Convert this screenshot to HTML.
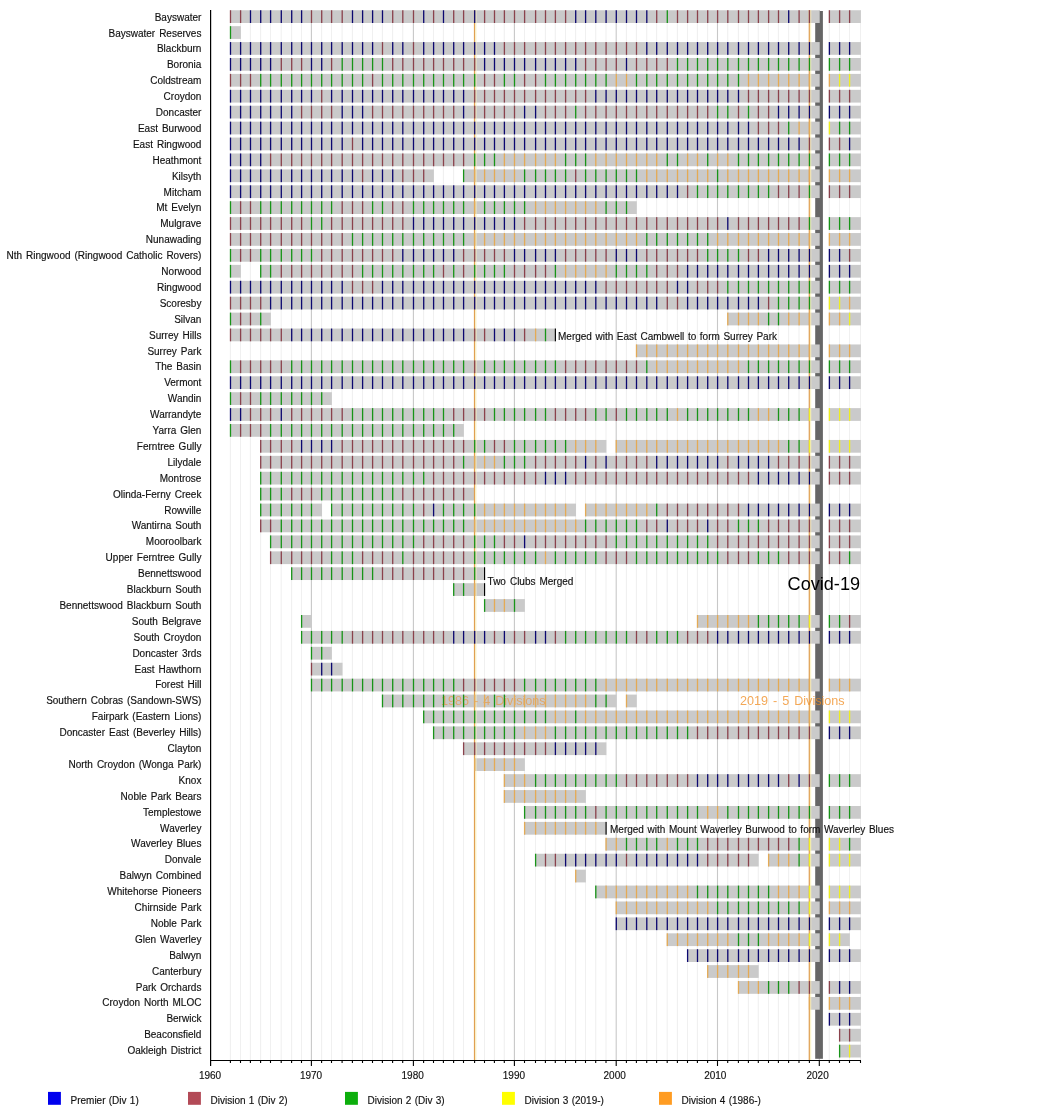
<!DOCTYPE html><html><head><meta charset="utf-8"><style>html,body{margin:0;padding:0;background:#fff;width:1050px;height:1110px;overflow:hidden}svg{display:block;will-change:transform}text{font-family:"Liberation Sans",sans-serif}</style></head><body>
<svg width="1050" height="1110" viewBox="0 0 1050 1110">
<rect width="1050" height="1110" fill="#fff"/>
<line x1="230.4" y1="10" x2="230.4" y2="1060.5" stroke="#f0f0f0" stroke-width="1.1"/>
<line x1="240.5" y1="10" x2="240.5" y2="1060.5" stroke="#f0f0f0" stroke-width="1.1"/>
<line x1="250.4" y1="10" x2="250.4" y2="1060.5" stroke="#f0f0f0" stroke-width="1.1"/>
<line x1="260.6" y1="10" x2="260.6" y2="1060.5" stroke="#f0f0f0" stroke-width="1.1"/>
<line x1="270.5" y1="10" x2="270.5" y2="1060.5" stroke="#f0f0f0" stroke-width="1.1"/>
<line x1="281.2" y1="10" x2="281.2" y2="1060.5" stroke="#f0f0f0" stroke-width="1.1"/>
<line x1="291.6" y1="10" x2="291.6" y2="1060.5" stroke="#f0f0f0" stroke-width="1.1"/>
<line x1="301.5" y1="10" x2="301.5" y2="1060.5" stroke="#f0f0f0" stroke-width="1.1"/>
<line x1="311.4" y1="10" x2="311.4" y2="1060.5" stroke="#c8c8c8" stroke-width="1.1"/>
<line x1="321.6" y1="10" x2="321.6" y2="1060.5" stroke="#f0f0f0" stroke-width="1.1"/>
<line x1="331.5" y1="10" x2="331.5" y2="1060.5" stroke="#f0f0f0" stroke-width="1.1"/>
<line x1="342.1" y1="10" x2="342.1" y2="1060.5" stroke="#f0f0f0" stroke-width="1.1"/>
<line x1="352.4" y1="10" x2="352.4" y2="1060.5" stroke="#f0f0f0" stroke-width="1.1"/>
<line x1="362.5" y1="10" x2="362.5" y2="1060.5" stroke="#f0f0f0" stroke-width="1.1"/>
<line x1="372.5" y1="10" x2="372.5" y2="1060.5" stroke="#f0f0f0" stroke-width="1.1"/>
<line x1="382.4" y1="10" x2="382.4" y2="1060.5" stroke="#f0f0f0" stroke-width="1.1"/>
<line x1="392.6" y1="10" x2="392.6" y2="1060.5" stroke="#f0f0f0" stroke-width="1.1"/>
<line x1="402.7" y1="10" x2="402.7" y2="1060.5" stroke="#f0f0f0" stroke-width="1.1"/>
<line x1="413.4" y1="10" x2="413.4" y2="1060.5" stroke="#c8c8c8" stroke-width="1.1"/>
<line x1="423.6" y1="10" x2="423.6" y2="1060.5" stroke="#f0f0f0" stroke-width="1.1"/>
<line x1="433.5" y1="10" x2="433.5" y2="1060.5" stroke="#f0f0f0" stroke-width="1.1"/>
<line x1="443.4" y1="10" x2="443.4" y2="1060.5" stroke="#f0f0f0" stroke-width="1.1"/>
<line x1="453.6" y1="10" x2="453.6" y2="1060.5" stroke="#f0f0f0" stroke-width="1.1"/>
<line x1="463.5" y1="10" x2="463.5" y2="1060.5" stroke="#f0f0f0" stroke-width="1.1"/>
<line x1="474.6" y1="10" x2="474.6" y2="1060.5" stroke="#f0f0f0" stroke-width="1.1"/>
<line x1="484.5" y1="10" x2="484.5" y2="1060.5" stroke="#f0f0f0" stroke-width="1.1"/>
<line x1="494.4" y1="10" x2="494.4" y2="1060.5" stroke="#f0f0f0" stroke-width="1.1"/>
<line x1="504.3" y1="10" x2="504.3" y2="1060.5" stroke="#f0f0f0" stroke-width="1.1"/>
<line x1="514.4" y1="10" x2="514.4" y2="1060.5" stroke="#c8c8c8" stroke-width="1.1"/>
<line x1="524.5" y1="10" x2="524.5" y2="1060.5" stroke="#f0f0f0" stroke-width="1.1"/>
<line x1="535.5" y1="10" x2="535.5" y2="1060.5" stroke="#f0f0f0" stroke-width="1.1"/>
<line x1="545.4" y1="10" x2="545.4" y2="1060.5" stroke="#f0f0f0" stroke-width="1.1"/>
<line x1="555.3" y1="10" x2="555.3" y2="1060.5" stroke="#f0f0f0" stroke-width="1.1"/>
<line x1="565.5" y1="10" x2="565.5" y2="1060.5" stroke="#f0f0f0" stroke-width="1.1"/>
<line x1="575.6" y1="10" x2="575.6" y2="1060.5" stroke="#f0f0f0" stroke-width="1.1"/>
<line x1="585.5" y1="10" x2="585.5" y2="1060.5" stroke="#f0f0f0" stroke-width="1.1"/>
<line x1="595.7" y1="10" x2="595.7" y2="1060.5" stroke="#f0f0f0" stroke-width="1.1"/>
<line x1="606.0" y1="10" x2="606.0" y2="1060.5" stroke="#f0f0f0" stroke-width="1.1"/>
<line x1="616.2" y1="10" x2="616.2" y2="1060.5" stroke="#c8c8c8" stroke-width="1.1"/>
<line x1="626.4" y1="10" x2="626.4" y2="1060.5" stroke="#f0f0f0" stroke-width="1.1"/>
<line x1="636.4" y1="10" x2="636.4" y2="1060.5" stroke="#f0f0f0" stroke-width="1.1"/>
<line x1="646.7" y1="10" x2="646.7" y2="1060.5" stroke="#f0f0f0" stroke-width="1.1"/>
<line x1="656.6" y1="10" x2="656.6" y2="1060.5" stroke="#f0f0f0" stroke-width="1.1"/>
<line x1="667.2" y1="10" x2="667.2" y2="1060.5" stroke="#f0f0f0" stroke-width="1.1"/>
<line x1="677.4" y1="10" x2="677.4" y2="1060.5" stroke="#f0f0f0" stroke-width="1.1"/>
<line x1="687.5" y1="10" x2="687.5" y2="1060.5" stroke="#f0f0f0" stroke-width="1.1"/>
<line x1="697.4" y1="10" x2="697.4" y2="1060.5" stroke="#f0f0f0" stroke-width="1.1"/>
<line x1="707.6" y1="10" x2="707.6" y2="1060.5" stroke="#f0f0f0" stroke-width="1.1"/>
<line x1="717.5" y1="10" x2="717.5" y2="1060.5" stroke="#c8c8c8" stroke-width="1.1"/>
<line x1="727.7" y1="10" x2="727.7" y2="1060.5" stroke="#f0f0f0" stroke-width="1.1"/>
<line x1="738.4" y1="10" x2="738.4" y2="1060.5" stroke="#f0f0f0" stroke-width="1.1"/>
<line x1="748.4" y1="10" x2="748.4" y2="1060.5" stroke="#f0f0f0" stroke-width="1.1"/>
<line x1="758.3" y1="10" x2="758.3" y2="1060.5" stroke="#f0f0f0" stroke-width="1.1"/>
<line x1="768.5" y1="10" x2="768.5" y2="1060.5" stroke="#f0f0f0" stroke-width="1.1"/>
<line x1="778.4" y1="10" x2="778.4" y2="1060.5" stroke="#f0f0f0" stroke-width="1.1"/>
<line x1="788.6" y1="10" x2="788.6" y2="1060.5" stroke="#f0f0f0" stroke-width="1.1"/>
<line x1="799.0" y1="10" x2="799.0" y2="1060.5" stroke="#f0f0f0" stroke-width="1.1"/>
<line x1="809.4" y1="10" x2="809.4" y2="1060.5" stroke="#f0f0f0" stroke-width="1.1"/>
<line x1="819.3" y1="10" x2="819.3" y2="1060.5" stroke="#c8c8c8" stroke-width="1.1"/>
<line x1="829.3" y1="10" x2="829.3" y2="1060.5" stroke="#f0f0f0" stroke-width="1.1"/>
<line x1="839.5" y1="10" x2="839.5" y2="1060.5" stroke="#f0f0f0" stroke-width="1.1"/>
<line x1="849.5" y1="10" x2="849.5" y2="1060.5" stroke="#f0f0f0" stroke-width="1.1"/>
<line x1="860.5" y1="10" x2="860.5" y2="1060.5" stroke="#f0f0f0" stroke-width="1.1"/>
<rect x="815.2" y="11" width="7.7" height="1047.8" fill="#666"/>
<g fill="#cacaca">
<rect x="230.0" y="10.25" width="589.7" height="12.75"/>
<rect x="828.9" y="10.25" width="32.0" height="12.75"/>
<rect x="230.0" y="26.16" width="10.9" height="12.75"/>
<rect x="230.0" y="42.08" width="589.7" height="12.75"/>
<rect x="828.9" y="42.08" width="32.0" height="12.75"/>
<rect x="230.0" y="57.99" width="589.7" height="12.75"/>
<rect x="828.9" y="57.99" width="32.0" height="12.75"/>
<rect x="230.0" y="73.91" width="589.7" height="12.75"/>
<rect x="828.9" y="73.91" width="32.0" height="12.75"/>
<rect x="230.0" y="89.82" width="589.7" height="12.75"/>
<rect x="828.9" y="89.82" width="32.0" height="12.75"/>
<rect x="230.0" y="105.74" width="589.7" height="12.75"/>
<rect x="828.9" y="105.74" width="32.0" height="12.75"/>
<rect x="230.0" y="121.66" width="589.7" height="12.75"/>
<rect x="828.9" y="121.66" width="32.0" height="12.75"/>
<rect x="230.0" y="137.57" width="589.7" height="12.75"/>
<rect x="828.9" y="137.57" width="32.0" height="12.75"/>
<rect x="230.0" y="153.48" width="589.7" height="12.75"/>
<rect x="828.9" y="153.48" width="32.0" height="12.75"/>
<rect x="230.0" y="169.40" width="203.9" height="12.75"/>
<rect x="463.1" y="169.40" width="356.6" height="12.75"/>
<rect x="828.9" y="169.40" width="32.0" height="12.75"/>
<rect x="230.0" y="185.31" width="589.7" height="12.75"/>
<rect x="828.9" y="185.31" width="32.0" height="12.75"/>
<rect x="230.0" y="201.23" width="406.8" height="12.75"/>
<rect x="230.0" y="217.14" width="589.7" height="12.75"/>
<rect x="828.9" y="217.14" width="32.0" height="12.75"/>
<rect x="230.0" y="233.06" width="589.7" height="12.75"/>
<rect x="828.9" y="233.06" width="32.0" height="12.75"/>
<rect x="230.0" y="248.97" width="589.7" height="12.75"/>
<rect x="828.9" y="248.97" width="32.0" height="12.75"/>
<rect x="230.0" y="264.89" width="10.9" height="12.75"/>
<rect x="260.2" y="264.89" width="559.5" height="12.75"/>
<rect x="828.9" y="264.89" width="32.0" height="12.75"/>
<rect x="230.0" y="280.81" width="589.7" height="12.75"/>
<rect x="828.9" y="280.81" width="32.0" height="12.75"/>
<rect x="230.0" y="296.72" width="589.7" height="12.75"/>
<rect x="828.9" y="296.72" width="32.0" height="12.75"/>
<rect x="230.0" y="312.63" width="40.9" height="12.75"/>
<rect x="727.3" y="312.63" width="92.4" height="12.75"/>
<rect x="828.9" y="312.63" width="32.0" height="12.75"/>
<rect x="230.0" y="328.55" width="325.7" height="12.75"/>
<rect x="636.0" y="344.46" width="183.7" height="12.75"/>
<rect x="828.9" y="344.46" width="32.0" height="12.75"/>
<rect x="230.0" y="360.38" width="589.7" height="12.75"/>
<rect x="828.9" y="360.38" width="32.0" height="12.75"/>
<rect x="230.0" y="376.29" width="589.7" height="12.75"/>
<rect x="828.9" y="376.29" width="32.0" height="12.75"/>
<rect x="230.0" y="392.21" width="101.9" height="12.75"/>
<rect x="230.0" y="408.12" width="589.7" height="12.75"/>
<rect x="828.9" y="408.12" width="32.0" height="12.75"/>
<rect x="230.0" y="424.04" width="233.9" height="12.75"/>
<rect x="260.2" y="439.95" width="346.2" height="12.75"/>
<rect x="615.8" y="439.95" width="203.9" height="12.75"/>
<rect x="828.9" y="439.95" width="32.0" height="12.75"/>
<rect x="260.2" y="455.87" width="559.5" height="12.75"/>
<rect x="828.9" y="455.87" width="32.0" height="12.75"/>
<rect x="260.2" y="471.78" width="559.5" height="12.75"/>
<rect x="828.9" y="471.78" width="32.0" height="12.75"/>
<rect x="260.2" y="487.70" width="214.8" height="12.75"/>
<rect x="260.2" y="503.61" width="61.8" height="12.75"/>
<rect x="331.1" y="503.61" width="244.9" height="12.75"/>
<rect x="585.1" y="503.61" width="234.6" height="12.75"/>
<rect x="828.9" y="503.61" width="32.0" height="12.75"/>
<rect x="260.2" y="519.53" width="559.5" height="12.75"/>
<rect x="828.9" y="519.53" width="32.0" height="12.75"/>
<rect x="270.1" y="535.44" width="549.6" height="12.75"/>
<rect x="828.9" y="535.44" width="32.0" height="12.75"/>
<rect x="270.1" y="551.36" width="549.6" height="12.75"/>
<rect x="828.9" y="551.36" width="32.0" height="12.75"/>
<rect x="291.2" y="567.27" width="193.7" height="12.75"/>
<rect x="453.2" y="583.19" width="31.7" height="12.75"/>
<rect x="484.1" y="599.11" width="40.8" height="12.75"/>
<rect x="301.1" y="615.02" width="10.7" height="12.75"/>
<rect x="697.0" y="615.02" width="122.7" height="12.75"/>
<rect x="828.9" y="615.02" width="32.0" height="12.75"/>
<rect x="301.1" y="630.93" width="518.6" height="12.75"/>
<rect x="828.9" y="630.93" width="32.0" height="12.75"/>
<rect x="311.0" y="646.85" width="20.9" height="12.75"/>
<rect x="311.0" y="662.76" width="31.5" height="12.75"/>
<rect x="311.0" y="678.68" width="508.7" height="12.75"/>
<rect x="828.9" y="678.68" width="32.0" height="12.75"/>
<rect x="382.0" y="694.59" width="234.6" height="12.75"/>
<rect x="626.0" y="694.59" width="10.8" height="12.75"/>
<rect x="423.2" y="710.51" width="396.5" height="12.75"/>
<rect x="828.9" y="710.51" width="32.0" height="12.75"/>
<rect x="433.1" y="726.42" width="386.6" height="12.75"/>
<rect x="828.9" y="726.42" width="32.0" height="12.75"/>
<rect x="463.1" y="742.34" width="143.3" height="12.75"/>
<rect x="474.2" y="758.25" width="50.7" height="12.75"/>
<rect x="503.9" y="774.17" width="315.8" height="12.75"/>
<rect x="828.9" y="774.17" width="32.0" height="12.75"/>
<rect x="503.9" y="790.08" width="82.0" height="12.75"/>
<rect x="524.1" y="806.00" width="295.6" height="12.75"/>
<rect x="828.9" y="806.00" width="32.0" height="12.75"/>
<rect x="524.1" y="821.91" width="82.3" height="12.75"/>
<rect x="605.6" y="837.83" width="214.1" height="12.75"/>
<rect x="828.9" y="837.83" width="32.0" height="12.75"/>
<rect x="535.1" y="853.75" width="223.6" height="12.75"/>
<rect x="768.1" y="853.75" width="51.6" height="12.75"/>
<rect x="828.9" y="853.75" width="32.0" height="12.75"/>
<rect x="575.2" y="869.66" width="10.7" height="12.75"/>
<rect x="595.3" y="885.57" width="224.4" height="12.75"/>
<rect x="828.9" y="885.57" width="32.0" height="12.75"/>
<rect x="615.8" y="901.49" width="203.9" height="12.75"/>
<rect x="828.9" y="901.49" width="32.0" height="12.75"/>
<rect x="615.8" y="917.40" width="203.9" height="12.75"/>
<rect x="828.9" y="917.40" width="32.0" height="12.75"/>
<rect x="666.8" y="933.32" width="152.9" height="12.75"/>
<rect x="828.9" y="933.32" width="21.0" height="12.75"/>
<rect x="687.1" y="949.23" width="132.6" height="12.75"/>
<rect x="828.9" y="949.23" width="32.0" height="12.75"/>
<rect x="707.2" y="965.15" width="51.5" height="12.75"/>
<rect x="738.0" y="981.06" width="81.7" height="12.75"/>
<rect x="828.9" y="981.06" width="32.0" height="12.75"/>
<rect x="809.0" y="996.98" width="10.7" height="12.75"/>
<rect x="828.9" y="996.98" width="32.0" height="12.75"/>
<rect x="828.9" y="1012.89" width="32.0" height="12.75"/>
<rect x="839.1" y="1028.81" width="21.8" height="12.75"/>
<rect x="839.1" y="1044.72" width="21.8" height="12.75"/>
</g>
<line x1="475.90000000000003" y1="10" x2="475.90000000000003" y2="1060.5" stroke="#fbf3c0" stroke-width="1.0"/>
<line x1="474.5" y1="10" x2="474.5" y2="1060.5" stroke="#e0a050" stroke-width="1.2"/>
<line x1="810.6999999999999" y1="10" x2="810.6999999999999" y2="1060.5" stroke="#fbf3c0" stroke-width="1.0"/>
<line x1="809.3" y1="10" x2="809.3" y2="1060.5" stroke="#e0a050" stroke-width="1.2"/>
<text x="441" y="704.7" font-size="12.6" word-spacing="1.5" fill="#f08c20" opacity="0.55">1986 - 4 Divisions</text>
<text x="740" y="704.7" font-size="12.6" word-spacing="1.5" fill="#f08c20" opacity="0.75">2019 - 5 Divisions</text>
<rect x="229.85" y="10.25" width="1.3" height="12.75" fill="#8a424c"/>
<rect x="239.95" y="10.25" width="1.3" height="12.75" fill="#8a424c"/>
<rect x="249.85" y="10.25" width="1.3" height="12.75" fill="#0c0870"/>
<rect x="260.05" y="10.25" width="1.3" height="12.75" fill="#0c0870"/>
<rect x="269.95" y="10.25" width="1.3" height="12.75" fill="#0c0870"/>
<rect x="280.65" y="10.25" width="1.3" height="12.75" fill="#0c0870"/>
<rect x="291.05" y="10.25" width="1.3" height="12.75" fill="#0c0870"/>
<rect x="300.95" y="10.25" width="1.3" height="12.75" fill="#0c0870"/>
<rect x="310.85" y="10.25" width="1.3" height="12.75" fill="#8a424c"/>
<rect x="321.05" y="10.25" width="1.3" height="12.75" fill="#8a424c"/>
<rect x="330.95" y="10.25" width="1.3" height="12.75" fill="#8a424c"/>
<rect x="341.55" y="10.25" width="1.3" height="12.75" fill="#8a424c"/>
<rect x="351.85" y="10.25" width="1.3" height="12.75" fill="#0c0870"/>
<rect x="361.95" y="10.25" width="1.3" height="12.75" fill="#0c0870"/>
<rect x="371.95" y="10.25" width="1.3" height="12.75" fill="#0c0870"/>
<rect x="381.85" y="10.25" width="1.3" height="12.75" fill="#0c0870"/>
<rect x="392.05" y="10.25" width="1.3" height="12.75" fill="#8a424c"/>
<rect x="402.15" y="10.25" width="1.3" height="12.75" fill="#8a424c"/>
<rect x="412.85" y="10.25" width="1.3" height="12.75" fill="#8a424c"/>
<rect x="423.05" y="10.25" width="1.3" height="12.75" fill="#0c0870"/>
<rect x="432.95" y="10.25" width="1.3" height="12.75" fill="#8a424c"/>
<rect x="442.85" y="10.25" width="1.3" height="12.75" fill="#0c0870"/>
<rect x="453.05" y="10.25" width="1.3" height="12.75" fill="#8a424c"/>
<rect x="462.95" y="10.25" width="1.3" height="12.75" fill="#8a424c"/>
<rect x="474.05" y="10.25" width="1.3" height="12.75" fill="#0c0870"/>
<rect x="483.95" y="10.25" width="1.3" height="12.75" fill="#8a424c"/>
<rect x="493.85" y="10.25" width="1.3" height="12.75" fill="#8a424c"/>
<rect x="503.75" y="10.25" width="1.3" height="12.75" fill="#8a424c"/>
<rect x="513.85" y="10.25" width="1.3" height="12.75" fill="#8a424c"/>
<rect x="523.95" y="10.25" width="1.3" height="12.75" fill="#8a424c"/>
<rect x="534.95" y="10.25" width="1.3" height="12.75" fill="#8a424c"/>
<rect x="544.85" y="10.25" width="1.3" height="12.75" fill="#8a424c"/>
<rect x="554.75" y="10.25" width="1.3" height="12.75" fill="#8a424c"/>
<rect x="564.95" y="10.25" width="1.3" height="12.75" fill="#8a424c"/>
<rect x="575.05" y="10.25" width="1.3" height="12.75" fill="#0c0870"/>
<rect x="584.95" y="10.25" width="1.3" height="12.75" fill="#0c0870"/>
<rect x="595.15" y="10.25" width="1.3" height="12.75" fill="#0c0870"/>
<rect x="605.45" y="10.25" width="1.3" height="12.75" fill="#0c0870"/>
<rect x="615.65" y="10.25" width="1.3" height="12.75" fill="#0c0870"/>
<rect x="625.85" y="10.25" width="1.3" height="12.75" fill="#0c0870"/>
<rect x="635.85" y="10.25" width="1.3" height="12.75" fill="#0c0870"/>
<rect x="646.15" y="10.25" width="1.3" height="12.75" fill="#0c0870"/>
<rect x="656.05" y="10.25" width="1.3" height="12.75" fill="#8a424c"/>
<rect x="666.65" y="10.25" width="1.3" height="12.75" fill="#189418"/>
<rect x="676.85" y="10.25" width="1.3" height="12.75" fill="#8a424c"/>
<rect x="686.95" y="10.25" width="1.3" height="12.75" fill="#8a424c"/>
<rect x="696.85" y="10.25" width="1.3" height="12.75" fill="#8a424c"/>
<rect x="707.05" y="10.25" width="1.3" height="12.75" fill="#8a424c"/>
<rect x="716.95" y="10.25" width="1.3" height="12.75" fill="#8a424c"/>
<rect x="727.15" y="10.25" width="1.3" height="12.75" fill="#8a424c"/>
<rect x="737.85" y="10.25" width="1.3" height="12.75" fill="#8a424c"/>
<rect x="747.85" y="10.25" width="1.3" height="12.75" fill="#8a424c"/>
<rect x="757.75" y="10.25" width="1.3" height="12.75" fill="#8a424c"/>
<rect x="767.95" y="10.25" width="1.3" height="12.75" fill="#8a424c"/>
<rect x="777.85" y="10.25" width="1.3" height="12.75" fill="#8a424c"/>
<rect x="788.05" y="10.25" width="1.3" height="12.75" fill="#0c0870"/>
<rect x="798.45" y="10.25" width="1.3" height="12.75" fill="#8a424c"/>
<rect x="808.85" y="10.25" width="1.3" height="12.75" fill="#8a424c"/>
<rect x="828.75" y="10.25" width="1.3" height="12.75" fill="#8a424c"/>
<rect x="838.95" y="10.25" width="1.3" height="12.75" fill="#8a424c"/>
<rect x="848.95" y="10.25" width="1.3" height="12.75" fill="#8a424c"/>
<rect x="229.85" y="26.16" width="1.3" height="12.75" fill="#189418"/>
<rect x="229.85" y="42.08" width="1.3" height="12.75" fill="#0c0870"/>
<rect x="239.95" y="42.08" width="1.3" height="12.75" fill="#0c0870"/>
<rect x="249.85" y="42.08" width="1.3" height="12.75" fill="#0c0870"/>
<rect x="260.05" y="42.08" width="1.3" height="12.75" fill="#0c0870"/>
<rect x="269.95" y="42.08" width="1.3" height="12.75" fill="#0c0870"/>
<rect x="280.65" y="42.08" width="1.3" height="12.75" fill="#0c0870"/>
<rect x="291.05" y="42.08" width="1.3" height="12.75" fill="#0c0870"/>
<rect x="300.95" y="42.08" width="1.3" height="12.75" fill="#0c0870"/>
<rect x="310.85" y="42.08" width="1.3" height="12.75" fill="#0c0870"/>
<rect x="321.05" y="42.08" width="1.3" height="12.75" fill="#0c0870"/>
<rect x="330.95" y="42.08" width="1.3" height="12.75" fill="#0c0870"/>
<rect x="341.55" y="42.08" width="1.3" height="12.75" fill="#0c0870"/>
<rect x="351.85" y="42.08" width="1.3" height="12.75" fill="#0c0870"/>
<rect x="361.95" y="42.08" width="1.3" height="12.75" fill="#0c0870"/>
<rect x="371.95" y="42.08" width="1.3" height="12.75" fill="#0c0870"/>
<rect x="381.85" y="42.08" width="1.3" height="12.75" fill="#8a424c"/>
<rect x="392.05" y="42.08" width="1.3" height="12.75" fill="#0c0870"/>
<rect x="402.15" y="42.08" width="1.3" height="12.75" fill="#0c0870"/>
<rect x="412.85" y="42.08" width="1.3" height="12.75" fill="#8a424c"/>
<rect x="423.05" y="42.08" width="1.3" height="12.75" fill="#0c0870"/>
<rect x="432.95" y="42.08" width="1.3" height="12.75" fill="#0c0870"/>
<rect x="442.85" y="42.08" width="1.3" height="12.75" fill="#0c0870"/>
<rect x="453.05" y="42.08" width="1.3" height="12.75" fill="#0c0870"/>
<rect x="462.95" y="42.08" width="1.3" height="12.75" fill="#0c0870"/>
<rect x="474.05" y="42.08" width="1.3" height="12.75" fill="#0c0870"/>
<rect x="483.95" y="42.08" width="1.3" height="12.75" fill="#0c0870"/>
<rect x="493.85" y="42.08" width="1.3" height="12.75" fill="#0c0870"/>
<rect x="503.75" y="42.08" width="1.3" height="12.75" fill="#8a424c"/>
<rect x="513.85" y="42.08" width="1.3" height="12.75" fill="#8a424c"/>
<rect x="523.95" y="42.08" width="1.3" height="12.75" fill="#8a424c"/>
<rect x="534.95" y="42.08" width="1.3" height="12.75" fill="#8a424c"/>
<rect x="544.85" y="42.08" width="1.3" height="12.75" fill="#8a424c"/>
<rect x="554.75" y="42.08" width="1.3" height="12.75" fill="#8a424c"/>
<rect x="564.95" y="42.08" width="1.3" height="12.75" fill="#8a424c"/>
<rect x="575.05" y="42.08" width="1.3" height="12.75" fill="#8a424c"/>
<rect x="584.95" y="42.08" width="1.3" height="12.75" fill="#8a424c"/>
<rect x="595.15" y="42.08" width="1.3" height="12.75" fill="#8a424c"/>
<rect x="605.45" y="42.08" width="1.3" height="12.75" fill="#8a424c"/>
<rect x="615.65" y="42.08" width="1.3" height="12.75" fill="#8a424c"/>
<rect x="625.85" y="42.08" width="1.3" height="12.75" fill="#8a424c"/>
<rect x="635.85" y="42.08" width="1.3" height="12.75" fill="#8a424c"/>
<rect x="646.15" y="42.08" width="1.3" height="12.75" fill="#0c0870"/>
<rect x="656.05" y="42.08" width="1.3" height="12.75" fill="#0c0870"/>
<rect x="666.65" y="42.08" width="1.3" height="12.75" fill="#0c0870"/>
<rect x="676.85" y="42.08" width="1.3" height="12.75" fill="#0c0870"/>
<rect x="686.95" y="42.08" width="1.3" height="12.75" fill="#0c0870"/>
<rect x="696.85" y="42.08" width="1.3" height="12.75" fill="#0c0870"/>
<rect x="707.05" y="42.08" width="1.3" height="12.75" fill="#0c0870"/>
<rect x="716.95" y="42.08" width="1.3" height="12.75" fill="#0c0870"/>
<rect x="727.15" y="42.08" width="1.3" height="12.75" fill="#0c0870"/>
<rect x="737.85" y="42.08" width="1.3" height="12.75" fill="#0c0870"/>
<rect x="747.85" y="42.08" width="1.3" height="12.75" fill="#0c0870"/>
<rect x="757.75" y="42.08" width="1.3" height="12.75" fill="#0c0870"/>
<rect x="767.95" y="42.08" width="1.3" height="12.75" fill="#0c0870"/>
<rect x="777.85" y="42.08" width="1.3" height="12.75" fill="#0c0870"/>
<rect x="788.05" y="42.08" width="1.3" height="12.75" fill="#0c0870"/>
<rect x="798.45" y="42.08" width="1.3" height="12.75" fill="#0c0870"/>
<rect x="808.85" y="42.08" width="1.3" height="12.75" fill="#0c0870"/>
<rect x="828.75" y="42.08" width="1.3" height="12.75" fill="#0c0870"/>
<rect x="838.95" y="42.08" width="1.3" height="12.75" fill="#0c0870"/>
<rect x="848.95" y="42.08" width="1.3" height="12.75" fill="#0c0870"/>
<rect x="229.85" y="57.99" width="1.3" height="12.75" fill="#0c0870"/>
<rect x="239.95" y="57.99" width="1.3" height="12.75" fill="#0c0870"/>
<rect x="249.85" y="57.99" width="1.3" height="12.75" fill="#0c0870"/>
<rect x="260.05" y="57.99" width="1.3" height="12.75" fill="#0c0870"/>
<rect x="269.95" y="57.99" width="1.3" height="12.75" fill="#0c0870"/>
<rect x="280.65" y="57.99" width="1.3" height="12.75" fill="#8a424c"/>
<rect x="291.05" y="57.99" width="1.3" height="12.75" fill="#8a424c"/>
<rect x="300.95" y="57.99" width="1.3" height="12.75" fill="#8a424c"/>
<rect x="310.85" y="57.99" width="1.3" height="12.75" fill="#0c0870"/>
<rect x="321.05" y="57.99" width="1.3" height="12.75" fill="#0c0870"/>
<rect x="330.95" y="57.99" width="1.3" height="12.75" fill="#8a424c"/>
<rect x="341.55" y="57.99" width="1.3" height="12.75" fill="#189418"/>
<rect x="351.85" y="57.99" width="1.3" height="12.75" fill="#189418"/>
<rect x="361.95" y="57.99" width="1.3" height="12.75" fill="#189418"/>
<rect x="371.95" y="57.99" width="1.3" height="12.75" fill="#189418"/>
<rect x="381.85" y="57.99" width="1.3" height="12.75" fill="#189418"/>
<rect x="392.05" y="57.99" width="1.3" height="12.75" fill="#8a424c"/>
<rect x="402.15" y="57.99" width="1.3" height="12.75" fill="#8a424c"/>
<rect x="412.85" y="57.99" width="1.3" height="12.75" fill="#8a424c"/>
<rect x="423.05" y="57.99" width="1.3" height="12.75" fill="#8a424c"/>
<rect x="432.95" y="57.99" width="1.3" height="12.75" fill="#8a424c"/>
<rect x="442.85" y="57.99" width="1.3" height="12.75" fill="#8a424c"/>
<rect x="453.05" y="57.99" width="1.3" height="12.75" fill="#8a424c"/>
<rect x="462.95" y="57.99" width="1.3" height="12.75" fill="#8a424c"/>
<rect x="474.05" y="57.99" width="1.3" height="12.75" fill="#8a424c"/>
<rect x="483.95" y="57.99" width="1.3" height="12.75" fill="#0c0870"/>
<rect x="493.85" y="57.99" width="1.3" height="12.75" fill="#0c0870"/>
<rect x="503.75" y="57.99" width="1.3" height="12.75" fill="#0c0870"/>
<rect x="513.85" y="57.99" width="1.3" height="12.75" fill="#0c0870"/>
<rect x="523.95" y="57.99" width="1.3" height="12.75" fill="#0c0870"/>
<rect x="534.95" y="57.99" width="1.3" height="12.75" fill="#0c0870"/>
<rect x="544.85" y="57.99" width="1.3" height="12.75" fill="#0c0870"/>
<rect x="554.75" y="57.99" width="1.3" height="12.75" fill="#0c0870"/>
<rect x="564.95" y="57.99" width="1.3" height="12.75" fill="#0c0870"/>
<rect x="575.05" y="57.99" width="1.3" height="12.75" fill="#0c0870"/>
<rect x="584.95" y="57.99" width="1.3" height="12.75" fill="#8a424c"/>
<rect x="595.15" y="57.99" width="1.3" height="12.75" fill="#8a424c"/>
<rect x="605.45" y="57.99" width="1.3" height="12.75" fill="#8a424c"/>
<rect x="615.65" y="57.99" width="1.3" height="12.75" fill="#8a424c"/>
<rect x="625.85" y="57.99" width="1.3" height="12.75" fill="#0c0870"/>
<rect x="635.85" y="57.99" width="1.3" height="12.75" fill="#8a424c"/>
<rect x="646.15" y="57.99" width="1.3" height="12.75" fill="#8a424c"/>
<rect x="656.05" y="57.99" width="1.3" height="12.75" fill="#8a424c"/>
<rect x="666.65" y="57.99" width="1.3" height="12.75" fill="#8a424c"/>
<rect x="676.85" y="57.99" width="1.3" height="12.75" fill="#189418"/>
<rect x="686.95" y="57.99" width="1.3" height="12.75" fill="#189418"/>
<rect x="696.85" y="57.99" width="1.3" height="12.75" fill="#189418"/>
<rect x="707.05" y="57.99" width="1.3" height="12.75" fill="#189418"/>
<rect x="716.95" y="57.99" width="1.3" height="12.75" fill="#189418"/>
<rect x="727.15" y="57.99" width="1.3" height="12.75" fill="#189418"/>
<rect x="737.85" y="57.99" width="1.3" height="12.75" fill="#189418"/>
<rect x="747.85" y="57.99" width="1.3" height="12.75" fill="#189418"/>
<rect x="757.75" y="57.99" width="1.3" height="12.75" fill="#189418"/>
<rect x="767.95" y="57.99" width="1.3" height="12.75" fill="#189418"/>
<rect x="777.85" y="57.99" width="1.3" height="12.75" fill="#189418"/>
<rect x="788.05" y="57.99" width="1.3" height="12.75" fill="#189418"/>
<rect x="798.45" y="57.99" width="1.3" height="12.75" fill="#189418"/>
<rect x="808.85" y="57.99" width="1.3" height="12.75" fill="#189418"/>
<rect x="828.75" y="57.99" width="1.3" height="12.75" fill="#189418"/>
<rect x="838.95" y="57.99" width="1.3" height="12.75" fill="#189418"/>
<rect x="848.95" y="57.99" width="1.3" height="12.75" fill="#189418"/>
<rect x="229.85" y="73.91" width="1.3" height="12.75" fill="#8a424c"/>
<rect x="239.95" y="73.91" width="1.3" height="12.75" fill="#8a424c"/>
<rect x="249.85" y="73.91" width="1.3" height="12.75" fill="#8a424c"/>
<rect x="260.05" y="73.91" width="1.3" height="12.75" fill="#189418"/>
<rect x="269.95" y="73.91" width="1.3" height="12.75" fill="#189418"/>
<rect x="280.65" y="73.91" width="1.3" height="12.75" fill="#189418"/>
<rect x="291.05" y="73.91" width="1.3" height="12.75" fill="#189418"/>
<rect x="300.95" y="73.91" width="1.3" height="12.75" fill="#189418"/>
<rect x="310.85" y="73.91" width="1.3" height="12.75" fill="#189418"/>
<rect x="321.05" y="73.91" width="1.3" height="12.75" fill="#189418"/>
<rect x="330.95" y="73.91" width="1.3" height="12.75" fill="#189418"/>
<rect x="341.55" y="73.91" width="1.3" height="12.75" fill="#189418"/>
<rect x="351.85" y="73.91" width="1.3" height="12.75" fill="#189418"/>
<rect x="361.95" y="73.91" width="1.3" height="12.75" fill="#189418"/>
<rect x="371.95" y="73.91" width="1.3" height="12.75" fill="#8a424c"/>
<rect x="381.85" y="73.91" width="1.3" height="12.75" fill="#189418"/>
<rect x="392.05" y="73.91" width="1.3" height="12.75" fill="#189418"/>
<rect x="402.15" y="73.91" width="1.3" height="12.75" fill="#189418"/>
<rect x="412.85" y="73.91" width="1.3" height="12.75" fill="#189418"/>
<rect x="423.05" y="73.91" width="1.3" height="12.75" fill="#189418"/>
<rect x="432.95" y="73.91" width="1.3" height="12.75" fill="#189418"/>
<rect x="442.85" y="73.91" width="1.3" height="12.75" fill="#189418"/>
<rect x="453.05" y="73.91" width="1.3" height="12.75" fill="#189418"/>
<rect x="462.95" y="73.91" width="1.3" height="12.75" fill="#189418"/>
<rect x="474.05" y="73.91" width="1.3" height="12.75" fill="#189418"/>
<rect x="483.95" y="73.91" width="1.3" height="12.75" fill="#8a424c"/>
<rect x="493.85" y="73.91" width="1.3" height="12.75" fill="#8a424c"/>
<rect x="503.75" y="73.91" width="1.3" height="12.75" fill="#189418"/>
<rect x="513.85" y="73.91" width="1.3" height="12.75" fill="#189418"/>
<rect x="523.95" y="73.91" width="1.3" height="12.75" fill="#8a424c"/>
<rect x="534.95" y="73.91" width="1.3" height="12.75" fill="#8a424c"/>
<rect x="544.85" y="73.91" width="1.3" height="12.75" fill="#189418"/>
<rect x="554.75" y="73.91" width="1.3" height="12.75" fill="#189418"/>
<rect x="564.95" y="73.91" width="1.3" height="12.75" fill="#189418"/>
<rect x="575.05" y="73.91" width="1.3" height="12.75" fill="#189418"/>
<rect x="584.95" y="73.91" width="1.3" height="12.75" fill="#189418"/>
<rect x="595.15" y="73.91" width="1.3" height="12.75" fill="#189418"/>
<rect x="605.45" y="73.91" width="1.3" height="12.75" fill="#189418"/>
<rect x="615.65" y="73.91" width="1.3" height="12.75" fill="#e4aa55"/>
<rect x="625.85" y="73.91" width="1.3" height="12.75" fill="#e4aa55"/>
<rect x="635.85" y="73.91" width="1.3" height="12.75" fill="#189418"/>
<rect x="646.15" y="73.91" width="1.3" height="12.75" fill="#189418"/>
<rect x="656.05" y="73.91" width="1.3" height="12.75" fill="#189418"/>
<rect x="666.65" y="73.91" width="1.3" height="12.75" fill="#189418"/>
<rect x="676.85" y="73.91" width="1.3" height="12.75" fill="#189418"/>
<rect x="686.95" y="73.91" width="1.3" height="12.75" fill="#189418"/>
<rect x="696.85" y="73.91" width="1.3" height="12.75" fill="#189418"/>
<rect x="707.05" y="73.91" width="1.3" height="12.75" fill="#189418"/>
<rect x="716.95" y="73.91" width="1.3" height="12.75" fill="#189418"/>
<rect x="727.15" y="73.91" width="1.3" height="12.75" fill="#189418"/>
<rect x="737.85" y="73.91" width="1.3" height="12.75" fill="#189418"/>
<rect x="747.85" y="73.91" width="1.3" height="12.75" fill="#e4aa55"/>
<rect x="757.75" y="73.91" width="1.3" height="12.75" fill="#e4aa55"/>
<rect x="767.95" y="73.91" width="1.3" height="12.75" fill="#e4aa55"/>
<rect x="777.85" y="73.91" width="1.3" height="12.75" fill="#e4aa55"/>
<rect x="788.05" y="73.91" width="1.3" height="12.75" fill="#e4aa55"/>
<rect x="798.45" y="73.91" width="1.3" height="12.75" fill="#e4aa55"/>
<rect x="808.85" y="73.91" width="1.3" height="12.75" fill="#e4aa55"/>
<rect x="828.75" y="73.91" width="1.3" height="12.75" fill="#e4aa55"/>
<rect x="838.95" y="73.91" width="1.3" height="12.75" fill="#eeee20"/>
<rect x="848.95" y="73.91" width="1.3" height="12.75" fill="#eeee20"/>
<rect x="229.85" y="89.82" width="1.3" height="12.75" fill="#0c0870"/>
<rect x="239.95" y="89.82" width="1.3" height="12.75" fill="#0c0870"/>
<rect x="249.85" y="89.82" width="1.3" height="12.75" fill="#0c0870"/>
<rect x="260.05" y="89.82" width="1.3" height="12.75" fill="#0c0870"/>
<rect x="269.95" y="89.82" width="1.3" height="12.75" fill="#0c0870"/>
<rect x="280.65" y="89.82" width="1.3" height="12.75" fill="#0c0870"/>
<rect x="291.05" y="89.82" width="1.3" height="12.75" fill="#0c0870"/>
<rect x="300.95" y="89.82" width="1.3" height="12.75" fill="#0c0870"/>
<rect x="310.85" y="89.82" width="1.3" height="12.75" fill="#0c0870"/>
<rect x="321.05" y="89.82" width="1.3" height="12.75" fill="#8a424c"/>
<rect x="330.95" y="89.82" width="1.3" height="12.75" fill="#0c0870"/>
<rect x="341.55" y="89.82" width="1.3" height="12.75" fill="#0c0870"/>
<rect x="351.85" y="89.82" width="1.3" height="12.75" fill="#0c0870"/>
<rect x="361.95" y="89.82" width="1.3" height="12.75" fill="#0c0870"/>
<rect x="371.95" y="89.82" width="1.3" height="12.75" fill="#0c0870"/>
<rect x="381.85" y="89.82" width="1.3" height="12.75" fill="#0c0870"/>
<rect x="392.05" y="89.82" width="1.3" height="12.75" fill="#0c0870"/>
<rect x="402.15" y="89.82" width="1.3" height="12.75" fill="#0c0870"/>
<rect x="412.85" y="89.82" width="1.3" height="12.75" fill="#0c0870"/>
<rect x="423.05" y="89.82" width="1.3" height="12.75" fill="#0c0870"/>
<rect x="432.95" y="89.82" width="1.3" height="12.75" fill="#0c0870"/>
<rect x="442.85" y="89.82" width="1.3" height="12.75" fill="#0c0870"/>
<rect x="453.05" y="89.82" width="1.3" height="12.75" fill="#0c0870"/>
<rect x="462.95" y="89.82" width="1.3" height="12.75" fill="#0c0870"/>
<rect x="474.05" y="89.82" width="1.3" height="12.75" fill="#8a424c"/>
<rect x="483.95" y="89.82" width="1.3" height="12.75" fill="#8a424c"/>
<rect x="493.85" y="89.82" width="1.3" height="12.75" fill="#8a424c"/>
<rect x="503.75" y="89.82" width="1.3" height="12.75" fill="#8a424c"/>
<rect x="513.85" y="89.82" width="1.3" height="12.75" fill="#8a424c"/>
<rect x="523.95" y="89.82" width="1.3" height="12.75" fill="#8a424c"/>
<rect x="534.95" y="89.82" width="1.3" height="12.75" fill="#8a424c"/>
<rect x="544.85" y="89.82" width="1.3" height="12.75" fill="#8a424c"/>
<rect x="554.75" y="89.82" width="1.3" height="12.75" fill="#8a424c"/>
<rect x="564.95" y="89.82" width="1.3" height="12.75" fill="#8a424c"/>
<rect x="575.05" y="89.82" width="1.3" height="12.75" fill="#8a424c"/>
<rect x="584.95" y="89.82" width="1.3" height="12.75" fill="#8a424c"/>
<rect x="595.15" y="89.82" width="1.3" height="12.75" fill="#0c0870"/>
<rect x="605.45" y="89.82" width="1.3" height="12.75" fill="#0c0870"/>
<rect x="615.65" y="89.82" width="1.3" height="12.75" fill="#0c0870"/>
<rect x="625.85" y="89.82" width="1.3" height="12.75" fill="#0c0870"/>
<rect x="635.85" y="89.82" width="1.3" height="12.75" fill="#0c0870"/>
<rect x="646.15" y="89.82" width="1.3" height="12.75" fill="#0c0870"/>
<rect x="656.05" y="89.82" width="1.3" height="12.75" fill="#0c0870"/>
<rect x="666.65" y="89.82" width="1.3" height="12.75" fill="#0c0870"/>
<rect x="676.85" y="89.82" width="1.3" height="12.75" fill="#0c0870"/>
<rect x="686.95" y="89.82" width="1.3" height="12.75" fill="#0c0870"/>
<rect x="696.85" y="89.82" width="1.3" height="12.75" fill="#0c0870"/>
<rect x="707.05" y="89.82" width="1.3" height="12.75" fill="#0c0870"/>
<rect x="716.95" y="89.82" width="1.3" height="12.75" fill="#0c0870"/>
<rect x="727.15" y="89.82" width="1.3" height="12.75" fill="#0c0870"/>
<rect x="737.85" y="89.82" width="1.3" height="12.75" fill="#0c0870"/>
<rect x="747.85" y="89.82" width="1.3" height="12.75" fill="#8a424c"/>
<rect x="757.75" y="89.82" width="1.3" height="12.75" fill="#8a424c"/>
<rect x="767.95" y="89.82" width="1.3" height="12.75" fill="#8a424c"/>
<rect x="777.85" y="89.82" width="1.3" height="12.75" fill="#8a424c"/>
<rect x="788.05" y="89.82" width="1.3" height="12.75" fill="#8a424c"/>
<rect x="798.45" y="89.82" width="1.3" height="12.75" fill="#8a424c"/>
<rect x="808.85" y="89.82" width="1.3" height="12.75" fill="#8a424c"/>
<rect x="828.75" y="89.82" width="1.3" height="12.75" fill="#8a424c"/>
<rect x="838.95" y="89.82" width="1.3" height="12.75" fill="#8a424c"/>
<rect x="848.95" y="89.82" width="1.3" height="12.75" fill="#8a424c"/>
<rect x="229.85" y="105.74" width="1.3" height="12.75" fill="#0c0870"/>
<rect x="239.95" y="105.74" width="1.3" height="12.75" fill="#0c0870"/>
<rect x="249.85" y="105.74" width="1.3" height="12.75" fill="#0c0870"/>
<rect x="260.05" y="105.74" width="1.3" height="12.75" fill="#0c0870"/>
<rect x="269.95" y="105.74" width="1.3" height="12.75" fill="#0c0870"/>
<rect x="280.65" y="105.74" width="1.3" height="12.75" fill="#0c0870"/>
<rect x="291.05" y="105.74" width="1.3" height="12.75" fill="#0c0870"/>
<rect x="300.95" y="105.74" width="1.3" height="12.75" fill="#8a424c"/>
<rect x="310.85" y="105.74" width="1.3" height="12.75" fill="#8a424c"/>
<rect x="321.05" y="105.74" width="1.3" height="12.75" fill="#8a424c"/>
<rect x="330.95" y="105.74" width="1.3" height="12.75" fill="#8a424c"/>
<rect x="341.55" y="105.74" width="1.3" height="12.75" fill="#0c0870"/>
<rect x="351.85" y="105.74" width="1.3" height="12.75" fill="#0c0870"/>
<rect x="361.95" y="105.74" width="1.3" height="12.75" fill="#0c0870"/>
<rect x="371.95" y="105.74" width="1.3" height="12.75" fill="#8a424c"/>
<rect x="381.85" y="105.74" width="1.3" height="12.75" fill="#8a424c"/>
<rect x="392.05" y="105.74" width="1.3" height="12.75" fill="#8a424c"/>
<rect x="402.15" y="105.74" width="1.3" height="12.75" fill="#8a424c"/>
<rect x="412.85" y="105.74" width="1.3" height="12.75" fill="#8a424c"/>
<rect x="423.05" y="105.74" width="1.3" height="12.75" fill="#8a424c"/>
<rect x="432.95" y="105.74" width="1.3" height="12.75" fill="#8a424c"/>
<rect x="442.85" y="105.74" width="1.3" height="12.75" fill="#8a424c"/>
<rect x="453.05" y="105.74" width="1.3" height="12.75" fill="#8a424c"/>
<rect x="462.95" y="105.74" width="1.3" height="12.75" fill="#0c0870"/>
<rect x="474.05" y="105.74" width="1.3" height="12.75" fill="#8a424c"/>
<rect x="483.95" y="105.74" width="1.3" height="12.75" fill="#8a424c"/>
<rect x="493.85" y="105.74" width="1.3" height="12.75" fill="#8a424c"/>
<rect x="503.75" y="105.74" width="1.3" height="12.75" fill="#8a424c"/>
<rect x="513.85" y="105.74" width="1.3" height="12.75" fill="#8a424c"/>
<rect x="523.95" y="105.74" width="1.3" height="12.75" fill="#0c0870"/>
<rect x="534.95" y="105.74" width="1.3" height="12.75" fill="#0c0870"/>
<rect x="544.85" y="105.74" width="1.3" height="12.75" fill="#8a424c"/>
<rect x="554.75" y="105.74" width="1.3" height="12.75" fill="#8a424c"/>
<rect x="564.95" y="105.74" width="1.3" height="12.75" fill="#8a424c"/>
<rect x="575.05" y="105.74" width="1.3" height="12.75" fill="#189418"/>
<rect x="584.95" y="105.74" width="1.3" height="12.75" fill="#8a424c"/>
<rect x="595.15" y="105.74" width="1.3" height="12.75" fill="#8a424c"/>
<rect x="605.45" y="105.74" width="1.3" height="12.75" fill="#8a424c"/>
<rect x="615.65" y="105.74" width="1.3" height="12.75" fill="#8a424c"/>
<rect x="625.85" y="105.74" width="1.3" height="12.75" fill="#8a424c"/>
<rect x="635.85" y="105.74" width="1.3" height="12.75" fill="#8a424c"/>
<rect x="646.15" y="105.74" width="1.3" height="12.75" fill="#8a424c"/>
<rect x="656.05" y="105.74" width="1.3" height="12.75" fill="#8a424c"/>
<rect x="666.65" y="105.74" width="1.3" height="12.75" fill="#8a424c"/>
<rect x="676.85" y="105.74" width="1.3" height="12.75" fill="#8a424c"/>
<rect x="686.95" y="105.74" width="1.3" height="12.75" fill="#8a424c"/>
<rect x="696.85" y="105.74" width="1.3" height="12.75" fill="#8a424c"/>
<rect x="707.05" y="105.74" width="1.3" height="12.75" fill="#8a424c"/>
<rect x="716.95" y="105.74" width="1.3" height="12.75" fill="#189418"/>
<rect x="727.15" y="105.74" width="1.3" height="12.75" fill="#189418"/>
<rect x="737.85" y="105.74" width="1.3" height="12.75" fill="#8a424c"/>
<rect x="747.85" y="105.74" width="1.3" height="12.75" fill="#189418"/>
<rect x="757.75" y="105.74" width="1.3" height="12.75" fill="#8a424c"/>
<rect x="767.95" y="105.74" width="1.3" height="12.75" fill="#8a424c"/>
<rect x="777.85" y="105.74" width="1.3" height="12.75" fill="#0c0870"/>
<rect x="788.05" y="105.74" width="1.3" height="12.75" fill="#0c0870"/>
<rect x="798.45" y="105.74" width="1.3" height="12.75" fill="#0c0870"/>
<rect x="808.85" y="105.74" width="1.3" height="12.75" fill="#0c0870"/>
<rect x="828.75" y="105.74" width="1.3" height="12.75" fill="#0c0870"/>
<rect x="838.95" y="105.74" width="1.3" height="12.75" fill="#0c0870"/>
<rect x="848.95" y="105.74" width="1.3" height="12.75" fill="#0c0870"/>
<rect x="229.85" y="121.66" width="1.3" height="12.75" fill="#0c0870"/>
<rect x="239.95" y="121.66" width="1.3" height="12.75" fill="#0c0870"/>
<rect x="249.85" y="121.66" width="1.3" height="12.75" fill="#0c0870"/>
<rect x="260.05" y="121.66" width="1.3" height="12.75" fill="#0c0870"/>
<rect x="269.95" y="121.66" width="1.3" height="12.75" fill="#0c0870"/>
<rect x="280.65" y="121.66" width="1.3" height="12.75" fill="#0c0870"/>
<rect x="291.05" y="121.66" width="1.3" height="12.75" fill="#0c0870"/>
<rect x="300.95" y="121.66" width="1.3" height="12.75" fill="#0c0870"/>
<rect x="310.85" y="121.66" width="1.3" height="12.75" fill="#0c0870"/>
<rect x="321.05" y="121.66" width="1.3" height="12.75" fill="#0c0870"/>
<rect x="330.95" y="121.66" width="1.3" height="12.75" fill="#0c0870"/>
<rect x="341.55" y="121.66" width="1.3" height="12.75" fill="#0c0870"/>
<rect x="351.85" y="121.66" width="1.3" height="12.75" fill="#0c0870"/>
<rect x="361.95" y="121.66" width="1.3" height="12.75" fill="#0c0870"/>
<rect x="371.95" y="121.66" width="1.3" height="12.75" fill="#0c0870"/>
<rect x="381.85" y="121.66" width="1.3" height="12.75" fill="#0c0870"/>
<rect x="392.05" y="121.66" width="1.3" height="12.75" fill="#0c0870"/>
<rect x="402.15" y="121.66" width="1.3" height="12.75" fill="#0c0870"/>
<rect x="412.85" y="121.66" width="1.3" height="12.75" fill="#0c0870"/>
<rect x="423.05" y="121.66" width="1.3" height="12.75" fill="#0c0870"/>
<rect x="432.95" y="121.66" width="1.3" height="12.75" fill="#0c0870"/>
<rect x="442.85" y="121.66" width="1.3" height="12.75" fill="#0c0870"/>
<rect x="453.05" y="121.66" width="1.3" height="12.75" fill="#0c0870"/>
<rect x="462.95" y="121.66" width="1.3" height="12.75" fill="#0c0870"/>
<rect x="474.05" y="121.66" width="1.3" height="12.75" fill="#0c0870"/>
<rect x="483.95" y="121.66" width="1.3" height="12.75" fill="#0c0870"/>
<rect x="493.85" y="121.66" width="1.3" height="12.75" fill="#0c0870"/>
<rect x="503.75" y="121.66" width="1.3" height="12.75" fill="#0c0870"/>
<rect x="513.85" y="121.66" width="1.3" height="12.75" fill="#0c0870"/>
<rect x="523.95" y="121.66" width="1.3" height="12.75" fill="#0c0870"/>
<rect x="534.95" y="121.66" width="1.3" height="12.75" fill="#0c0870"/>
<rect x="544.85" y="121.66" width="1.3" height="12.75" fill="#0c0870"/>
<rect x="554.75" y="121.66" width="1.3" height="12.75" fill="#0c0870"/>
<rect x="564.95" y="121.66" width="1.3" height="12.75" fill="#0c0870"/>
<rect x="575.05" y="121.66" width="1.3" height="12.75" fill="#0c0870"/>
<rect x="584.95" y="121.66" width="1.3" height="12.75" fill="#0c0870"/>
<rect x="595.15" y="121.66" width="1.3" height="12.75" fill="#0c0870"/>
<rect x="605.45" y="121.66" width="1.3" height="12.75" fill="#0c0870"/>
<rect x="615.65" y="121.66" width="1.3" height="12.75" fill="#0c0870"/>
<rect x="625.85" y="121.66" width="1.3" height="12.75" fill="#0c0870"/>
<rect x="635.85" y="121.66" width="1.3" height="12.75" fill="#0c0870"/>
<rect x="646.15" y="121.66" width="1.3" height="12.75" fill="#0c0870"/>
<rect x="656.05" y="121.66" width="1.3" height="12.75" fill="#0c0870"/>
<rect x="666.65" y="121.66" width="1.3" height="12.75" fill="#0c0870"/>
<rect x="676.85" y="121.66" width="1.3" height="12.75" fill="#0c0870"/>
<rect x="686.95" y="121.66" width="1.3" height="12.75" fill="#0c0870"/>
<rect x="696.85" y="121.66" width="1.3" height="12.75" fill="#0c0870"/>
<rect x="707.05" y="121.66" width="1.3" height="12.75" fill="#0c0870"/>
<rect x="716.95" y="121.66" width="1.3" height="12.75" fill="#0c0870"/>
<rect x="727.15" y="121.66" width="1.3" height="12.75" fill="#0c0870"/>
<rect x="737.85" y="121.66" width="1.3" height="12.75" fill="#0c0870"/>
<rect x="747.85" y="121.66" width="1.3" height="12.75" fill="#0c0870"/>
<rect x="757.75" y="121.66" width="1.3" height="12.75" fill="#8a424c"/>
<rect x="767.95" y="121.66" width="1.3" height="12.75" fill="#8a424c"/>
<rect x="777.85" y="121.66" width="1.3" height="12.75" fill="#8a424c"/>
<rect x="788.05" y="121.66" width="1.3" height="12.75" fill="#189418"/>
<rect x="798.45" y="121.66" width="1.3" height="12.75" fill="#e4aa55"/>
<rect x="808.85" y="121.66" width="1.3" height="12.75" fill="#e4aa55"/>
<rect x="828.75" y="121.66" width="1.3" height="12.75" fill="#eeee20"/>
<rect x="838.95" y="121.66" width="1.3" height="12.75" fill="#189418"/>
<rect x="848.95" y="121.66" width="1.3" height="12.75" fill="#189418"/>
<rect x="229.85" y="137.57" width="1.3" height="12.75" fill="#0c0870"/>
<rect x="239.95" y="137.57" width="1.3" height="12.75" fill="#0c0870"/>
<rect x="249.85" y="137.57" width="1.3" height="12.75" fill="#0c0870"/>
<rect x="260.05" y="137.57" width="1.3" height="12.75" fill="#0c0870"/>
<rect x="269.95" y="137.57" width="1.3" height="12.75" fill="#0c0870"/>
<rect x="280.65" y="137.57" width="1.3" height="12.75" fill="#0c0870"/>
<rect x="291.05" y="137.57" width="1.3" height="12.75" fill="#0c0870"/>
<rect x="300.95" y="137.57" width="1.3" height="12.75" fill="#0c0870"/>
<rect x="310.85" y="137.57" width="1.3" height="12.75" fill="#0c0870"/>
<rect x="321.05" y="137.57" width="1.3" height="12.75" fill="#0c0870"/>
<rect x="330.95" y="137.57" width="1.3" height="12.75" fill="#0c0870"/>
<rect x="341.55" y="137.57" width="1.3" height="12.75" fill="#0c0870"/>
<rect x="351.85" y="137.57" width="1.3" height="12.75" fill="#8a424c"/>
<rect x="361.95" y="137.57" width="1.3" height="12.75" fill="#0c0870"/>
<rect x="371.95" y="137.57" width="1.3" height="12.75" fill="#0c0870"/>
<rect x="381.85" y="137.57" width="1.3" height="12.75" fill="#0c0870"/>
<rect x="392.05" y="137.57" width="1.3" height="12.75" fill="#0c0870"/>
<rect x="402.15" y="137.57" width="1.3" height="12.75" fill="#0c0870"/>
<rect x="412.85" y="137.57" width="1.3" height="12.75" fill="#0c0870"/>
<rect x="423.05" y="137.57" width="1.3" height="12.75" fill="#0c0870"/>
<rect x="432.95" y="137.57" width="1.3" height="12.75" fill="#0c0870"/>
<rect x="442.85" y="137.57" width="1.3" height="12.75" fill="#0c0870"/>
<rect x="453.05" y="137.57" width="1.3" height="12.75" fill="#0c0870"/>
<rect x="462.95" y="137.57" width="1.3" height="12.75" fill="#0c0870"/>
<rect x="474.05" y="137.57" width="1.3" height="12.75" fill="#0c0870"/>
<rect x="483.95" y="137.57" width="1.3" height="12.75" fill="#0c0870"/>
<rect x="493.85" y="137.57" width="1.3" height="12.75" fill="#0c0870"/>
<rect x="503.75" y="137.57" width="1.3" height="12.75" fill="#0c0870"/>
<rect x="513.85" y="137.57" width="1.3" height="12.75" fill="#0c0870"/>
<rect x="523.95" y="137.57" width="1.3" height="12.75" fill="#0c0870"/>
<rect x="534.95" y="137.57" width="1.3" height="12.75" fill="#0c0870"/>
<rect x="544.85" y="137.57" width="1.3" height="12.75" fill="#0c0870"/>
<rect x="554.75" y="137.57" width="1.3" height="12.75" fill="#0c0870"/>
<rect x="564.95" y="137.57" width="1.3" height="12.75" fill="#0c0870"/>
<rect x="575.05" y="137.57" width="1.3" height="12.75" fill="#0c0870"/>
<rect x="584.95" y="137.57" width="1.3" height="12.75" fill="#0c0870"/>
<rect x="595.15" y="137.57" width="1.3" height="12.75" fill="#0c0870"/>
<rect x="605.45" y="137.57" width="1.3" height="12.75" fill="#0c0870"/>
<rect x="615.65" y="137.57" width="1.3" height="12.75" fill="#0c0870"/>
<rect x="625.85" y="137.57" width="1.3" height="12.75" fill="#0c0870"/>
<rect x="635.85" y="137.57" width="1.3" height="12.75" fill="#0c0870"/>
<rect x="646.15" y="137.57" width="1.3" height="12.75" fill="#0c0870"/>
<rect x="656.05" y="137.57" width="1.3" height="12.75" fill="#0c0870"/>
<rect x="666.65" y="137.57" width="1.3" height="12.75" fill="#0c0870"/>
<rect x="676.85" y="137.57" width="1.3" height="12.75" fill="#0c0870"/>
<rect x="686.95" y="137.57" width="1.3" height="12.75" fill="#0c0870"/>
<rect x="696.85" y="137.57" width="1.3" height="12.75" fill="#0c0870"/>
<rect x="707.05" y="137.57" width="1.3" height="12.75" fill="#0c0870"/>
<rect x="716.95" y="137.57" width="1.3" height="12.75" fill="#0c0870"/>
<rect x="727.15" y="137.57" width="1.3" height="12.75" fill="#0c0870"/>
<rect x="737.85" y="137.57" width="1.3" height="12.75" fill="#0c0870"/>
<rect x="747.85" y="137.57" width="1.3" height="12.75" fill="#0c0870"/>
<rect x="757.75" y="137.57" width="1.3" height="12.75" fill="#0c0870"/>
<rect x="767.95" y="137.57" width="1.3" height="12.75" fill="#0c0870"/>
<rect x="777.85" y="137.57" width="1.3" height="12.75" fill="#0c0870"/>
<rect x="788.05" y="137.57" width="1.3" height="12.75" fill="#0c0870"/>
<rect x="798.45" y="137.57" width="1.3" height="12.75" fill="#0c0870"/>
<rect x="808.85" y="137.57" width="1.3" height="12.75" fill="#8a424c"/>
<rect x="828.75" y="137.57" width="1.3" height="12.75" fill="#8a424c"/>
<rect x="838.95" y="137.57" width="1.3" height="12.75" fill="#8a424c"/>
<rect x="848.95" y="137.57" width="1.3" height="12.75" fill="#0c0870"/>
<rect x="229.85" y="153.48" width="1.3" height="12.75" fill="#0c0870"/>
<rect x="239.95" y="153.48" width="1.3" height="12.75" fill="#0c0870"/>
<rect x="249.85" y="153.48" width="1.3" height="12.75" fill="#0c0870"/>
<rect x="260.05" y="153.48" width="1.3" height="12.75" fill="#0c0870"/>
<rect x="269.95" y="153.48" width="1.3" height="12.75" fill="#8a424c"/>
<rect x="280.65" y="153.48" width="1.3" height="12.75" fill="#8a424c"/>
<rect x="291.05" y="153.48" width="1.3" height="12.75" fill="#8a424c"/>
<rect x="300.95" y="153.48" width="1.3" height="12.75" fill="#8a424c"/>
<rect x="310.85" y="153.48" width="1.3" height="12.75" fill="#8a424c"/>
<rect x="321.05" y="153.48" width="1.3" height="12.75" fill="#8a424c"/>
<rect x="330.95" y="153.48" width="1.3" height="12.75" fill="#8a424c"/>
<rect x="341.55" y="153.48" width="1.3" height="12.75" fill="#8a424c"/>
<rect x="351.85" y="153.48" width="1.3" height="12.75" fill="#8a424c"/>
<rect x="361.95" y="153.48" width="1.3" height="12.75" fill="#8a424c"/>
<rect x="371.95" y="153.48" width="1.3" height="12.75" fill="#8a424c"/>
<rect x="381.85" y="153.48" width="1.3" height="12.75" fill="#8a424c"/>
<rect x="392.05" y="153.48" width="1.3" height="12.75" fill="#8a424c"/>
<rect x="402.15" y="153.48" width="1.3" height="12.75" fill="#8a424c"/>
<rect x="412.85" y="153.48" width="1.3" height="12.75" fill="#8a424c"/>
<rect x="423.05" y="153.48" width="1.3" height="12.75" fill="#8a424c"/>
<rect x="432.95" y="153.48" width="1.3" height="12.75" fill="#8a424c"/>
<rect x="442.85" y="153.48" width="1.3" height="12.75" fill="#8a424c"/>
<rect x="453.05" y="153.48" width="1.3" height="12.75" fill="#8a424c"/>
<rect x="462.95" y="153.48" width="1.3" height="12.75" fill="#8a424c"/>
<rect x="474.05" y="153.48" width="1.3" height="12.75" fill="#189418"/>
<rect x="483.95" y="153.48" width="1.3" height="12.75" fill="#189418"/>
<rect x="493.85" y="153.48" width="1.3" height="12.75" fill="#189418"/>
<rect x="503.75" y="153.48" width="1.3" height="12.75" fill="#e4aa55"/>
<rect x="513.85" y="153.48" width="1.3" height="12.75" fill="#e4aa55"/>
<rect x="523.95" y="153.48" width="1.3" height="12.75" fill="#e4aa55"/>
<rect x="534.95" y="153.48" width="1.3" height="12.75" fill="#e4aa55"/>
<rect x="544.85" y="153.48" width="1.3" height="12.75" fill="#e4aa55"/>
<rect x="554.75" y="153.48" width="1.3" height="12.75" fill="#e4aa55"/>
<rect x="564.95" y="153.48" width="1.3" height="12.75" fill="#189418"/>
<rect x="575.05" y="153.48" width="1.3" height="12.75" fill="#189418"/>
<rect x="584.95" y="153.48" width="1.3" height="12.75" fill="#189418"/>
<rect x="595.15" y="153.48" width="1.3" height="12.75" fill="#e4aa55"/>
<rect x="605.45" y="153.48" width="1.3" height="12.75" fill="#e4aa55"/>
<rect x="615.65" y="153.48" width="1.3" height="12.75" fill="#e4aa55"/>
<rect x="625.85" y="153.48" width="1.3" height="12.75" fill="#e4aa55"/>
<rect x="635.85" y="153.48" width="1.3" height="12.75" fill="#e4aa55"/>
<rect x="646.15" y="153.48" width="1.3" height="12.75" fill="#e4aa55"/>
<rect x="656.05" y="153.48" width="1.3" height="12.75" fill="#e4aa55"/>
<rect x="666.65" y="153.48" width="1.3" height="12.75" fill="#189418"/>
<rect x="676.85" y="153.48" width="1.3" height="12.75" fill="#189418"/>
<rect x="686.95" y="153.48" width="1.3" height="12.75" fill="#e4aa55"/>
<rect x="696.85" y="153.48" width="1.3" height="12.75" fill="#e4aa55"/>
<rect x="707.05" y="153.48" width="1.3" height="12.75" fill="#189418"/>
<rect x="716.95" y="153.48" width="1.3" height="12.75" fill="#e4aa55"/>
<rect x="727.15" y="153.48" width="1.3" height="12.75" fill="#e4aa55"/>
<rect x="737.85" y="153.48" width="1.3" height="12.75" fill="#189418"/>
<rect x="747.85" y="153.48" width="1.3" height="12.75" fill="#189418"/>
<rect x="757.75" y="153.48" width="1.3" height="12.75" fill="#189418"/>
<rect x="767.95" y="153.48" width="1.3" height="12.75" fill="#189418"/>
<rect x="777.85" y="153.48" width="1.3" height="12.75" fill="#189418"/>
<rect x="788.05" y="153.48" width="1.3" height="12.75" fill="#189418"/>
<rect x="798.45" y="153.48" width="1.3" height="12.75" fill="#189418"/>
<rect x="808.85" y="153.48" width="1.3" height="12.75" fill="#189418"/>
<rect x="828.75" y="153.48" width="1.3" height="12.75" fill="#189418"/>
<rect x="838.95" y="153.48" width="1.3" height="12.75" fill="#189418"/>
<rect x="848.95" y="153.48" width="1.3" height="12.75" fill="#189418"/>
<rect x="229.85" y="169.40" width="1.3" height="12.75" fill="#0c0870"/>
<rect x="239.95" y="169.40" width="1.3" height="12.75" fill="#0c0870"/>
<rect x="249.85" y="169.40" width="1.3" height="12.75" fill="#0c0870"/>
<rect x="260.05" y="169.40" width="1.3" height="12.75" fill="#0c0870"/>
<rect x="269.95" y="169.40" width="1.3" height="12.75" fill="#0c0870"/>
<rect x="280.65" y="169.40" width="1.3" height="12.75" fill="#0c0870"/>
<rect x="291.05" y="169.40" width="1.3" height="12.75" fill="#0c0870"/>
<rect x="300.95" y="169.40" width="1.3" height="12.75" fill="#0c0870"/>
<rect x="310.85" y="169.40" width="1.3" height="12.75" fill="#0c0870"/>
<rect x="321.05" y="169.40" width="1.3" height="12.75" fill="#0c0870"/>
<rect x="330.95" y="169.40" width="1.3" height="12.75" fill="#0c0870"/>
<rect x="341.55" y="169.40" width="1.3" height="12.75" fill="#0c0870"/>
<rect x="351.85" y="169.40" width="1.3" height="12.75" fill="#0c0870"/>
<rect x="361.95" y="169.40" width="1.3" height="12.75" fill="#8a424c"/>
<rect x="371.95" y="169.40" width="1.3" height="12.75" fill="#0c0870"/>
<rect x="381.85" y="169.40" width="1.3" height="12.75" fill="#0c0870"/>
<rect x="392.05" y="169.40" width="1.3" height="12.75" fill="#0c0870"/>
<rect x="402.15" y="169.40" width="1.3" height="12.75" fill="#8a424c"/>
<rect x="412.85" y="169.40" width="1.3" height="12.75" fill="#8a424c"/>
<rect x="423.05" y="169.40" width="1.3" height="12.75" fill="#8a424c"/>
<rect x="462.95" y="169.40" width="1.3" height="12.75" fill="#189418"/>
<rect x="474.05" y="169.40" width="1.3" height="12.75" fill="#e4aa55"/>
<rect x="483.95" y="169.40" width="1.3" height="12.75" fill="#e4aa55"/>
<rect x="493.85" y="169.40" width="1.3" height="12.75" fill="#e4aa55"/>
<rect x="503.75" y="169.40" width="1.3" height="12.75" fill="#e4aa55"/>
<rect x="513.85" y="169.40" width="1.3" height="12.75" fill="#e4aa55"/>
<rect x="523.95" y="169.40" width="1.3" height="12.75" fill="#189418"/>
<rect x="534.95" y="169.40" width="1.3" height="12.75" fill="#189418"/>
<rect x="544.85" y="169.40" width="1.3" height="12.75" fill="#189418"/>
<rect x="554.75" y="169.40" width="1.3" height="12.75" fill="#189418"/>
<rect x="564.95" y="169.40" width="1.3" height="12.75" fill="#189418"/>
<rect x="575.05" y="169.40" width="1.3" height="12.75" fill="#8a424c"/>
<rect x="584.95" y="169.40" width="1.3" height="12.75" fill="#189418"/>
<rect x="595.15" y="169.40" width="1.3" height="12.75" fill="#189418"/>
<rect x="605.45" y="169.40" width="1.3" height="12.75" fill="#189418"/>
<rect x="615.65" y="169.40" width="1.3" height="12.75" fill="#189418"/>
<rect x="625.85" y="169.40" width="1.3" height="12.75" fill="#189418"/>
<rect x="635.85" y="169.40" width="1.3" height="12.75" fill="#189418"/>
<rect x="646.15" y="169.40" width="1.3" height="12.75" fill="#e4aa55"/>
<rect x="656.05" y="169.40" width="1.3" height="12.75" fill="#e4aa55"/>
<rect x="666.65" y="169.40" width="1.3" height="12.75" fill="#e4aa55"/>
<rect x="676.85" y="169.40" width="1.3" height="12.75" fill="#e4aa55"/>
<rect x="686.95" y="169.40" width="1.3" height="12.75" fill="#e4aa55"/>
<rect x="696.85" y="169.40" width="1.3" height="12.75" fill="#e4aa55"/>
<rect x="707.05" y="169.40" width="1.3" height="12.75" fill="#e4aa55"/>
<rect x="716.95" y="169.40" width="1.3" height="12.75" fill="#189418"/>
<rect x="727.15" y="169.40" width="1.3" height="12.75" fill="#e4aa55"/>
<rect x="737.85" y="169.40" width="1.3" height="12.75" fill="#e4aa55"/>
<rect x="747.85" y="169.40" width="1.3" height="12.75" fill="#e4aa55"/>
<rect x="757.75" y="169.40" width="1.3" height="12.75" fill="#e4aa55"/>
<rect x="767.95" y="169.40" width="1.3" height="12.75" fill="#e4aa55"/>
<rect x="777.85" y="169.40" width="1.3" height="12.75" fill="#e4aa55"/>
<rect x="788.05" y="169.40" width="1.3" height="12.75" fill="#e4aa55"/>
<rect x="798.45" y="169.40" width="1.3" height="12.75" fill="#e4aa55"/>
<rect x="808.85" y="169.40" width="1.3" height="12.75" fill="#e4aa55"/>
<rect x="828.75" y="169.40" width="1.3" height="12.75" fill="#e4aa55"/>
<rect x="838.95" y="169.40" width="1.3" height="12.75" fill="#e4aa55"/>
<rect x="848.95" y="169.40" width="1.3" height="12.75" fill="#e4aa55"/>
<rect x="229.85" y="185.31" width="1.3" height="12.75" fill="#0c0870"/>
<rect x="239.95" y="185.31" width="1.3" height="12.75" fill="#0c0870"/>
<rect x="249.85" y="185.31" width="1.3" height="12.75" fill="#0c0870"/>
<rect x="260.05" y="185.31" width="1.3" height="12.75" fill="#0c0870"/>
<rect x="269.95" y="185.31" width="1.3" height="12.75" fill="#0c0870"/>
<rect x="280.65" y="185.31" width="1.3" height="12.75" fill="#0c0870"/>
<rect x="291.05" y="185.31" width="1.3" height="12.75" fill="#0c0870"/>
<rect x="300.95" y="185.31" width="1.3" height="12.75" fill="#0c0870"/>
<rect x="310.85" y="185.31" width="1.3" height="12.75" fill="#0c0870"/>
<rect x="321.05" y="185.31" width="1.3" height="12.75" fill="#0c0870"/>
<rect x="330.95" y="185.31" width="1.3" height="12.75" fill="#0c0870"/>
<rect x="341.55" y="185.31" width="1.3" height="12.75" fill="#0c0870"/>
<rect x="351.85" y="185.31" width="1.3" height="12.75" fill="#0c0870"/>
<rect x="361.95" y="185.31" width="1.3" height="12.75" fill="#0c0870"/>
<rect x="371.95" y="185.31" width="1.3" height="12.75" fill="#0c0870"/>
<rect x="381.85" y="185.31" width="1.3" height="12.75" fill="#0c0870"/>
<rect x="392.05" y="185.31" width="1.3" height="12.75" fill="#0c0870"/>
<rect x="402.15" y="185.31" width="1.3" height="12.75" fill="#0c0870"/>
<rect x="412.85" y="185.31" width="1.3" height="12.75" fill="#0c0870"/>
<rect x="423.05" y="185.31" width="1.3" height="12.75" fill="#0c0870"/>
<rect x="432.95" y="185.31" width="1.3" height="12.75" fill="#0c0870"/>
<rect x="442.85" y="185.31" width="1.3" height="12.75" fill="#0c0870"/>
<rect x="453.05" y="185.31" width="1.3" height="12.75" fill="#0c0870"/>
<rect x="462.95" y="185.31" width="1.3" height="12.75" fill="#0c0870"/>
<rect x="474.05" y="185.31" width="1.3" height="12.75" fill="#0c0870"/>
<rect x="483.95" y="185.31" width="1.3" height="12.75" fill="#0c0870"/>
<rect x="493.85" y="185.31" width="1.3" height="12.75" fill="#0c0870"/>
<rect x="503.75" y="185.31" width="1.3" height="12.75" fill="#0c0870"/>
<rect x="513.85" y="185.31" width="1.3" height="12.75" fill="#0c0870"/>
<rect x="523.95" y="185.31" width="1.3" height="12.75" fill="#0c0870"/>
<rect x="534.95" y="185.31" width="1.3" height="12.75" fill="#0c0870"/>
<rect x="544.85" y="185.31" width="1.3" height="12.75" fill="#0c0870"/>
<rect x="554.75" y="185.31" width="1.3" height="12.75" fill="#0c0870"/>
<rect x="564.95" y="185.31" width="1.3" height="12.75" fill="#0c0870"/>
<rect x="575.05" y="185.31" width="1.3" height="12.75" fill="#0c0870"/>
<rect x="584.95" y="185.31" width="1.3" height="12.75" fill="#0c0870"/>
<rect x="595.15" y="185.31" width="1.3" height="12.75" fill="#0c0870"/>
<rect x="605.45" y="185.31" width="1.3" height="12.75" fill="#0c0870"/>
<rect x="615.65" y="185.31" width="1.3" height="12.75" fill="#0c0870"/>
<rect x="625.85" y="185.31" width="1.3" height="12.75" fill="#0c0870"/>
<rect x="635.85" y="185.31" width="1.3" height="12.75" fill="#0c0870"/>
<rect x="646.15" y="185.31" width="1.3" height="12.75" fill="#0c0870"/>
<rect x="656.05" y="185.31" width="1.3" height="12.75" fill="#0c0870"/>
<rect x="666.65" y="185.31" width="1.3" height="12.75" fill="#0c0870"/>
<rect x="676.85" y="185.31" width="1.3" height="12.75" fill="#0c0870"/>
<rect x="686.95" y="185.31" width="1.3" height="12.75" fill="#8a424c"/>
<rect x="696.85" y="185.31" width="1.3" height="12.75" fill="#189418"/>
<rect x="707.05" y="185.31" width="1.3" height="12.75" fill="#189418"/>
<rect x="716.95" y="185.31" width="1.3" height="12.75" fill="#189418"/>
<rect x="727.15" y="185.31" width="1.3" height="12.75" fill="#189418"/>
<rect x="737.85" y="185.31" width="1.3" height="12.75" fill="#189418"/>
<rect x="747.85" y="185.31" width="1.3" height="12.75" fill="#189418"/>
<rect x="757.75" y="185.31" width="1.3" height="12.75" fill="#189418"/>
<rect x="767.95" y="185.31" width="1.3" height="12.75" fill="#189418"/>
<rect x="777.85" y="185.31" width="1.3" height="12.75" fill="#8a424c"/>
<rect x="788.05" y="185.31" width="1.3" height="12.75" fill="#8a424c"/>
<rect x="798.45" y="185.31" width="1.3" height="12.75" fill="#8a424c"/>
<rect x="808.85" y="185.31" width="1.3" height="12.75" fill="#189418"/>
<rect x="828.75" y="185.31" width="1.3" height="12.75" fill="#8a424c"/>
<rect x="838.95" y="185.31" width="1.3" height="12.75" fill="#8a424c"/>
<rect x="848.95" y="185.31" width="1.3" height="12.75" fill="#8a424c"/>
<rect x="229.85" y="201.23" width="1.3" height="12.75" fill="#189418"/>
<rect x="239.95" y="201.23" width="1.3" height="12.75" fill="#8a424c"/>
<rect x="249.85" y="201.23" width="1.3" height="12.75" fill="#8a424c"/>
<rect x="260.05" y="201.23" width="1.3" height="12.75" fill="#189418"/>
<rect x="269.95" y="201.23" width="1.3" height="12.75" fill="#189418"/>
<rect x="280.65" y="201.23" width="1.3" height="12.75" fill="#189418"/>
<rect x="291.05" y="201.23" width="1.3" height="12.75" fill="#189418"/>
<rect x="300.95" y="201.23" width="1.3" height="12.75" fill="#189418"/>
<rect x="310.85" y="201.23" width="1.3" height="12.75" fill="#189418"/>
<rect x="321.05" y="201.23" width="1.3" height="12.75" fill="#189418"/>
<rect x="330.95" y="201.23" width="1.3" height="12.75" fill="#189418"/>
<rect x="341.55" y="201.23" width="1.3" height="12.75" fill="#8a424c"/>
<rect x="351.85" y="201.23" width="1.3" height="12.75" fill="#8a424c"/>
<rect x="361.95" y="201.23" width="1.3" height="12.75" fill="#8a424c"/>
<rect x="371.95" y="201.23" width="1.3" height="12.75" fill="#189418"/>
<rect x="381.85" y="201.23" width="1.3" height="12.75" fill="#189418"/>
<rect x="392.05" y="201.23" width="1.3" height="12.75" fill="#8a424c"/>
<rect x="402.15" y="201.23" width="1.3" height="12.75" fill="#8a424c"/>
<rect x="412.85" y="201.23" width="1.3" height="12.75" fill="#189418"/>
<rect x="423.05" y="201.23" width="1.3" height="12.75" fill="#189418"/>
<rect x="432.95" y="201.23" width="1.3" height="12.75" fill="#189418"/>
<rect x="442.85" y="201.23" width="1.3" height="12.75" fill="#189418"/>
<rect x="453.05" y="201.23" width="1.3" height="12.75" fill="#189418"/>
<rect x="462.95" y="201.23" width="1.3" height="12.75" fill="#189418"/>
<rect x="474.05" y="201.23" width="1.3" height="12.75" fill="#e4aa55"/>
<rect x="483.95" y="201.23" width="1.3" height="12.75" fill="#189418"/>
<rect x="493.85" y="201.23" width="1.3" height="12.75" fill="#189418"/>
<rect x="503.75" y="201.23" width="1.3" height="12.75" fill="#189418"/>
<rect x="513.85" y="201.23" width="1.3" height="12.75" fill="#189418"/>
<rect x="523.95" y="201.23" width="1.3" height="12.75" fill="#189418"/>
<rect x="534.95" y="201.23" width="1.3" height="12.75" fill="#e4aa55"/>
<rect x="544.85" y="201.23" width="1.3" height="12.75" fill="#e4aa55"/>
<rect x="554.75" y="201.23" width="1.3" height="12.75" fill="#e4aa55"/>
<rect x="564.95" y="201.23" width="1.3" height="12.75" fill="#e4aa55"/>
<rect x="575.05" y="201.23" width="1.3" height="12.75" fill="#e4aa55"/>
<rect x="584.95" y="201.23" width="1.3" height="12.75" fill="#e4aa55"/>
<rect x="595.15" y="201.23" width="1.3" height="12.75" fill="#e4aa55"/>
<rect x="605.45" y="201.23" width="1.3" height="12.75" fill="#189418"/>
<rect x="615.65" y="201.23" width="1.3" height="12.75" fill="#189418"/>
<rect x="625.85" y="201.23" width="1.3" height="12.75" fill="#189418"/>
<rect x="229.85" y="217.14" width="1.3" height="12.75" fill="#8a424c"/>
<rect x="239.95" y="217.14" width="1.3" height="12.75" fill="#8a424c"/>
<rect x="249.85" y="217.14" width="1.3" height="12.75" fill="#8a424c"/>
<rect x="260.05" y="217.14" width="1.3" height="12.75" fill="#8a424c"/>
<rect x="269.95" y="217.14" width="1.3" height="12.75" fill="#8a424c"/>
<rect x="280.65" y="217.14" width="1.3" height="12.75" fill="#8a424c"/>
<rect x="291.05" y="217.14" width="1.3" height="12.75" fill="#8a424c"/>
<rect x="300.95" y="217.14" width="1.3" height="12.75" fill="#8a424c"/>
<rect x="310.85" y="217.14" width="1.3" height="12.75" fill="#189418"/>
<rect x="321.05" y="217.14" width="1.3" height="12.75" fill="#189418"/>
<rect x="330.95" y="217.14" width="1.3" height="12.75" fill="#8a424c"/>
<rect x="341.55" y="217.14" width="1.3" height="12.75" fill="#8a424c"/>
<rect x="351.85" y="217.14" width="1.3" height="12.75" fill="#8a424c"/>
<rect x="361.95" y="217.14" width="1.3" height="12.75" fill="#8a424c"/>
<rect x="371.95" y="217.14" width="1.3" height="12.75" fill="#8a424c"/>
<rect x="381.85" y="217.14" width="1.3" height="12.75" fill="#8a424c"/>
<rect x="392.05" y="217.14" width="1.3" height="12.75" fill="#8a424c"/>
<rect x="402.15" y="217.14" width="1.3" height="12.75" fill="#8a424c"/>
<rect x="412.85" y="217.14" width="1.3" height="12.75" fill="#0c0870"/>
<rect x="423.05" y="217.14" width="1.3" height="12.75" fill="#0c0870"/>
<rect x="432.95" y="217.14" width="1.3" height="12.75" fill="#0c0870"/>
<rect x="442.85" y="217.14" width="1.3" height="12.75" fill="#0c0870"/>
<rect x="453.05" y="217.14" width="1.3" height="12.75" fill="#0c0870"/>
<rect x="462.95" y="217.14" width="1.3" height="12.75" fill="#0c0870"/>
<rect x="474.05" y="217.14" width="1.3" height="12.75" fill="#0c0870"/>
<rect x="483.95" y="217.14" width="1.3" height="12.75" fill="#0c0870"/>
<rect x="493.85" y="217.14" width="1.3" height="12.75" fill="#0c0870"/>
<rect x="503.75" y="217.14" width="1.3" height="12.75" fill="#0c0870"/>
<rect x="513.85" y="217.14" width="1.3" height="12.75" fill="#0c0870"/>
<rect x="523.95" y="217.14" width="1.3" height="12.75" fill="#8a424c"/>
<rect x="534.95" y="217.14" width="1.3" height="12.75" fill="#8a424c"/>
<rect x="544.85" y="217.14" width="1.3" height="12.75" fill="#8a424c"/>
<rect x="554.75" y="217.14" width="1.3" height="12.75" fill="#8a424c"/>
<rect x="564.95" y="217.14" width="1.3" height="12.75" fill="#8a424c"/>
<rect x="575.05" y="217.14" width="1.3" height="12.75" fill="#8a424c"/>
<rect x="584.95" y="217.14" width="1.3" height="12.75" fill="#8a424c"/>
<rect x="595.15" y="217.14" width="1.3" height="12.75" fill="#8a424c"/>
<rect x="605.45" y="217.14" width="1.3" height="12.75" fill="#8a424c"/>
<rect x="615.65" y="217.14" width="1.3" height="12.75" fill="#8a424c"/>
<rect x="625.85" y="217.14" width="1.3" height="12.75" fill="#8a424c"/>
<rect x="635.85" y="217.14" width="1.3" height="12.75" fill="#8a424c"/>
<rect x="646.15" y="217.14" width="1.3" height="12.75" fill="#8a424c"/>
<rect x="656.05" y="217.14" width="1.3" height="12.75" fill="#8a424c"/>
<rect x="666.65" y="217.14" width="1.3" height="12.75" fill="#8a424c"/>
<rect x="676.85" y="217.14" width="1.3" height="12.75" fill="#8a424c"/>
<rect x="686.95" y="217.14" width="1.3" height="12.75" fill="#8a424c"/>
<rect x="696.85" y="217.14" width="1.3" height="12.75" fill="#8a424c"/>
<rect x="707.05" y="217.14" width="1.3" height="12.75" fill="#8a424c"/>
<rect x="716.95" y="217.14" width="1.3" height="12.75" fill="#8a424c"/>
<rect x="727.15" y="217.14" width="1.3" height="12.75" fill="#0c0870"/>
<rect x="737.85" y="217.14" width="1.3" height="12.75" fill="#8a424c"/>
<rect x="747.85" y="217.14" width="1.3" height="12.75" fill="#8a424c"/>
<rect x="757.75" y="217.14" width="1.3" height="12.75" fill="#8a424c"/>
<rect x="767.95" y="217.14" width="1.3" height="12.75" fill="#8a424c"/>
<rect x="777.85" y="217.14" width="1.3" height="12.75" fill="#8a424c"/>
<rect x="788.05" y="217.14" width="1.3" height="12.75" fill="#8a424c"/>
<rect x="798.45" y="217.14" width="1.3" height="12.75" fill="#8a424c"/>
<rect x="808.85" y="217.14" width="1.3" height="12.75" fill="#189418"/>
<rect x="828.75" y="217.14" width="1.3" height="12.75" fill="#189418"/>
<rect x="838.95" y="217.14" width="1.3" height="12.75" fill="#189418"/>
<rect x="848.95" y="217.14" width="1.3" height="12.75" fill="#189418"/>
<rect x="229.85" y="233.06" width="1.3" height="12.75" fill="#8a424c"/>
<rect x="239.95" y="233.06" width="1.3" height="12.75" fill="#8a424c"/>
<rect x="249.85" y="233.06" width="1.3" height="12.75" fill="#8a424c"/>
<rect x="260.05" y="233.06" width="1.3" height="12.75" fill="#8a424c"/>
<rect x="269.95" y="233.06" width="1.3" height="12.75" fill="#8a424c"/>
<rect x="280.65" y="233.06" width="1.3" height="12.75" fill="#8a424c"/>
<rect x="291.05" y="233.06" width="1.3" height="12.75" fill="#8a424c"/>
<rect x="300.95" y="233.06" width="1.3" height="12.75" fill="#8a424c"/>
<rect x="310.85" y="233.06" width="1.3" height="12.75" fill="#8a424c"/>
<rect x="321.05" y="233.06" width="1.3" height="12.75" fill="#8a424c"/>
<rect x="330.95" y="233.06" width="1.3" height="12.75" fill="#8a424c"/>
<rect x="341.55" y="233.06" width="1.3" height="12.75" fill="#8a424c"/>
<rect x="351.85" y="233.06" width="1.3" height="12.75" fill="#189418"/>
<rect x="361.95" y="233.06" width="1.3" height="12.75" fill="#189418"/>
<rect x="371.95" y="233.06" width="1.3" height="12.75" fill="#189418"/>
<rect x="381.85" y="233.06" width="1.3" height="12.75" fill="#189418"/>
<rect x="392.05" y="233.06" width="1.3" height="12.75" fill="#189418"/>
<rect x="402.15" y="233.06" width="1.3" height="12.75" fill="#189418"/>
<rect x="412.85" y="233.06" width="1.3" height="12.75" fill="#189418"/>
<rect x="423.05" y="233.06" width="1.3" height="12.75" fill="#189418"/>
<rect x="432.95" y="233.06" width="1.3" height="12.75" fill="#189418"/>
<rect x="442.85" y="233.06" width="1.3" height="12.75" fill="#189418"/>
<rect x="453.05" y="233.06" width="1.3" height="12.75" fill="#189418"/>
<rect x="462.95" y="233.06" width="1.3" height="12.75" fill="#189418"/>
<rect x="474.05" y="233.06" width="1.3" height="12.75" fill="#e4aa55"/>
<rect x="483.95" y="233.06" width="1.3" height="12.75" fill="#e4aa55"/>
<rect x="493.85" y="233.06" width="1.3" height="12.75" fill="#e4aa55"/>
<rect x="503.75" y="233.06" width="1.3" height="12.75" fill="#e4aa55"/>
<rect x="513.85" y="233.06" width="1.3" height="12.75" fill="#e4aa55"/>
<rect x="523.95" y="233.06" width="1.3" height="12.75" fill="#e4aa55"/>
<rect x="534.95" y="233.06" width="1.3" height="12.75" fill="#e4aa55"/>
<rect x="544.85" y="233.06" width="1.3" height="12.75" fill="#e4aa55"/>
<rect x="554.75" y="233.06" width="1.3" height="12.75" fill="#e4aa55"/>
<rect x="564.95" y="233.06" width="1.3" height="12.75" fill="#e4aa55"/>
<rect x="575.05" y="233.06" width="1.3" height="12.75" fill="#e4aa55"/>
<rect x="584.95" y="233.06" width="1.3" height="12.75" fill="#e4aa55"/>
<rect x="595.15" y="233.06" width="1.3" height="12.75" fill="#e4aa55"/>
<rect x="605.45" y="233.06" width="1.3" height="12.75" fill="#e4aa55"/>
<rect x="615.65" y="233.06" width="1.3" height="12.75" fill="#e4aa55"/>
<rect x="625.85" y="233.06" width="1.3" height="12.75" fill="#e4aa55"/>
<rect x="635.85" y="233.06" width="1.3" height="12.75" fill="#e4aa55"/>
<rect x="646.15" y="233.06" width="1.3" height="12.75" fill="#189418"/>
<rect x="656.05" y="233.06" width="1.3" height="12.75" fill="#189418"/>
<rect x="666.65" y="233.06" width="1.3" height="12.75" fill="#189418"/>
<rect x="676.85" y="233.06" width="1.3" height="12.75" fill="#189418"/>
<rect x="686.95" y="233.06" width="1.3" height="12.75" fill="#189418"/>
<rect x="696.85" y="233.06" width="1.3" height="12.75" fill="#189418"/>
<rect x="707.05" y="233.06" width="1.3" height="12.75" fill="#189418"/>
<rect x="716.95" y="233.06" width="1.3" height="12.75" fill="#e4aa55"/>
<rect x="727.15" y="233.06" width="1.3" height="12.75" fill="#e4aa55"/>
<rect x="737.85" y="233.06" width="1.3" height="12.75" fill="#e4aa55"/>
<rect x="747.85" y="233.06" width="1.3" height="12.75" fill="#e4aa55"/>
<rect x="757.75" y="233.06" width="1.3" height="12.75" fill="#e4aa55"/>
<rect x="767.95" y="233.06" width="1.3" height="12.75" fill="#e4aa55"/>
<rect x="777.85" y="233.06" width="1.3" height="12.75" fill="#e4aa55"/>
<rect x="788.05" y="233.06" width="1.3" height="12.75" fill="#e4aa55"/>
<rect x="798.45" y="233.06" width="1.3" height="12.75" fill="#e4aa55"/>
<rect x="808.85" y="233.06" width="1.3" height="12.75" fill="#e4aa55"/>
<rect x="828.75" y="233.06" width="1.3" height="12.75" fill="#e4aa55"/>
<rect x="838.95" y="233.06" width="1.3" height="12.75" fill="#e4aa55"/>
<rect x="848.95" y="233.06" width="1.3" height="12.75" fill="#e4aa55"/>
<rect x="229.85" y="248.97" width="1.3" height="12.75" fill="#189418"/>
<rect x="239.95" y="248.97" width="1.3" height="12.75" fill="#8a424c"/>
<rect x="249.85" y="248.97" width="1.3" height="12.75" fill="#8a424c"/>
<rect x="260.05" y="248.97" width="1.3" height="12.75" fill="#189418"/>
<rect x="269.95" y="248.97" width="1.3" height="12.75" fill="#189418"/>
<rect x="280.65" y="248.97" width="1.3" height="12.75" fill="#189418"/>
<rect x="291.05" y="248.97" width="1.3" height="12.75" fill="#189418"/>
<rect x="300.95" y="248.97" width="1.3" height="12.75" fill="#189418"/>
<rect x="310.85" y="248.97" width="1.3" height="12.75" fill="#189418"/>
<rect x="321.05" y="248.97" width="1.3" height="12.75" fill="#8a424c"/>
<rect x="330.95" y="248.97" width="1.3" height="12.75" fill="#8a424c"/>
<rect x="341.55" y="248.97" width="1.3" height="12.75" fill="#8a424c"/>
<rect x="351.85" y="248.97" width="1.3" height="12.75" fill="#8a424c"/>
<rect x="361.95" y="248.97" width="1.3" height="12.75" fill="#8a424c"/>
<rect x="371.95" y="248.97" width="1.3" height="12.75" fill="#8a424c"/>
<rect x="381.85" y="248.97" width="1.3" height="12.75" fill="#8a424c"/>
<rect x="392.05" y="248.97" width="1.3" height="12.75" fill="#8a424c"/>
<rect x="402.15" y="248.97" width="1.3" height="12.75" fill="#0c0870"/>
<rect x="412.85" y="248.97" width="1.3" height="12.75" fill="#0c0870"/>
<rect x="423.05" y="248.97" width="1.3" height="12.75" fill="#0c0870"/>
<rect x="432.95" y="248.97" width="1.3" height="12.75" fill="#0c0870"/>
<rect x="442.85" y="248.97" width="1.3" height="12.75" fill="#0c0870"/>
<rect x="453.05" y="248.97" width="1.3" height="12.75" fill="#0c0870"/>
<rect x="462.95" y="248.97" width="1.3" height="12.75" fill="#8a424c"/>
<rect x="474.05" y="248.97" width="1.3" height="12.75" fill="#8a424c"/>
<rect x="483.95" y="248.97" width="1.3" height="12.75" fill="#8a424c"/>
<rect x="493.85" y="248.97" width="1.3" height="12.75" fill="#8a424c"/>
<rect x="503.75" y="248.97" width="1.3" height="12.75" fill="#8a424c"/>
<rect x="513.85" y="248.97" width="1.3" height="12.75" fill="#0c0870"/>
<rect x="523.95" y="248.97" width="1.3" height="12.75" fill="#0c0870"/>
<rect x="534.95" y="248.97" width="1.3" height="12.75" fill="#0c0870"/>
<rect x="544.85" y="248.97" width="1.3" height="12.75" fill="#0c0870"/>
<rect x="554.75" y="248.97" width="1.3" height="12.75" fill="#0c0870"/>
<rect x="564.95" y="248.97" width="1.3" height="12.75" fill="#8a424c"/>
<rect x="575.05" y="248.97" width="1.3" height="12.75" fill="#8a424c"/>
<rect x="584.95" y="248.97" width="1.3" height="12.75" fill="#8a424c"/>
<rect x="595.15" y="248.97" width="1.3" height="12.75" fill="#8a424c"/>
<rect x="605.45" y="248.97" width="1.3" height="12.75" fill="#8a424c"/>
<rect x="615.65" y="248.97" width="1.3" height="12.75" fill="#0c0870"/>
<rect x="625.85" y="248.97" width="1.3" height="12.75" fill="#0c0870"/>
<rect x="635.85" y="248.97" width="1.3" height="12.75" fill="#0c0870"/>
<rect x="646.15" y="248.97" width="1.3" height="12.75" fill="#8a424c"/>
<rect x="656.05" y="248.97" width="1.3" height="12.75" fill="#8a424c"/>
<rect x="666.65" y="248.97" width="1.3" height="12.75" fill="#8a424c"/>
<rect x="676.85" y="248.97" width="1.3" height="12.75" fill="#8a424c"/>
<rect x="686.95" y="248.97" width="1.3" height="12.75" fill="#8a424c"/>
<rect x="696.85" y="248.97" width="1.3" height="12.75" fill="#8a424c"/>
<rect x="707.05" y="248.97" width="1.3" height="12.75" fill="#189418"/>
<rect x="716.95" y="248.97" width="1.3" height="12.75" fill="#189418"/>
<rect x="727.15" y="248.97" width="1.3" height="12.75" fill="#189418"/>
<rect x="737.85" y="248.97" width="1.3" height="12.75" fill="#189418"/>
<rect x="747.85" y="248.97" width="1.3" height="12.75" fill="#8a424c"/>
<rect x="757.75" y="248.97" width="1.3" height="12.75" fill="#8a424c"/>
<rect x="767.95" y="248.97" width="1.3" height="12.75" fill="#0c0870"/>
<rect x="777.85" y="248.97" width="1.3" height="12.75" fill="#0c0870"/>
<rect x="788.05" y="248.97" width="1.3" height="12.75" fill="#0c0870"/>
<rect x="798.45" y="248.97" width="1.3" height="12.75" fill="#0c0870"/>
<rect x="808.85" y="248.97" width="1.3" height="12.75" fill="#0c0870"/>
<rect x="828.75" y="248.97" width="1.3" height="12.75" fill="#0c0870"/>
<rect x="838.95" y="248.97" width="1.3" height="12.75" fill="#0c0870"/>
<rect x="848.95" y="248.97" width="1.3" height="12.75" fill="#8a424c"/>
<rect x="229.85" y="264.89" width="1.3" height="12.75" fill="#189418"/>
<rect x="260.05" y="264.89" width="1.3" height="12.75" fill="#189418"/>
<rect x="269.95" y="264.89" width="1.3" height="12.75" fill="#189418"/>
<rect x="280.65" y="264.89" width="1.3" height="12.75" fill="#8a424c"/>
<rect x="291.05" y="264.89" width="1.3" height="12.75" fill="#8a424c"/>
<rect x="300.95" y="264.89" width="1.3" height="12.75" fill="#8a424c"/>
<rect x="310.85" y="264.89" width="1.3" height="12.75" fill="#8a424c"/>
<rect x="321.05" y="264.89" width="1.3" height="12.75" fill="#8a424c"/>
<rect x="330.95" y="264.89" width="1.3" height="12.75" fill="#8a424c"/>
<rect x="341.55" y="264.89" width="1.3" height="12.75" fill="#8a424c"/>
<rect x="351.85" y="264.89" width="1.3" height="12.75" fill="#8a424c"/>
<rect x="361.95" y="264.89" width="1.3" height="12.75" fill="#189418"/>
<rect x="371.95" y="264.89" width="1.3" height="12.75" fill="#189418"/>
<rect x="381.85" y="264.89" width="1.3" height="12.75" fill="#189418"/>
<rect x="392.05" y="264.89" width="1.3" height="12.75" fill="#189418"/>
<rect x="402.15" y="264.89" width="1.3" height="12.75" fill="#189418"/>
<rect x="412.85" y="264.89" width="1.3" height="12.75" fill="#189418"/>
<rect x="423.05" y="264.89" width="1.3" height="12.75" fill="#189418"/>
<rect x="432.95" y="264.89" width="1.3" height="12.75" fill="#189418"/>
<rect x="442.85" y="264.89" width="1.3" height="12.75" fill="#8a424c"/>
<rect x="453.05" y="264.89" width="1.3" height="12.75" fill="#189418"/>
<rect x="462.95" y="264.89" width="1.3" height="12.75" fill="#8a424c"/>
<rect x="474.05" y="264.89" width="1.3" height="12.75" fill="#189418"/>
<rect x="483.95" y="264.89" width="1.3" height="12.75" fill="#189418"/>
<rect x="493.85" y="264.89" width="1.3" height="12.75" fill="#189418"/>
<rect x="503.75" y="264.89" width="1.3" height="12.75" fill="#189418"/>
<rect x="513.85" y="264.89" width="1.3" height="12.75" fill="#8a424c"/>
<rect x="523.95" y="264.89" width="1.3" height="12.75" fill="#8a424c"/>
<rect x="534.95" y="264.89" width="1.3" height="12.75" fill="#8a424c"/>
<rect x="544.85" y="264.89" width="1.3" height="12.75" fill="#8a424c"/>
<rect x="554.75" y="264.89" width="1.3" height="12.75" fill="#189418"/>
<rect x="564.95" y="264.89" width="1.3" height="12.75" fill="#e4aa55"/>
<rect x="575.05" y="264.89" width="1.3" height="12.75" fill="#e4aa55"/>
<rect x="584.95" y="264.89" width="1.3" height="12.75" fill="#e4aa55"/>
<rect x="595.15" y="264.89" width="1.3" height="12.75" fill="#e4aa55"/>
<rect x="605.45" y="264.89" width="1.3" height="12.75" fill="#e4aa55"/>
<rect x="615.65" y="264.89" width="1.3" height="12.75" fill="#189418"/>
<rect x="625.85" y="264.89" width="1.3" height="12.75" fill="#189418"/>
<rect x="635.85" y="264.89" width="1.3" height="12.75" fill="#189418"/>
<rect x="646.15" y="264.89" width="1.3" height="12.75" fill="#189418"/>
<rect x="656.05" y="264.89" width="1.3" height="12.75" fill="#8a424c"/>
<rect x="666.65" y="264.89" width="1.3" height="12.75" fill="#8a424c"/>
<rect x="676.85" y="264.89" width="1.3" height="12.75" fill="#8a424c"/>
<rect x="686.95" y="264.89" width="1.3" height="12.75" fill="#0c0870"/>
<rect x="696.85" y="264.89" width="1.3" height="12.75" fill="#0c0870"/>
<rect x="707.05" y="264.89" width="1.3" height="12.75" fill="#0c0870"/>
<rect x="716.95" y="264.89" width="1.3" height="12.75" fill="#0c0870"/>
<rect x="727.15" y="264.89" width="1.3" height="12.75" fill="#0c0870"/>
<rect x="737.85" y="264.89" width="1.3" height="12.75" fill="#0c0870"/>
<rect x="747.85" y="264.89" width="1.3" height="12.75" fill="#0c0870"/>
<rect x="757.75" y="264.89" width="1.3" height="12.75" fill="#0c0870"/>
<rect x="767.95" y="264.89" width="1.3" height="12.75" fill="#0c0870"/>
<rect x="777.85" y="264.89" width="1.3" height="12.75" fill="#0c0870"/>
<rect x="788.05" y="264.89" width="1.3" height="12.75" fill="#0c0870"/>
<rect x="798.45" y="264.89" width="1.3" height="12.75" fill="#0c0870"/>
<rect x="808.85" y="264.89" width="1.3" height="12.75" fill="#0c0870"/>
<rect x="828.75" y="264.89" width="1.3" height="12.75" fill="#0c0870"/>
<rect x="838.95" y="264.89" width="1.3" height="12.75" fill="#0c0870"/>
<rect x="848.95" y="264.89" width="1.3" height="12.75" fill="#0c0870"/>
<rect x="229.85" y="280.81" width="1.3" height="12.75" fill="#0c0870"/>
<rect x="239.95" y="280.81" width="1.3" height="12.75" fill="#0c0870"/>
<rect x="249.85" y="280.81" width="1.3" height="12.75" fill="#0c0870"/>
<rect x="260.05" y="280.81" width="1.3" height="12.75" fill="#0c0870"/>
<rect x="269.95" y="280.81" width="1.3" height="12.75" fill="#0c0870"/>
<rect x="280.65" y="280.81" width="1.3" height="12.75" fill="#0c0870"/>
<rect x="291.05" y="280.81" width="1.3" height="12.75" fill="#0c0870"/>
<rect x="300.95" y="280.81" width="1.3" height="12.75" fill="#0c0870"/>
<rect x="310.85" y="280.81" width="1.3" height="12.75" fill="#0c0870"/>
<rect x="321.05" y="280.81" width="1.3" height="12.75" fill="#0c0870"/>
<rect x="330.95" y="280.81" width="1.3" height="12.75" fill="#0c0870"/>
<rect x="341.55" y="280.81" width="1.3" height="12.75" fill="#0c0870"/>
<rect x="351.85" y="280.81" width="1.3" height="12.75" fill="#8a424c"/>
<rect x="361.95" y="280.81" width="1.3" height="12.75" fill="#8a424c"/>
<rect x="371.95" y="280.81" width="1.3" height="12.75" fill="#8a424c"/>
<rect x="381.85" y="280.81" width="1.3" height="12.75" fill="#0c0870"/>
<rect x="392.05" y="280.81" width="1.3" height="12.75" fill="#0c0870"/>
<rect x="402.15" y="280.81" width="1.3" height="12.75" fill="#0c0870"/>
<rect x="412.85" y="280.81" width="1.3" height="12.75" fill="#0c0870"/>
<rect x="423.05" y="280.81" width="1.3" height="12.75" fill="#0c0870"/>
<rect x="432.95" y="280.81" width="1.3" height="12.75" fill="#0c0870"/>
<rect x="442.85" y="280.81" width="1.3" height="12.75" fill="#0c0870"/>
<rect x="453.05" y="280.81" width="1.3" height="12.75" fill="#0c0870"/>
<rect x="462.95" y="280.81" width="1.3" height="12.75" fill="#0c0870"/>
<rect x="474.05" y="280.81" width="1.3" height="12.75" fill="#0c0870"/>
<rect x="483.95" y="280.81" width="1.3" height="12.75" fill="#0c0870"/>
<rect x="493.85" y="280.81" width="1.3" height="12.75" fill="#0c0870"/>
<rect x="503.75" y="280.81" width="1.3" height="12.75" fill="#0c0870"/>
<rect x="513.85" y="280.81" width="1.3" height="12.75" fill="#0c0870"/>
<rect x="523.95" y="280.81" width="1.3" height="12.75" fill="#0c0870"/>
<rect x="534.95" y="280.81" width="1.3" height="12.75" fill="#0c0870"/>
<rect x="544.85" y="280.81" width="1.3" height="12.75" fill="#0c0870"/>
<rect x="554.75" y="280.81" width="1.3" height="12.75" fill="#0c0870"/>
<rect x="564.95" y="280.81" width="1.3" height="12.75" fill="#0c0870"/>
<rect x="575.05" y="280.81" width="1.3" height="12.75" fill="#0c0870"/>
<rect x="584.95" y="280.81" width="1.3" height="12.75" fill="#0c0870"/>
<rect x="595.15" y="280.81" width="1.3" height="12.75" fill="#0c0870"/>
<rect x="605.45" y="280.81" width="1.3" height="12.75" fill="#8a424c"/>
<rect x="615.65" y="280.81" width="1.3" height="12.75" fill="#8a424c"/>
<rect x="625.85" y="280.81" width="1.3" height="12.75" fill="#8a424c"/>
<rect x="635.85" y="280.81" width="1.3" height="12.75" fill="#8a424c"/>
<rect x="646.15" y="280.81" width="1.3" height="12.75" fill="#8a424c"/>
<rect x="656.05" y="280.81" width="1.3" height="12.75" fill="#8a424c"/>
<rect x="666.65" y="280.81" width="1.3" height="12.75" fill="#8a424c"/>
<rect x="676.85" y="280.81" width="1.3" height="12.75" fill="#0c0870"/>
<rect x="686.95" y="280.81" width="1.3" height="12.75" fill="#0c0870"/>
<rect x="696.85" y="280.81" width="1.3" height="12.75" fill="#8a424c"/>
<rect x="707.05" y="280.81" width="1.3" height="12.75" fill="#8a424c"/>
<rect x="716.95" y="280.81" width="1.3" height="12.75" fill="#8a424c"/>
<rect x="727.15" y="280.81" width="1.3" height="12.75" fill="#189418"/>
<rect x="737.85" y="280.81" width="1.3" height="12.75" fill="#189418"/>
<rect x="747.85" y="280.81" width="1.3" height="12.75" fill="#189418"/>
<rect x="757.75" y="280.81" width="1.3" height="12.75" fill="#189418"/>
<rect x="767.95" y="280.81" width="1.3" height="12.75" fill="#189418"/>
<rect x="777.85" y="280.81" width="1.3" height="12.75" fill="#189418"/>
<rect x="788.05" y="280.81" width="1.3" height="12.75" fill="#189418"/>
<rect x="798.45" y="280.81" width="1.3" height="12.75" fill="#189418"/>
<rect x="808.85" y="280.81" width="1.3" height="12.75" fill="#189418"/>
<rect x="828.75" y="280.81" width="1.3" height="12.75" fill="#189418"/>
<rect x="838.95" y="280.81" width="1.3" height="12.75" fill="#189418"/>
<rect x="848.95" y="280.81" width="1.3" height="12.75" fill="#189418"/>
<rect x="229.85" y="296.72" width="1.3" height="12.75" fill="#8a424c"/>
<rect x="239.95" y="296.72" width="1.3" height="12.75" fill="#8a424c"/>
<rect x="249.85" y="296.72" width="1.3" height="12.75" fill="#8a424c"/>
<rect x="260.05" y="296.72" width="1.3" height="12.75" fill="#8a424c"/>
<rect x="269.95" y="296.72" width="1.3" height="12.75" fill="#0c0870"/>
<rect x="280.65" y="296.72" width="1.3" height="12.75" fill="#0c0870"/>
<rect x="291.05" y="296.72" width="1.3" height="12.75" fill="#0c0870"/>
<rect x="300.95" y="296.72" width="1.3" height="12.75" fill="#0c0870"/>
<rect x="310.85" y="296.72" width="1.3" height="12.75" fill="#0c0870"/>
<rect x="321.05" y="296.72" width="1.3" height="12.75" fill="#0c0870"/>
<rect x="330.95" y="296.72" width="1.3" height="12.75" fill="#0c0870"/>
<rect x="341.55" y="296.72" width="1.3" height="12.75" fill="#0c0870"/>
<rect x="351.85" y="296.72" width="1.3" height="12.75" fill="#0c0870"/>
<rect x="361.95" y="296.72" width="1.3" height="12.75" fill="#0c0870"/>
<rect x="371.95" y="296.72" width="1.3" height="12.75" fill="#0c0870"/>
<rect x="381.85" y="296.72" width="1.3" height="12.75" fill="#0c0870"/>
<rect x="392.05" y="296.72" width="1.3" height="12.75" fill="#0c0870"/>
<rect x="402.15" y="296.72" width="1.3" height="12.75" fill="#0c0870"/>
<rect x="412.85" y="296.72" width="1.3" height="12.75" fill="#0c0870"/>
<rect x="423.05" y="296.72" width="1.3" height="12.75" fill="#0c0870"/>
<rect x="432.95" y="296.72" width="1.3" height="12.75" fill="#0c0870"/>
<rect x="442.85" y="296.72" width="1.3" height="12.75" fill="#0c0870"/>
<rect x="453.05" y="296.72" width="1.3" height="12.75" fill="#0c0870"/>
<rect x="462.95" y="296.72" width="1.3" height="12.75" fill="#0c0870"/>
<rect x="474.05" y="296.72" width="1.3" height="12.75" fill="#0c0870"/>
<rect x="483.95" y="296.72" width="1.3" height="12.75" fill="#0c0870"/>
<rect x="493.85" y="296.72" width="1.3" height="12.75" fill="#0c0870"/>
<rect x="503.75" y="296.72" width="1.3" height="12.75" fill="#0c0870"/>
<rect x="513.85" y="296.72" width="1.3" height="12.75" fill="#0c0870"/>
<rect x="523.95" y="296.72" width="1.3" height="12.75" fill="#0c0870"/>
<rect x="534.95" y="296.72" width="1.3" height="12.75" fill="#0c0870"/>
<rect x="544.85" y="296.72" width="1.3" height="12.75" fill="#0c0870"/>
<rect x="554.75" y="296.72" width="1.3" height="12.75" fill="#0c0870"/>
<rect x="564.95" y="296.72" width="1.3" height="12.75" fill="#0c0870"/>
<rect x="575.05" y="296.72" width="1.3" height="12.75" fill="#0c0870"/>
<rect x="584.95" y="296.72" width="1.3" height="12.75" fill="#0c0870"/>
<rect x="595.15" y="296.72" width="1.3" height="12.75" fill="#0c0870"/>
<rect x="605.45" y="296.72" width="1.3" height="12.75" fill="#0c0870"/>
<rect x="615.65" y="296.72" width="1.3" height="12.75" fill="#0c0870"/>
<rect x="625.85" y="296.72" width="1.3" height="12.75" fill="#0c0870"/>
<rect x="635.85" y="296.72" width="1.3" height="12.75" fill="#0c0870"/>
<rect x="646.15" y="296.72" width="1.3" height="12.75" fill="#0c0870"/>
<rect x="656.05" y="296.72" width="1.3" height="12.75" fill="#0c0870"/>
<rect x="666.65" y="296.72" width="1.3" height="12.75" fill="#8a424c"/>
<rect x="676.85" y="296.72" width="1.3" height="12.75" fill="#8a424c"/>
<rect x="686.95" y="296.72" width="1.3" height="12.75" fill="#0c0870"/>
<rect x="696.85" y="296.72" width="1.3" height="12.75" fill="#0c0870"/>
<rect x="707.05" y="296.72" width="1.3" height="12.75" fill="#0c0870"/>
<rect x="716.95" y="296.72" width="1.3" height="12.75" fill="#0c0870"/>
<rect x="727.15" y="296.72" width="1.3" height="12.75" fill="#0c0870"/>
<rect x="737.85" y="296.72" width="1.3" height="12.75" fill="#0c0870"/>
<rect x="747.85" y="296.72" width="1.3" height="12.75" fill="#0c0870"/>
<rect x="757.75" y="296.72" width="1.3" height="12.75" fill="#0c0870"/>
<rect x="767.95" y="296.72" width="1.3" height="12.75" fill="#8a424c"/>
<rect x="777.85" y="296.72" width="1.3" height="12.75" fill="#189418"/>
<rect x="788.05" y="296.72" width="1.3" height="12.75" fill="#189418"/>
<rect x="798.45" y="296.72" width="1.3" height="12.75" fill="#189418"/>
<rect x="808.85" y="296.72" width="1.3" height="12.75" fill="#189418"/>
<rect x="828.75" y="296.72" width="1.3" height="12.75" fill="#eeee20"/>
<rect x="838.95" y="296.72" width="1.3" height="12.75" fill="#eeee20"/>
<rect x="848.95" y="296.72" width="1.3" height="12.75" fill="#e4aa55"/>
<rect x="229.85" y="312.63" width="1.3" height="12.75" fill="#189418"/>
<rect x="239.95" y="312.63" width="1.3" height="12.75" fill="#8a424c"/>
<rect x="249.85" y="312.63" width="1.3" height="12.75" fill="#8a424c"/>
<rect x="260.05" y="312.63" width="1.3" height="12.75" fill="#189418"/>
<rect x="727.15" y="312.63" width="1.3" height="12.75" fill="#e4aa55"/>
<rect x="737.85" y="312.63" width="1.3" height="12.75" fill="#e4aa55"/>
<rect x="747.85" y="312.63" width="1.3" height="12.75" fill="#e4aa55"/>
<rect x="757.75" y="312.63" width="1.3" height="12.75" fill="#e4aa55"/>
<rect x="767.95" y="312.63" width="1.3" height="12.75" fill="#189418"/>
<rect x="777.85" y="312.63" width="1.3" height="12.75" fill="#189418"/>
<rect x="788.05" y="312.63" width="1.3" height="12.75" fill="#e4aa55"/>
<rect x="798.45" y="312.63" width="1.3" height="12.75" fill="#e4aa55"/>
<rect x="808.85" y="312.63" width="1.3" height="12.75" fill="#e4aa55"/>
<rect x="828.75" y="312.63" width="1.3" height="12.75" fill="#e4aa55"/>
<rect x="838.95" y="312.63" width="1.3" height="12.75" fill="#e4aa55"/>
<rect x="848.95" y="312.63" width="1.3" height="12.75" fill="#eeee20"/>
<rect x="229.85" y="328.55" width="1.3" height="12.75" fill="#8a424c"/>
<rect x="239.95" y="328.55" width="1.3" height="12.75" fill="#8a424c"/>
<rect x="249.85" y="328.55" width="1.3" height="12.75" fill="#8a424c"/>
<rect x="260.05" y="328.55" width="1.3" height="12.75" fill="#8a424c"/>
<rect x="269.95" y="328.55" width="1.3" height="12.75" fill="#8a424c"/>
<rect x="280.65" y="328.55" width="1.3" height="12.75" fill="#8a424c"/>
<rect x="291.05" y="328.55" width="1.3" height="12.75" fill="#0c0870"/>
<rect x="300.95" y="328.55" width="1.3" height="12.75" fill="#0c0870"/>
<rect x="310.85" y="328.55" width="1.3" height="12.75" fill="#0c0870"/>
<rect x="321.05" y="328.55" width="1.3" height="12.75" fill="#0c0870"/>
<rect x="330.95" y="328.55" width="1.3" height="12.75" fill="#0c0870"/>
<rect x="341.55" y="328.55" width="1.3" height="12.75" fill="#0c0870"/>
<rect x="351.85" y="328.55" width="1.3" height="12.75" fill="#0c0870"/>
<rect x="361.95" y="328.55" width="1.3" height="12.75" fill="#0c0870"/>
<rect x="371.95" y="328.55" width="1.3" height="12.75" fill="#0c0870"/>
<rect x="381.85" y="328.55" width="1.3" height="12.75" fill="#0c0870"/>
<rect x="392.05" y="328.55" width="1.3" height="12.75" fill="#0c0870"/>
<rect x="402.15" y="328.55" width="1.3" height="12.75" fill="#0c0870"/>
<rect x="412.85" y="328.55" width="1.3" height="12.75" fill="#0c0870"/>
<rect x="423.05" y="328.55" width="1.3" height="12.75" fill="#0c0870"/>
<rect x="432.95" y="328.55" width="1.3" height="12.75" fill="#0c0870"/>
<rect x="442.85" y="328.55" width="1.3" height="12.75" fill="#0c0870"/>
<rect x="453.05" y="328.55" width="1.3" height="12.75" fill="#0c0870"/>
<rect x="462.95" y="328.55" width="1.3" height="12.75" fill="#0c0870"/>
<rect x="474.05" y="328.55" width="1.3" height="12.75" fill="#8a424c"/>
<rect x="483.95" y="328.55" width="1.3" height="12.75" fill="#8a424c"/>
<rect x="493.85" y="328.55" width="1.3" height="12.75" fill="#0c0870"/>
<rect x="503.75" y="328.55" width="1.3" height="12.75" fill="#0c0870"/>
<rect x="513.85" y="328.55" width="1.3" height="12.75" fill="#0c0870"/>
<rect x="523.95" y="328.55" width="1.3" height="12.75" fill="#8a424c"/>
<rect x="534.95" y="328.55" width="1.3" height="12.75" fill="#e4aa55"/>
<rect x="544.85" y="328.55" width="1.3" height="12.75" fill="#189418"/>
<rect x="635.85" y="344.46" width="1.3" height="12.75" fill="#e4aa55"/>
<rect x="646.15" y="344.46" width="1.3" height="12.75" fill="#e4aa55"/>
<rect x="656.05" y="344.46" width="1.3" height="12.75" fill="#e4aa55"/>
<rect x="666.65" y="344.46" width="1.3" height="12.75" fill="#e4aa55"/>
<rect x="676.85" y="344.46" width="1.3" height="12.75" fill="#e4aa55"/>
<rect x="686.95" y="344.46" width="1.3" height="12.75" fill="#e4aa55"/>
<rect x="696.85" y="344.46" width="1.3" height="12.75" fill="#e4aa55"/>
<rect x="707.05" y="344.46" width="1.3" height="12.75" fill="#e4aa55"/>
<rect x="716.95" y="344.46" width="1.3" height="12.75" fill="#e4aa55"/>
<rect x="727.15" y="344.46" width="1.3" height="12.75" fill="#e4aa55"/>
<rect x="737.85" y="344.46" width="1.3" height="12.75" fill="#e4aa55"/>
<rect x="747.85" y="344.46" width="1.3" height="12.75" fill="#e4aa55"/>
<rect x="757.75" y="344.46" width="1.3" height="12.75" fill="#e4aa55"/>
<rect x="767.95" y="344.46" width="1.3" height="12.75" fill="#e4aa55"/>
<rect x="777.85" y="344.46" width="1.3" height="12.75" fill="#e4aa55"/>
<rect x="788.05" y="344.46" width="1.3" height="12.75" fill="#e4aa55"/>
<rect x="798.45" y="344.46" width="1.3" height="12.75" fill="#e4aa55"/>
<rect x="808.85" y="344.46" width="1.3" height="12.75" fill="#e4aa55"/>
<rect x="828.75" y="344.46" width="1.3" height="12.75" fill="#e4aa55"/>
<rect x="838.95" y="344.46" width="1.3" height="12.75" fill="#e4aa55"/>
<rect x="848.95" y="344.46" width="1.3" height="12.75" fill="#e4aa55"/>
<rect x="229.85" y="360.38" width="1.3" height="12.75" fill="#189418"/>
<rect x="239.95" y="360.38" width="1.3" height="12.75" fill="#8a424c"/>
<rect x="249.85" y="360.38" width="1.3" height="12.75" fill="#8a424c"/>
<rect x="260.05" y="360.38" width="1.3" height="12.75" fill="#8a424c"/>
<rect x="269.95" y="360.38" width="1.3" height="12.75" fill="#8a424c"/>
<rect x="280.65" y="360.38" width="1.3" height="12.75" fill="#8a424c"/>
<rect x="291.05" y="360.38" width="1.3" height="12.75" fill="#189418"/>
<rect x="300.95" y="360.38" width="1.3" height="12.75" fill="#189418"/>
<rect x="310.85" y="360.38" width="1.3" height="12.75" fill="#189418"/>
<rect x="321.05" y="360.38" width="1.3" height="12.75" fill="#189418"/>
<rect x="330.95" y="360.38" width="1.3" height="12.75" fill="#189418"/>
<rect x="341.55" y="360.38" width="1.3" height="12.75" fill="#189418"/>
<rect x="351.85" y="360.38" width="1.3" height="12.75" fill="#189418"/>
<rect x="361.95" y="360.38" width="1.3" height="12.75" fill="#189418"/>
<rect x="371.95" y="360.38" width="1.3" height="12.75" fill="#189418"/>
<rect x="381.85" y="360.38" width="1.3" height="12.75" fill="#189418"/>
<rect x="392.05" y="360.38" width="1.3" height="12.75" fill="#189418"/>
<rect x="402.15" y="360.38" width="1.3" height="12.75" fill="#189418"/>
<rect x="412.85" y="360.38" width="1.3" height="12.75" fill="#189418"/>
<rect x="423.05" y="360.38" width="1.3" height="12.75" fill="#189418"/>
<rect x="432.95" y="360.38" width="1.3" height="12.75" fill="#189418"/>
<rect x="442.85" y="360.38" width="1.3" height="12.75" fill="#189418"/>
<rect x="453.05" y="360.38" width="1.3" height="12.75" fill="#189418"/>
<rect x="462.95" y="360.38" width="1.3" height="12.75" fill="#189418"/>
<rect x="474.05" y="360.38" width="1.3" height="12.75" fill="#8a424c"/>
<rect x="483.95" y="360.38" width="1.3" height="12.75" fill="#189418"/>
<rect x="493.85" y="360.38" width="1.3" height="12.75" fill="#189418"/>
<rect x="503.75" y="360.38" width="1.3" height="12.75" fill="#189418"/>
<rect x="513.85" y="360.38" width="1.3" height="12.75" fill="#189418"/>
<rect x="523.95" y="360.38" width="1.3" height="12.75" fill="#189418"/>
<rect x="534.95" y="360.38" width="1.3" height="12.75" fill="#189418"/>
<rect x="544.85" y="360.38" width="1.3" height="12.75" fill="#189418"/>
<rect x="554.75" y="360.38" width="1.3" height="12.75" fill="#189418"/>
<rect x="564.95" y="360.38" width="1.3" height="12.75" fill="#8a424c"/>
<rect x="575.05" y="360.38" width="1.3" height="12.75" fill="#8a424c"/>
<rect x="584.95" y="360.38" width="1.3" height="12.75" fill="#8a424c"/>
<rect x="595.15" y="360.38" width="1.3" height="12.75" fill="#8a424c"/>
<rect x="605.45" y="360.38" width="1.3" height="12.75" fill="#8a424c"/>
<rect x="615.65" y="360.38" width="1.3" height="12.75" fill="#8a424c"/>
<rect x="625.85" y="360.38" width="1.3" height="12.75" fill="#8a424c"/>
<rect x="635.85" y="360.38" width="1.3" height="12.75" fill="#8a424c"/>
<rect x="646.15" y="360.38" width="1.3" height="12.75" fill="#189418"/>
<rect x="656.05" y="360.38" width="1.3" height="12.75" fill="#e4aa55"/>
<rect x="666.65" y="360.38" width="1.3" height="12.75" fill="#e4aa55"/>
<rect x="676.85" y="360.38" width="1.3" height="12.75" fill="#e4aa55"/>
<rect x="686.95" y="360.38" width="1.3" height="12.75" fill="#e4aa55"/>
<rect x="696.85" y="360.38" width="1.3" height="12.75" fill="#e4aa55"/>
<rect x="707.05" y="360.38" width="1.3" height="12.75" fill="#e4aa55"/>
<rect x="716.95" y="360.38" width="1.3" height="12.75" fill="#e4aa55"/>
<rect x="727.15" y="360.38" width="1.3" height="12.75" fill="#e4aa55"/>
<rect x="737.85" y="360.38" width="1.3" height="12.75" fill="#e4aa55"/>
<rect x="747.85" y="360.38" width="1.3" height="12.75" fill="#189418"/>
<rect x="757.75" y="360.38" width="1.3" height="12.75" fill="#189418"/>
<rect x="767.95" y="360.38" width="1.3" height="12.75" fill="#189418"/>
<rect x="777.85" y="360.38" width="1.3" height="12.75" fill="#189418"/>
<rect x="788.05" y="360.38" width="1.3" height="12.75" fill="#189418"/>
<rect x="798.45" y="360.38" width="1.3" height="12.75" fill="#189418"/>
<rect x="808.85" y="360.38" width="1.3" height="12.75" fill="#189418"/>
<rect x="828.75" y="360.38" width="1.3" height="12.75" fill="#189418"/>
<rect x="838.95" y="360.38" width="1.3" height="12.75" fill="#189418"/>
<rect x="848.95" y="360.38" width="1.3" height="12.75" fill="#189418"/>
<rect x="229.85" y="376.29" width="1.3" height="12.75" fill="#0c0870"/>
<rect x="239.95" y="376.29" width="1.3" height="12.75" fill="#0c0870"/>
<rect x="249.85" y="376.29" width="1.3" height="12.75" fill="#0c0870"/>
<rect x="260.05" y="376.29" width="1.3" height="12.75" fill="#0c0870"/>
<rect x="269.95" y="376.29" width="1.3" height="12.75" fill="#0c0870"/>
<rect x="280.65" y="376.29" width="1.3" height="12.75" fill="#0c0870"/>
<rect x="291.05" y="376.29" width="1.3" height="12.75" fill="#0c0870"/>
<rect x="300.95" y="376.29" width="1.3" height="12.75" fill="#0c0870"/>
<rect x="310.85" y="376.29" width="1.3" height="12.75" fill="#0c0870"/>
<rect x="321.05" y="376.29" width="1.3" height="12.75" fill="#0c0870"/>
<rect x="330.95" y="376.29" width="1.3" height="12.75" fill="#0c0870"/>
<rect x="341.55" y="376.29" width="1.3" height="12.75" fill="#0c0870"/>
<rect x="351.85" y="376.29" width="1.3" height="12.75" fill="#0c0870"/>
<rect x="361.95" y="376.29" width="1.3" height="12.75" fill="#0c0870"/>
<rect x="371.95" y="376.29" width="1.3" height="12.75" fill="#0c0870"/>
<rect x="381.85" y="376.29" width="1.3" height="12.75" fill="#0c0870"/>
<rect x="392.05" y="376.29" width="1.3" height="12.75" fill="#0c0870"/>
<rect x="402.15" y="376.29" width="1.3" height="12.75" fill="#0c0870"/>
<rect x="412.85" y="376.29" width="1.3" height="12.75" fill="#0c0870"/>
<rect x="423.05" y="376.29" width="1.3" height="12.75" fill="#0c0870"/>
<rect x="432.95" y="376.29" width="1.3" height="12.75" fill="#0c0870"/>
<rect x="442.85" y="376.29" width="1.3" height="12.75" fill="#0c0870"/>
<rect x="453.05" y="376.29" width="1.3" height="12.75" fill="#0c0870"/>
<rect x="462.95" y="376.29" width="1.3" height="12.75" fill="#0c0870"/>
<rect x="474.05" y="376.29" width="1.3" height="12.75" fill="#0c0870"/>
<rect x="483.95" y="376.29" width="1.3" height="12.75" fill="#0c0870"/>
<rect x="493.85" y="376.29" width="1.3" height="12.75" fill="#0c0870"/>
<rect x="503.75" y="376.29" width="1.3" height="12.75" fill="#0c0870"/>
<rect x="513.85" y="376.29" width="1.3" height="12.75" fill="#0c0870"/>
<rect x="523.95" y="376.29" width="1.3" height="12.75" fill="#0c0870"/>
<rect x="534.95" y="376.29" width="1.3" height="12.75" fill="#0c0870"/>
<rect x="544.85" y="376.29" width="1.3" height="12.75" fill="#0c0870"/>
<rect x="554.75" y="376.29" width="1.3" height="12.75" fill="#0c0870"/>
<rect x="564.95" y="376.29" width="1.3" height="12.75" fill="#0c0870"/>
<rect x="575.05" y="376.29" width="1.3" height="12.75" fill="#0c0870"/>
<rect x="584.95" y="376.29" width="1.3" height="12.75" fill="#0c0870"/>
<rect x="595.15" y="376.29" width="1.3" height="12.75" fill="#0c0870"/>
<rect x="605.45" y="376.29" width="1.3" height="12.75" fill="#0c0870"/>
<rect x="615.65" y="376.29" width="1.3" height="12.75" fill="#0c0870"/>
<rect x="625.85" y="376.29" width="1.3" height="12.75" fill="#0c0870"/>
<rect x="635.85" y="376.29" width="1.3" height="12.75" fill="#0c0870"/>
<rect x="646.15" y="376.29" width="1.3" height="12.75" fill="#0c0870"/>
<rect x="656.05" y="376.29" width="1.3" height="12.75" fill="#0c0870"/>
<rect x="666.65" y="376.29" width="1.3" height="12.75" fill="#0c0870"/>
<rect x="676.85" y="376.29" width="1.3" height="12.75" fill="#0c0870"/>
<rect x="686.95" y="376.29" width="1.3" height="12.75" fill="#0c0870"/>
<rect x="696.85" y="376.29" width="1.3" height="12.75" fill="#0c0870"/>
<rect x="707.05" y="376.29" width="1.3" height="12.75" fill="#0c0870"/>
<rect x="716.95" y="376.29" width="1.3" height="12.75" fill="#0c0870"/>
<rect x="727.15" y="376.29" width="1.3" height="12.75" fill="#0c0870"/>
<rect x="737.85" y="376.29" width="1.3" height="12.75" fill="#0c0870"/>
<rect x="747.85" y="376.29" width="1.3" height="12.75" fill="#0c0870"/>
<rect x="757.75" y="376.29" width="1.3" height="12.75" fill="#0c0870"/>
<rect x="767.95" y="376.29" width="1.3" height="12.75" fill="#0c0870"/>
<rect x="777.85" y="376.29" width="1.3" height="12.75" fill="#0c0870"/>
<rect x="788.05" y="376.29" width="1.3" height="12.75" fill="#0c0870"/>
<rect x="798.45" y="376.29" width="1.3" height="12.75" fill="#0c0870"/>
<rect x="808.85" y="376.29" width="1.3" height="12.75" fill="#0c0870"/>
<rect x="828.75" y="376.29" width="1.3" height="12.75" fill="#0c0870"/>
<rect x="838.95" y="376.29" width="1.3" height="12.75" fill="#0c0870"/>
<rect x="848.95" y="376.29" width="1.3" height="12.75" fill="#0c0870"/>
<rect x="229.85" y="392.21" width="1.3" height="12.75" fill="#189418"/>
<rect x="239.95" y="392.21" width="1.3" height="12.75" fill="#8a424c"/>
<rect x="249.85" y="392.21" width="1.3" height="12.75" fill="#8a424c"/>
<rect x="260.05" y="392.21" width="1.3" height="12.75" fill="#189418"/>
<rect x="269.95" y="392.21" width="1.3" height="12.75" fill="#189418"/>
<rect x="280.65" y="392.21" width="1.3" height="12.75" fill="#189418"/>
<rect x="291.05" y="392.21" width="1.3" height="12.75" fill="#189418"/>
<rect x="300.95" y="392.21" width="1.3" height="12.75" fill="#189418"/>
<rect x="310.85" y="392.21" width="1.3" height="12.75" fill="#189418"/>
<rect x="321.05" y="392.21" width="1.3" height="12.75" fill="#189418"/>
<rect x="229.85" y="408.12" width="1.3" height="12.75" fill="#0c0870"/>
<rect x="239.95" y="408.12" width="1.3" height="12.75" fill="#0c0870"/>
<rect x="249.85" y="408.12" width="1.3" height="12.75" fill="#8a424c"/>
<rect x="260.05" y="408.12" width="1.3" height="12.75" fill="#8a424c"/>
<rect x="269.95" y="408.12" width="1.3" height="12.75" fill="#8a424c"/>
<rect x="280.65" y="408.12" width="1.3" height="12.75" fill="#0c0870"/>
<rect x="291.05" y="408.12" width="1.3" height="12.75" fill="#8a424c"/>
<rect x="300.95" y="408.12" width="1.3" height="12.75" fill="#8a424c"/>
<rect x="310.85" y="408.12" width="1.3" height="12.75" fill="#8a424c"/>
<rect x="321.05" y="408.12" width="1.3" height="12.75" fill="#8a424c"/>
<rect x="330.95" y="408.12" width="1.3" height="12.75" fill="#8a424c"/>
<rect x="341.55" y="408.12" width="1.3" height="12.75" fill="#8a424c"/>
<rect x="351.85" y="408.12" width="1.3" height="12.75" fill="#189418"/>
<rect x="361.95" y="408.12" width="1.3" height="12.75" fill="#189418"/>
<rect x="371.95" y="408.12" width="1.3" height="12.75" fill="#189418"/>
<rect x="381.85" y="408.12" width="1.3" height="12.75" fill="#189418"/>
<rect x="392.05" y="408.12" width="1.3" height="12.75" fill="#189418"/>
<rect x="402.15" y="408.12" width="1.3" height="12.75" fill="#189418"/>
<rect x="412.85" y="408.12" width="1.3" height="12.75" fill="#189418"/>
<rect x="423.05" y="408.12" width="1.3" height="12.75" fill="#189418"/>
<rect x="432.95" y="408.12" width="1.3" height="12.75" fill="#189418"/>
<rect x="442.85" y="408.12" width="1.3" height="12.75" fill="#189418"/>
<rect x="453.05" y="408.12" width="1.3" height="12.75" fill="#8a424c"/>
<rect x="462.95" y="408.12" width="1.3" height="12.75" fill="#8a424c"/>
<rect x="474.05" y="408.12" width="1.3" height="12.75" fill="#8a424c"/>
<rect x="483.95" y="408.12" width="1.3" height="12.75" fill="#8a424c"/>
<rect x="493.85" y="408.12" width="1.3" height="12.75" fill="#189418"/>
<rect x="503.75" y="408.12" width="1.3" height="12.75" fill="#189418"/>
<rect x="513.85" y="408.12" width="1.3" height="12.75" fill="#189418"/>
<rect x="523.95" y="408.12" width="1.3" height="12.75" fill="#189418"/>
<rect x="534.95" y="408.12" width="1.3" height="12.75" fill="#189418"/>
<rect x="544.85" y="408.12" width="1.3" height="12.75" fill="#189418"/>
<rect x="554.75" y="408.12" width="1.3" height="12.75" fill="#8a424c"/>
<rect x="564.95" y="408.12" width="1.3" height="12.75" fill="#8a424c"/>
<rect x="575.05" y="408.12" width="1.3" height="12.75" fill="#8a424c"/>
<rect x="584.95" y="408.12" width="1.3" height="12.75" fill="#8a424c"/>
<rect x="595.15" y="408.12" width="1.3" height="12.75" fill="#189418"/>
<rect x="605.45" y="408.12" width="1.3" height="12.75" fill="#189418"/>
<rect x="615.65" y="408.12" width="1.3" height="12.75" fill="#8a424c"/>
<rect x="625.85" y="408.12" width="1.3" height="12.75" fill="#189418"/>
<rect x="635.85" y="408.12" width="1.3" height="12.75" fill="#189418"/>
<rect x="646.15" y="408.12" width="1.3" height="12.75" fill="#189418"/>
<rect x="656.05" y="408.12" width="1.3" height="12.75" fill="#189418"/>
<rect x="666.65" y="408.12" width="1.3" height="12.75" fill="#189418"/>
<rect x="676.85" y="408.12" width="1.3" height="12.75" fill="#e4aa55"/>
<rect x="686.95" y="408.12" width="1.3" height="12.75" fill="#189418"/>
<rect x="696.85" y="408.12" width="1.3" height="12.75" fill="#189418"/>
<rect x="707.05" y="408.12" width="1.3" height="12.75" fill="#189418"/>
<rect x="716.95" y="408.12" width="1.3" height="12.75" fill="#189418"/>
<rect x="727.15" y="408.12" width="1.3" height="12.75" fill="#189418"/>
<rect x="737.85" y="408.12" width="1.3" height="12.75" fill="#189418"/>
<rect x="747.85" y="408.12" width="1.3" height="12.75" fill="#189418"/>
<rect x="757.75" y="408.12" width="1.3" height="12.75" fill="#e4aa55"/>
<rect x="767.95" y="408.12" width="1.3" height="12.75" fill="#e4aa55"/>
<rect x="777.85" y="408.12" width="1.3" height="12.75" fill="#189418"/>
<rect x="788.05" y="408.12" width="1.3" height="12.75" fill="#189418"/>
<rect x="798.45" y="408.12" width="1.3" height="12.75" fill="#189418"/>
<rect x="808.85" y="408.12" width="1.3" height="12.75" fill="#eeee20"/>
<rect x="828.75" y="408.12" width="1.3" height="12.75" fill="#eeee20"/>
<rect x="838.95" y="408.12" width="1.3" height="12.75" fill="#eeee20"/>
<rect x="848.95" y="408.12" width="1.3" height="12.75" fill="#eeee20"/>
<rect x="229.85" y="424.04" width="1.3" height="12.75" fill="#189418"/>
<rect x="239.95" y="424.04" width="1.3" height="12.75" fill="#8a424c"/>
<rect x="249.85" y="424.04" width="1.3" height="12.75" fill="#8a424c"/>
<rect x="260.05" y="424.04" width="1.3" height="12.75" fill="#8a424c"/>
<rect x="269.95" y="424.04" width="1.3" height="12.75" fill="#189418"/>
<rect x="280.65" y="424.04" width="1.3" height="12.75" fill="#189418"/>
<rect x="291.05" y="424.04" width="1.3" height="12.75" fill="#189418"/>
<rect x="300.95" y="424.04" width="1.3" height="12.75" fill="#189418"/>
<rect x="310.85" y="424.04" width="1.3" height="12.75" fill="#189418"/>
<rect x="321.05" y="424.04" width="1.3" height="12.75" fill="#189418"/>
<rect x="330.95" y="424.04" width="1.3" height="12.75" fill="#189418"/>
<rect x="341.55" y="424.04" width="1.3" height="12.75" fill="#189418"/>
<rect x="351.85" y="424.04" width="1.3" height="12.75" fill="#189418"/>
<rect x="361.95" y="424.04" width="1.3" height="12.75" fill="#189418"/>
<rect x="371.95" y="424.04" width="1.3" height="12.75" fill="#189418"/>
<rect x="381.85" y="424.04" width="1.3" height="12.75" fill="#189418"/>
<rect x="392.05" y="424.04" width="1.3" height="12.75" fill="#189418"/>
<rect x="402.15" y="424.04" width="1.3" height="12.75" fill="#189418"/>
<rect x="412.85" y="424.04" width="1.3" height="12.75" fill="#189418"/>
<rect x="423.05" y="424.04" width="1.3" height="12.75" fill="#189418"/>
<rect x="432.95" y="424.04" width="1.3" height="12.75" fill="#189418"/>
<rect x="442.85" y="424.04" width="1.3" height="12.75" fill="#189418"/>
<rect x="453.05" y="424.04" width="1.3" height="12.75" fill="#189418"/>
<rect x="260.05" y="439.95" width="1.3" height="12.75" fill="#8a424c"/>
<rect x="269.95" y="439.95" width="1.3" height="12.75" fill="#8a424c"/>
<rect x="280.65" y="439.95" width="1.3" height="12.75" fill="#8a424c"/>
<rect x="291.05" y="439.95" width="1.3" height="12.75" fill="#8a424c"/>
<rect x="300.95" y="439.95" width="1.3" height="12.75" fill="#0c0870"/>
<rect x="310.85" y="439.95" width="1.3" height="12.75" fill="#0c0870"/>
<rect x="321.05" y="439.95" width="1.3" height="12.75" fill="#0c0870"/>
<rect x="330.95" y="439.95" width="1.3" height="12.75" fill="#0c0870"/>
<rect x="341.55" y="439.95" width="1.3" height="12.75" fill="#8a424c"/>
<rect x="351.85" y="439.95" width="1.3" height="12.75" fill="#8a424c"/>
<rect x="361.95" y="439.95" width="1.3" height="12.75" fill="#8a424c"/>
<rect x="371.95" y="439.95" width="1.3" height="12.75" fill="#8a424c"/>
<rect x="381.85" y="439.95" width="1.3" height="12.75" fill="#8a424c"/>
<rect x="392.05" y="439.95" width="1.3" height="12.75" fill="#8a424c"/>
<rect x="402.15" y="439.95" width="1.3" height="12.75" fill="#8a424c"/>
<rect x="412.85" y="439.95" width="1.3" height="12.75" fill="#8a424c"/>
<rect x="423.05" y="439.95" width="1.3" height="12.75" fill="#8a424c"/>
<rect x="432.95" y="439.95" width="1.3" height="12.75" fill="#8a424c"/>
<rect x="442.85" y="439.95" width="1.3" height="12.75" fill="#8a424c"/>
<rect x="453.05" y="439.95" width="1.3" height="12.75" fill="#8a424c"/>
<rect x="462.95" y="439.95" width="1.3" height="12.75" fill="#8a424c"/>
<rect x="474.05" y="439.95" width="1.3" height="12.75" fill="#189418"/>
<rect x="483.95" y="439.95" width="1.3" height="12.75" fill="#189418"/>
<rect x="493.85" y="439.95" width="1.3" height="12.75" fill="#8a424c"/>
<rect x="503.75" y="439.95" width="1.3" height="12.75" fill="#8a424c"/>
<rect x="513.85" y="439.95" width="1.3" height="12.75" fill="#189418"/>
<rect x="523.95" y="439.95" width="1.3" height="12.75" fill="#189418"/>
<rect x="534.95" y="439.95" width="1.3" height="12.75" fill="#189418"/>
<rect x="544.85" y="439.95" width="1.3" height="12.75" fill="#189418"/>
<rect x="554.75" y="439.95" width="1.3" height="12.75" fill="#189418"/>
<rect x="564.95" y="439.95" width="1.3" height="12.75" fill="#189418"/>
<rect x="575.05" y="439.95" width="1.3" height="12.75" fill="#e4aa55"/>
<rect x="584.95" y="439.95" width="1.3" height="12.75" fill="#e4aa55"/>
<rect x="595.15" y="439.95" width="1.3" height="12.75" fill="#e4aa55"/>
<rect x="615.65" y="439.95" width="1.3" height="12.75" fill="#e4aa55"/>
<rect x="625.85" y="439.95" width="1.3" height="12.75" fill="#e4aa55"/>
<rect x="635.85" y="439.95" width="1.3" height="12.75" fill="#e4aa55"/>
<rect x="646.15" y="439.95" width="1.3" height="12.75" fill="#e4aa55"/>
<rect x="656.05" y="439.95" width="1.3" height="12.75" fill="#e4aa55"/>
<rect x="666.65" y="439.95" width="1.3" height="12.75" fill="#e4aa55"/>
<rect x="676.85" y="439.95" width="1.3" height="12.75" fill="#e4aa55"/>
<rect x="686.95" y="439.95" width="1.3" height="12.75" fill="#e4aa55"/>
<rect x="696.85" y="439.95" width="1.3" height="12.75" fill="#e4aa55"/>
<rect x="707.05" y="439.95" width="1.3" height="12.75" fill="#e4aa55"/>
<rect x="716.95" y="439.95" width="1.3" height="12.75" fill="#e4aa55"/>
<rect x="727.15" y="439.95" width="1.3" height="12.75" fill="#e4aa55"/>
<rect x="737.85" y="439.95" width="1.3" height="12.75" fill="#e4aa55"/>
<rect x="747.85" y="439.95" width="1.3" height="12.75" fill="#e4aa55"/>
<rect x="757.75" y="439.95" width="1.3" height="12.75" fill="#e4aa55"/>
<rect x="767.95" y="439.95" width="1.3" height="12.75" fill="#e4aa55"/>
<rect x="777.85" y="439.95" width="1.3" height="12.75" fill="#e4aa55"/>
<rect x="788.05" y="439.95" width="1.3" height="12.75" fill="#189418"/>
<rect x="798.45" y="439.95" width="1.3" height="12.75" fill="#189418"/>
<rect x="808.85" y="439.95" width="1.3" height="12.75" fill="#eeee20"/>
<rect x="828.75" y="439.95" width="1.3" height="12.75" fill="#eeee20"/>
<rect x="838.95" y="439.95" width="1.3" height="12.75" fill="#eeee20"/>
<rect x="848.95" y="439.95" width="1.3" height="12.75" fill="#eeee20"/>
<rect x="260.05" y="455.87" width="1.3" height="12.75" fill="#8a424c"/>
<rect x="269.95" y="455.87" width="1.3" height="12.75" fill="#8a424c"/>
<rect x="280.65" y="455.87" width="1.3" height="12.75" fill="#8a424c"/>
<rect x="291.05" y="455.87" width="1.3" height="12.75" fill="#8a424c"/>
<rect x="300.95" y="455.87" width="1.3" height="12.75" fill="#8a424c"/>
<rect x="310.85" y="455.87" width="1.3" height="12.75" fill="#8a424c"/>
<rect x="321.05" y="455.87" width="1.3" height="12.75" fill="#8a424c"/>
<rect x="330.95" y="455.87" width="1.3" height="12.75" fill="#8a424c"/>
<rect x="341.55" y="455.87" width="1.3" height="12.75" fill="#8a424c"/>
<rect x="351.85" y="455.87" width="1.3" height="12.75" fill="#8a424c"/>
<rect x="361.95" y="455.87" width="1.3" height="12.75" fill="#8a424c"/>
<rect x="371.95" y="455.87" width="1.3" height="12.75" fill="#8a424c"/>
<rect x="381.85" y="455.87" width="1.3" height="12.75" fill="#8a424c"/>
<rect x="392.05" y="455.87" width="1.3" height="12.75" fill="#8a424c"/>
<rect x="402.15" y="455.87" width="1.3" height="12.75" fill="#8a424c"/>
<rect x="412.85" y="455.87" width="1.3" height="12.75" fill="#8a424c"/>
<rect x="423.05" y="455.87" width="1.3" height="12.75" fill="#8a424c"/>
<rect x="432.95" y="455.87" width="1.3" height="12.75" fill="#8a424c"/>
<rect x="442.85" y="455.87" width="1.3" height="12.75" fill="#8a424c"/>
<rect x="453.05" y="455.87" width="1.3" height="12.75" fill="#8a424c"/>
<rect x="462.95" y="455.87" width="1.3" height="12.75" fill="#189418"/>
<rect x="474.05" y="455.87" width="1.3" height="12.75" fill="#e4aa55"/>
<rect x="483.95" y="455.87" width="1.3" height="12.75" fill="#e4aa55"/>
<rect x="493.85" y="455.87" width="1.3" height="12.75" fill="#e4aa55"/>
<rect x="503.75" y="455.87" width="1.3" height="12.75" fill="#189418"/>
<rect x="513.85" y="455.87" width="1.3" height="12.75" fill="#189418"/>
<rect x="523.95" y="455.87" width="1.3" height="12.75" fill="#189418"/>
<rect x="534.95" y="455.87" width="1.3" height="12.75" fill="#8a424c"/>
<rect x="544.85" y="455.87" width="1.3" height="12.75" fill="#8a424c"/>
<rect x="554.75" y="455.87" width="1.3" height="12.75" fill="#8a424c"/>
<rect x="564.95" y="455.87" width="1.3" height="12.75" fill="#8a424c"/>
<rect x="575.05" y="455.87" width="1.3" height="12.75" fill="#8a424c"/>
<rect x="584.95" y="455.87" width="1.3" height="12.75" fill="#0c0870"/>
<rect x="595.15" y="455.87" width="1.3" height="12.75" fill="#8a424c"/>
<rect x="605.45" y="455.87" width="1.3" height="12.75" fill="#0c0870"/>
<rect x="615.65" y="455.87" width="1.3" height="12.75" fill="#8a424c"/>
<rect x="625.85" y="455.87" width="1.3" height="12.75" fill="#8a424c"/>
<rect x="635.85" y="455.87" width="1.3" height="12.75" fill="#8a424c"/>
<rect x="646.15" y="455.87" width="1.3" height="12.75" fill="#8a424c"/>
<rect x="656.05" y="455.87" width="1.3" height="12.75" fill="#0c0870"/>
<rect x="666.65" y="455.87" width="1.3" height="12.75" fill="#0c0870"/>
<rect x="676.85" y="455.87" width="1.3" height="12.75" fill="#0c0870"/>
<rect x="686.95" y="455.87" width="1.3" height="12.75" fill="#0c0870"/>
<rect x="696.85" y="455.87" width="1.3" height="12.75" fill="#0c0870"/>
<rect x="707.05" y="455.87" width="1.3" height="12.75" fill="#0c0870"/>
<rect x="716.95" y="455.87" width="1.3" height="12.75" fill="#0c0870"/>
<rect x="727.15" y="455.87" width="1.3" height="12.75" fill="#8a424c"/>
<rect x="737.85" y="455.87" width="1.3" height="12.75" fill="#0c0870"/>
<rect x="747.85" y="455.87" width="1.3" height="12.75" fill="#0c0870"/>
<rect x="757.75" y="455.87" width="1.3" height="12.75" fill="#0c0870"/>
<rect x="767.95" y="455.87" width="1.3" height="12.75" fill="#0c0870"/>
<rect x="777.85" y="455.87" width="1.3" height="12.75" fill="#8a424c"/>
<rect x="788.05" y="455.87" width="1.3" height="12.75" fill="#8a424c"/>
<rect x="798.45" y="455.87" width="1.3" height="12.75" fill="#8a424c"/>
<rect x="808.85" y="455.87" width="1.3" height="12.75" fill="#8a424c"/>
<rect x="828.75" y="455.87" width="1.3" height="12.75" fill="#8a424c"/>
<rect x="838.95" y="455.87" width="1.3" height="12.75" fill="#8a424c"/>
<rect x="848.95" y="455.87" width="1.3" height="12.75" fill="#8a424c"/>
<rect x="260.05" y="471.78" width="1.3" height="12.75" fill="#189418"/>
<rect x="269.95" y="471.78" width="1.3" height="12.75" fill="#189418"/>
<rect x="280.65" y="471.78" width="1.3" height="12.75" fill="#189418"/>
<rect x="291.05" y="471.78" width="1.3" height="12.75" fill="#189418"/>
<rect x="300.95" y="471.78" width="1.3" height="12.75" fill="#189418"/>
<rect x="310.85" y="471.78" width="1.3" height="12.75" fill="#189418"/>
<rect x="321.05" y="471.78" width="1.3" height="12.75" fill="#189418"/>
<rect x="330.95" y="471.78" width="1.3" height="12.75" fill="#189418"/>
<rect x="341.55" y="471.78" width="1.3" height="12.75" fill="#189418"/>
<rect x="351.85" y="471.78" width="1.3" height="12.75" fill="#189418"/>
<rect x="361.95" y="471.78" width="1.3" height="12.75" fill="#189418"/>
<rect x="371.95" y="471.78" width="1.3" height="12.75" fill="#189418"/>
<rect x="381.85" y="471.78" width="1.3" height="12.75" fill="#189418"/>
<rect x="392.05" y="471.78" width="1.3" height="12.75" fill="#189418"/>
<rect x="402.15" y="471.78" width="1.3" height="12.75" fill="#189418"/>
<rect x="412.85" y="471.78" width="1.3" height="12.75" fill="#189418"/>
<rect x="423.05" y="471.78" width="1.3" height="12.75" fill="#189418"/>
<rect x="432.95" y="471.78" width="1.3" height="12.75" fill="#8a424c"/>
<rect x="442.85" y="471.78" width="1.3" height="12.75" fill="#8a424c"/>
<rect x="453.05" y="471.78" width="1.3" height="12.75" fill="#8a424c"/>
<rect x="462.95" y="471.78" width="1.3" height="12.75" fill="#8a424c"/>
<rect x="474.05" y="471.78" width="1.3" height="12.75" fill="#8a424c"/>
<rect x="483.95" y="471.78" width="1.3" height="12.75" fill="#8a424c"/>
<rect x="493.85" y="471.78" width="1.3" height="12.75" fill="#8a424c"/>
<rect x="503.75" y="471.78" width="1.3" height="12.75" fill="#8a424c"/>
<rect x="513.85" y="471.78" width="1.3" height="12.75" fill="#8a424c"/>
<rect x="523.95" y="471.78" width="1.3" height="12.75" fill="#8a424c"/>
<rect x="534.95" y="471.78" width="1.3" height="12.75" fill="#8a424c"/>
<rect x="544.85" y="471.78" width="1.3" height="12.75" fill="#0c0870"/>
<rect x="554.75" y="471.78" width="1.3" height="12.75" fill="#0c0870"/>
<rect x="564.95" y="471.78" width="1.3" height="12.75" fill="#0c0870"/>
<rect x="575.05" y="471.78" width="1.3" height="12.75" fill="#8a424c"/>
<rect x="584.95" y="471.78" width="1.3" height="12.75" fill="#8a424c"/>
<rect x="595.15" y="471.78" width="1.3" height="12.75" fill="#8a424c"/>
<rect x="605.45" y="471.78" width="1.3" height="12.75" fill="#8a424c"/>
<rect x="615.65" y="471.78" width="1.3" height="12.75" fill="#8a424c"/>
<rect x="625.85" y="471.78" width="1.3" height="12.75" fill="#8a424c"/>
<rect x="635.85" y="471.78" width="1.3" height="12.75" fill="#8a424c"/>
<rect x="646.15" y="471.78" width="1.3" height="12.75" fill="#8a424c"/>
<rect x="656.05" y="471.78" width="1.3" height="12.75" fill="#8a424c"/>
<rect x="666.65" y="471.78" width="1.3" height="12.75" fill="#8a424c"/>
<rect x="676.85" y="471.78" width="1.3" height="12.75" fill="#8a424c"/>
<rect x="686.95" y="471.78" width="1.3" height="12.75" fill="#8a424c"/>
<rect x="696.85" y="471.78" width="1.3" height="12.75" fill="#8a424c"/>
<rect x="707.05" y="471.78" width="1.3" height="12.75" fill="#8a424c"/>
<rect x="716.95" y="471.78" width="1.3" height="12.75" fill="#8a424c"/>
<rect x="727.15" y="471.78" width="1.3" height="12.75" fill="#8a424c"/>
<rect x="737.85" y="471.78" width="1.3" height="12.75" fill="#8a424c"/>
<rect x="747.85" y="471.78" width="1.3" height="12.75" fill="#8a424c"/>
<rect x="757.75" y="471.78" width="1.3" height="12.75" fill="#0c0870"/>
<rect x="767.95" y="471.78" width="1.3" height="12.75" fill="#0c0870"/>
<rect x="777.85" y="471.78" width="1.3" height="12.75" fill="#0c0870"/>
<rect x="788.05" y="471.78" width="1.3" height="12.75" fill="#0c0870"/>
<rect x="798.45" y="471.78" width="1.3" height="12.75" fill="#0c0870"/>
<rect x="808.85" y="471.78" width="1.3" height="12.75" fill="#0c0870"/>
<rect x="828.75" y="471.78" width="1.3" height="12.75" fill="#8a424c"/>
<rect x="838.95" y="471.78" width="1.3" height="12.75" fill="#8a424c"/>
<rect x="848.95" y="471.78" width="1.3" height="12.75" fill="#8a424c"/>
<rect x="260.05" y="487.70" width="1.3" height="12.75" fill="#189418"/>
<rect x="269.95" y="487.70" width="1.3" height="12.75" fill="#189418"/>
<rect x="280.65" y="487.70" width="1.3" height="12.75" fill="#189418"/>
<rect x="291.05" y="487.70" width="1.3" height="12.75" fill="#8a424c"/>
<rect x="300.95" y="487.70" width="1.3" height="12.75" fill="#8a424c"/>
<rect x="310.85" y="487.70" width="1.3" height="12.75" fill="#8a424c"/>
<rect x="321.05" y="487.70" width="1.3" height="12.75" fill="#189418"/>
<rect x="330.95" y="487.70" width="1.3" height="12.75" fill="#189418"/>
<rect x="341.55" y="487.70" width="1.3" height="12.75" fill="#189418"/>
<rect x="351.85" y="487.70" width="1.3" height="12.75" fill="#189418"/>
<rect x="361.95" y="487.70" width="1.3" height="12.75" fill="#189418"/>
<rect x="371.95" y="487.70" width="1.3" height="12.75" fill="#189418"/>
<rect x="381.85" y="487.70" width="1.3" height="12.75" fill="#189418"/>
<rect x="392.05" y="487.70" width="1.3" height="12.75" fill="#189418"/>
<rect x="402.15" y="487.70" width="1.3" height="12.75" fill="#8a424c"/>
<rect x="412.85" y="487.70" width="1.3" height="12.75" fill="#8a424c"/>
<rect x="423.05" y="487.70" width="1.3" height="12.75" fill="#8a424c"/>
<rect x="432.95" y="487.70" width="1.3" height="12.75" fill="#8a424c"/>
<rect x="442.85" y="487.70" width="1.3" height="12.75" fill="#8a424c"/>
<rect x="453.05" y="487.70" width="1.3" height="12.75" fill="#8a424c"/>
<rect x="462.95" y="487.70" width="1.3" height="12.75" fill="#8a424c"/>
<rect x="260.05" y="503.61" width="1.3" height="12.75" fill="#189418"/>
<rect x="269.95" y="503.61" width="1.3" height="12.75" fill="#189418"/>
<rect x="280.65" y="503.61" width="1.3" height="12.75" fill="#189418"/>
<rect x="291.05" y="503.61" width="1.3" height="12.75" fill="#189418"/>
<rect x="300.95" y="503.61" width="1.3" height="12.75" fill="#189418"/>
<rect x="310.85" y="503.61" width="1.3" height="12.75" fill="#189418"/>
<rect x="330.95" y="503.61" width="1.3" height="12.75" fill="#189418"/>
<rect x="341.55" y="503.61" width="1.3" height="12.75" fill="#189418"/>
<rect x="351.85" y="503.61" width="1.3" height="12.75" fill="#189418"/>
<rect x="361.95" y="503.61" width="1.3" height="12.75" fill="#189418"/>
<rect x="371.95" y="503.61" width="1.3" height="12.75" fill="#189418"/>
<rect x="381.85" y="503.61" width="1.3" height="12.75" fill="#189418"/>
<rect x="392.05" y="503.61" width="1.3" height="12.75" fill="#189418"/>
<rect x="402.15" y="503.61" width="1.3" height="12.75" fill="#189418"/>
<rect x="412.85" y="503.61" width="1.3" height="12.75" fill="#189418"/>
<rect x="423.05" y="503.61" width="1.3" height="12.75" fill="#8a424c"/>
<rect x="432.95" y="503.61" width="1.3" height="12.75" fill="#0c0870"/>
<rect x="442.85" y="503.61" width="1.3" height="12.75" fill="#189418"/>
<rect x="453.05" y="503.61" width="1.3" height="12.75" fill="#189418"/>
<rect x="462.95" y="503.61" width="1.3" height="12.75" fill="#189418"/>
<rect x="474.05" y="503.61" width="1.3" height="12.75" fill="#189418"/>
<rect x="483.95" y="503.61" width="1.3" height="12.75" fill="#e4aa55"/>
<rect x="493.85" y="503.61" width="1.3" height="12.75" fill="#e4aa55"/>
<rect x="503.75" y="503.61" width="1.3" height="12.75" fill="#e4aa55"/>
<rect x="513.85" y="503.61" width="1.3" height="12.75" fill="#e4aa55"/>
<rect x="523.95" y="503.61" width="1.3" height="12.75" fill="#e4aa55"/>
<rect x="534.95" y="503.61" width="1.3" height="12.75" fill="#e4aa55"/>
<rect x="544.85" y="503.61" width="1.3" height="12.75" fill="#e4aa55"/>
<rect x="554.75" y="503.61" width="1.3" height="12.75" fill="#e4aa55"/>
<rect x="564.95" y="503.61" width="1.3" height="12.75" fill="#e4aa55"/>
<rect x="584.95" y="503.61" width="1.3" height="12.75" fill="#e4aa55"/>
<rect x="595.15" y="503.61" width="1.3" height="12.75" fill="#e4aa55"/>
<rect x="605.45" y="503.61" width="1.3" height="12.75" fill="#e4aa55"/>
<rect x="615.65" y="503.61" width="1.3" height="12.75" fill="#e4aa55"/>
<rect x="625.85" y="503.61" width="1.3" height="12.75" fill="#e4aa55"/>
<rect x="635.85" y="503.61" width="1.3" height="12.75" fill="#e4aa55"/>
<rect x="646.15" y="503.61" width="1.3" height="12.75" fill="#e4aa55"/>
<rect x="656.05" y="503.61" width="1.3" height="12.75" fill="#189418"/>
<rect x="666.65" y="503.61" width="1.3" height="12.75" fill="#8a424c"/>
<rect x="676.85" y="503.61" width="1.3" height="12.75" fill="#8a424c"/>
<rect x="686.95" y="503.61" width="1.3" height="12.75" fill="#8a424c"/>
<rect x="696.85" y="503.61" width="1.3" height="12.75" fill="#8a424c"/>
<rect x="707.05" y="503.61" width="1.3" height="12.75" fill="#8a424c"/>
<rect x="716.95" y="503.61" width="1.3" height="12.75" fill="#8a424c"/>
<rect x="727.15" y="503.61" width="1.3" height="12.75" fill="#8a424c"/>
<rect x="737.85" y="503.61" width="1.3" height="12.75" fill="#8a424c"/>
<rect x="747.85" y="503.61" width="1.3" height="12.75" fill="#0c0870"/>
<rect x="757.75" y="503.61" width="1.3" height="12.75" fill="#0c0870"/>
<rect x="767.95" y="503.61" width="1.3" height="12.75" fill="#0c0870"/>
<rect x="777.85" y="503.61" width="1.3" height="12.75" fill="#0c0870"/>
<rect x="788.05" y="503.61" width="1.3" height="12.75" fill="#0c0870"/>
<rect x="798.45" y="503.61" width="1.3" height="12.75" fill="#0c0870"/>
<rect x="808.85" y="503.61" width="1.3" height="12.75" fill="#0c0870"/>
<rect x="828.75" y="503.61" width="1.3" height="12.75" fill="#0c0870"/>
<rect x="838.95" y="503.61" width="1.3" height="12.75" fill="#0c0870"/>
<rect x="848.95" y="503.61" width="1.3" height="12.75" fill="#0c0870"/>
<rect x="260.05" y="519.53" width="1.3" height="12.75" fill="#8a424c"/>
<rect x="269.95" y="519.53" width="1.3" height="12.75" fill="#8a424c"/>
<rect x="280.65" y="519.53" width="1.3" height="12.75" fill="#189418"/>
<rect x="291.05" y="519.53" width="1.3" height="12.75" fill="#189418"/>
<rect x="300.95" y="519.53" width="1.3" height="12.75" fill="#189418"/>
<rect x="310.85" y="519.53" width="1.3" height="12.75" fill="#189418"/>
<rect x="321.05" y="519.53" width="1.3" height="12.75" fill="#189418"/>
<rect x="330.95" y="519.53" width="1.3" height="12.75" fill="#189418"/>
<rect x="341.55" y="519.53" width="1.3" height="12.75" fill="#189418"/>
<rect x="351.85" y="519.53" width="1.3" height="12.75" fill="#189418"/>
<rect x="361.95" y="519.53" width="1.3" height="12.75" fill="#189418"/>
<rect x="371.95" y="519.53" width="1.3" height="12.75" fill="#189418"/>
<rect x="381.85" y="519.53" width="1.3" height="12.75" fill="#189418"/>
<rect x="392.05" y="519.53" width="1.3" height="12.75" fill="#189418"/>
<rect x="402.15" y="519.53" width="1.3" height="12.75" fill="#189418"/>
<rect x="412.85" y="519.53" width="1.3" height="12.75" fill="#189418"/>
<rect x="423.05" y="519.53" width="1.3" height="12.75" fill="#189418"/>
<rect x="432.95" y="519.53" width="1.3" height="12.75" fill="#189418"/>
<rect x="442.85" y="519.53" width="1.3" height="12.75" fill="#189418"/>
<rect x="453.05" y="519.53" width="1.3" height="12.75" fill="#189418"/>
<rect x="462.95" y="519.53" width="1.3" height="12.75" fill="#189418"/>
<rect x="474.05" y="519.53" width="1.3" height="12.75" fill="#e4aa55"/>
<rect x="483.95" y="519.53" width="1.3" height="12.75" fill="#e4aa55"/>
<rect x="493.85" y="519.53" width="1.3" height="12.75" fill="#e4aa55"/>
<rect x="503.75" y="519.53" width="1.3" height="12.75" fill="#e4aa55"/>
<rect x="513.85" y="519.53" width="1.3" height="12.75" fill="#e4aa55"/>
<rect x="523.95" y="519.53" width="1.3" height="12.75" fill="#e4aa55"/>
<rect x="534.95" y="519.53" width="1.3" height="12.75" fill="#e4aa55"/>
<rect x="544.85" y="519.53" width="1.3" height="12.75" fill="#e4aa55"/>
<rect x="554.75" y="519.53" width="1.3" height="12.75" fill="#e4aa55"/>
<rect x="564.95" y="519.53" width="1.3" height="12.75" fill="#e4aa55"/>
<rect x="575.05" y="519.53" width="1.3" height="12.75" fill="#e4aa55"/>
<rect x="584.95" y="519.53" width="1.3" height="12.75" fill="#189418"/>
<rect x="595.15" y="519.53" width="1.3" height="12.75" fill="#189418"/>
<rect x="605.45" y="519.53" width="1.3" height="12.75" fill="#189418"/>
<rect x="615.65" y="519.53" width="1.3" height="12.75" fill="#189418"/>
<rect x="625.85" y="519.53" width="1.3" height="12.75" fill="#189418"/>
<rect x="635.85" y="519.53" width="1.3" height="12.75" fill="#189418"/>
<rect x="646.15" y="519.53" width="1.3" height="12.75" fill="#8a424c"/>
<rect x="656.05" y="519.53" width="1.3" height="12.75" fill="#8a424c"/>
<rect x="666.65" y="519.53" width="1.3" height="12.75" fill="#0c0870"/>
<rect x="676.85" y="519.53" width="1.3" height="12.75" fill="#8a424c"/>
<rect x="686.95" y="519.53" width="1.3" height="12.75" fill="#8a424c"/>
<rect x="696.85" y="519.53" width="1.3" height="12.75" fill="#8a424c"/>
<rect x="707.05" y="519.53" width="1.3" height="12.75" fill="#0c0870"/>
<rect x="716.95" y="519.53" width="1.3" height="12.75" fill="#8a424c"/>
<rect x="727.15" y="519.53" width="1.3" height="12.75" fill="#8a424c"/>
<rect x="737.85" y="519.53" width="1.3" height="12.75" fill="#189418"/>
<rect x="747.85" y="519.53" width="1.3" height="12.75" fill="#189418"/>
<rect x="757.75" y="519.53" width="1.3" height="12.75" fill="#189418"/>
<rect x="767.95" y="519.53" width="1.3" height="12.75" fill="#8a424c"/>
<rect x="777.85" y="519.53" width="1.3" height="12.75" fill="#8a424c"/>
<rect x="788.05" y="519.53" width="1.3" height="12.75" fill="#8a424c"/>
<rect x="798.45" y="519.53" width="1.3" height="12.75" fill="#8a424c"/>
<rect x="808.85" y="519.53" width="1.3" height="12.75" fill="#8a424c"/>
<rect x="828.75" y="519.53" width="1.3" height="12.75" fill="#8a424c"/>
<rect x="838.95" y="519.53" width="1.3" height="12.75" fill="#8a424c"/>
<rect x="848.95" y="519.53" width="1.3" height="12.75" fill="#8a424c"/>
<rect x="269.95" y="535.44" width="1.3" height="12.75" fill="#189418"/>
<rect x="280.65" y="535.44" width="1.3" height="12.75" fill="#189418"/>
<rect x="291.05" y="535.44" width="1.3" height="12.75" fill="#189418"/>
<rect x="300.95" y="535.44" width="1.3" height="12.75" fill="#189418"/>
<rect x="310.85" y="535.44" width="1.3" height="12.75" fill="#189418"/>
<rect x="321.05" y="535.44" width="1.3" height="12.75" fill="#189418"/>
<rect x="330.95" y="535.44" width="1.3" height="12.75" fill="#189418"/>
<rect x="341.55" y="535.44" width="1.3" height="12.75" fill="#189418"/>
<rect x="351.85" y="535.44" width="1.3" height="12.75" fill="#189418"/>
<rect x="361.95" y="535.44" width="1.3" height="12.75" fill="#189418"/>
<rect x="371.95" y="535.44" width="1.3" height="12.75" fill="#189418"/>
<rect x="381.85" y="535.44" width="1.3" height="12.75" fill="#189418"/>
<rect x="392.05" y="535.44" width="1.3" height="12.75" fill="#189418"/>
<rect x="402.15" y="535.44" width="1.3" height="12.75" fill="#189418"/>
<rect x="412.85" y="535.44" width="1.3" height="12.75" fill="#189418"/>
<rect x="423.05" y="535.44" width="1.3" height="12.75" fill="#8a424c"/>
<rect x="432.95" y="535.44" width="1.3" height="12.75" fill="#8a424c"/>
<rect x="442.85" y="535.44" width="1.3" height="12.75" fill="#8a424c"/>
<rect x="453.05" y="535.44" width="1.3" height="12.75" fill="#8a424c"/>
<rect x="462.95" y="535.44" width="1.3" height="12.75" fill="#8a424c"/>
<rect x="474.05" y="535.44" width="1.3" height="12.75" fill="#189418"/>
<rect x="483.95" y="535.44" width="1.3" height="12.75" fill="#189418"/>
<rect x="493.85" y="535.44" width="1.3" height="12.75" fill="#189418"/>
<rect x="503.75" y="535.44" width="1.3" height="12.75" fill="#8a424c"/>
<rect x="513.85" y="535.44" width="1.3" height="12.75" fill="#8a424c"/>
<rect x="523.95" y="535.44" width="1.3" height="12.75" fill="#0c0870"/>
<rect x="534.95" y="535.44" width="1.3" height="12.75" fill="#8a424c"/>
<rect x="544.85" y="535.44" width="1.3" height="12.75" fill="#8a424c"/>
<rect x="554.75" y="535.44" width="1.3" height="12.75" fill="#8a424c"/>
<rect x="564.95" y="535.44" width="1.3" height="12.75" fill="#8a424c"/>
<rect x="575.05" y="535.44" width="1.3" height="12.75" fill="#8a424c"/>
<rect x="584.95" y="535.44" width="1.3" height="12.75" fill="#8a424c"/>
<rect x="595.15" y="535.44" width="1.3" height="12.75" fill="#8a424c"/>
<rect x="605.45" y="535.44" width="1.3" height="12.75" fill="#8a424c"/>
<rect x="615.65" y="535.44" width="1.3" height="12.75" fill="#189418"/>
<rect x="625.85" y="535.44" width="1.3" height="12.75" fill="#189418"/>
<rect x="635.85" y="535.44" width="1.3" height="12.75" fill="#189418"/>
<rect x="646.15" y="535.44" width="1.3" height="12.75" fill="#189418"/>
<rect x="656.05" y="535.44" width="1.3" height="12.75" fill="#189418"/>
<rect x="666.65" y="535.44" width="1.3" height="12.75" fill="#189418"/>
<rect x="676.85" y="535.44" width="1.3" height="12.75" fill="#189418"/>
<rect x="686.95" y="535.44" width="1.3" height="12.75" fill="#189418"/>
<rect x="696.85" y="535.44" width="1.3" height="12.75" fill="#189418"/>
<rect x="707.05" y="535.44" width="1.3" height="12.75" fill="#189418"/>
<rect x="716.95" y="535.44" width="1.3" height="12.75" fill="#8a424c"/>
<rect x="727.15" y="535.44" width="1.3" height="12.75" fill="#8a424c"/>
<rect x="737.85" y="535.44" width="1.3" height="12.75" fill="#8a424c"/>
<rect x="747.85" y="535.44" width="1.3" height="12.75" fill="#8a424c"/>
<rect x="757.75" y="535.44" width="1.3" height="12.75" fill="#8a424c"/>
<rect x="767.95" y="535.44" width="1.3" height="12.75" fill="#8a424c"/>
<rect x="777.85" y="535.44" width="1.3" height="12.75" fill="#8a424c"/>
<rect x="788.05" y="535.44" width="1.3" height="12.75" fill="#8a424c"/>
<rect x="798.45" y="535.44" width="1.3" height="12.75" fill="#8a424c"/>
<rect x="808.85" y="535.44" width="1.3" height="12.75" fill="#8a424c"/>
<rect x="828.75" y="535.44" width="1.3" height="12.75" fill="#8a424c"/>
<rect x="838.95" y="535.44" width="1.3" height="12.75" fill="#8a424c"/>
<rect x="848.95" y="535.44" width="1.3" height="12.75" fill="#8a424c"/>
<rect x="269.95" y="551.36" width="1.3" height="12.75" fill="#8a424c"/>
<rect x="280.65" y="551.36" width="1.3" height="12.75" fill="#8a424c"/>
<rect x="291.05" y="551.36" width="1.3" height="12.75" fill="#8a424c"/>
<rect x="300.95" y="551.36" width="1.3" height="12.75" fill="#8a424c"/>
<rect x="310.85" y="551.36" width="1.3" height="12.75" fill="#8a424c"/>
<rect x="321.05" y="551.36" width="1.3" height="12.75" fill="#8a424c"/>
<rect x="330.95" y="551.36" width="1.3" height="12.75" fill="#189418"/>
<rect x="341.55" y="551.36" width="1.3" height="12.75" fill="#189418"/>
<rect x="351.85" y="551.36" width="1.3" height="12.75" fill="#189418"/>
<rect x="361.95" y="551.36" width="1.3" height="12.75" fill="#8a424c"/>
<rect x="371.95" y="551.36" width="1.3" height="12.75" fill="#8a424c"/>
<rect x="381.85" y="551.36" width="1.3" height="12.75" fill="#8a424c"/>
<rect x="392.05" y="551.36" width="1.3" height="12.75" fill="#8a424c"/>
<rect x="402.15" y="551.36" width="1.3" height="12.75" fill="#189418"/>
<rect x="412.85" y="551.36" width="1.3" height="12.75" fill="#8a424c"/>
<rect x="423.05" y="551.36" width="1.3" height="12.75" fill="#8a424c"/>
<rect x="432.95" y="551.36" width="1.3" height="12.75" fill="#8a424c"/>
<rect x="442.85" y="551.36" width="1.3" height="12.75" fill="#8a424c"/>
<rect x="453.05" y="551.36" width="1.3" height="12.75" fill="#8a424c"/>
<rect x="462.95" y="551.36" width="1.3" height="12.75" fill="#8a424c"/>
<rect x="474.05" y="551.36" width="1.3" height="12.75" fill="#189418"/>
<rect x="483.95" y="551.36" width="1.3" height="12.75" fill="#189418"/>
<rect x="493.85" y="551.36" width="1.3" height="12.75" fill="#189418"/>
<rect x="503.75" y="551.36" width="1.3" height="12.75" fill="#189418"/>
<rect x="513.85" y="551.36" width="1.3" height="12.75" fill="#189418"/>
<rect x="523.95" y="551.36" width="1.3" height="12.75" fill="#189418"/>
<rect x="534.95" y="551.36" width="1.3" height="12.75" fill="#189418"/>
<rect x="544.85" y="551.36" width="1.3" height="12.75" fill="#e4aa55"/>
<rect x="554.75" y="551.36" width="1.3" height="12.75" fill="#189418"/>
<rect x="564.95" y="551.36" width="1.3" height="12.75" fill="#189418"/>
<rect x="575.05" y="551.36" width="1.3" height="12.75" fill="#189418"/>
<rect x="584.95" y="551.36" width="1.3" height="12.75" fill="#189418"/>
<rect x="595.15" y="551.36" width="1.3" height="12.75" fill="#189418"/>
<rect x="605.45" y="551.36" width="1.3" height="12.75" fill="#8a424c"/>
<rect x="615.65" y="551.36" width="1.3" height="12.75" fill="#8a424c"/>
<rect x="625.85" y="551.36" width="1.3" height="12.75" fill="#8a424c"/>
<rect x="635.85" y="551.36" width="1.3" height="12.75" fill="#189418"/>
<rect x="646.15" y="551.36" width="1.3" height="12.75" fill="#189418"/>
<rect x="656.05" y="551.36" width="1.3" height="12.75" fill="#189418"/>
<rect x="666.65" y="551.36" width="1.3" height="12.75" fill="#189418"/>
<rect x="676.85" y="551.36" width="1.3" height="12.75" fill="#189418"/>
<rect x="686.95" y="551.36" width="1.3" height="12.75" fill="#189418"/>
<rect x="696.85" y="551.36" width="1.3" height="12.75" fill="#189418"/>
<rect x="707.05" y="551.36" width="1.3" height="12.75" fill="#189418"/>
<rect x="716.95" y="551.36" width="1.3" height="12.75" fill="#189418"/>
<rect x="727.15" y="551.36" width="1.3" height="12.75" fill="#8a424c"/>
<rect x="737.85" y="551.36" width="1.3" height="12.75" fill="#8a424c"/>
<rect x="747.85" y="551.36" width="1.3" height="12.75" fill="#8a424c"/>
<rect x="757.75" y="551.36" width="1.3" height="12.75" fill="#189418"/>
<rect x="767.95" y="551.36" width="1.3" height="12.75" fill="#189418"/>
<rect x="777.85" y="551.36" width="1.3" height="12.75" fill="#189418"/>
<rect x="788.05" y="551.36" width="1.3" height="12.75" fill="#8a424c"/>
<rect x="798.45" y="551.36" width="1.3" height="12.75" fill="#8a424c"/>
<rect x="808.85" y="551.36" width="1.3" height="12.75" fill="#8a424c"/>
<rect x="828.75" y="551.36" width="1.3" height="12.75" fill="#8a424c"/>
<rect x="838.95" y="551.36" width="1.3" height="12.75" fill="#8a424c"/>
<rect x="848.95" y="551.36" width="1.3" height="12.75" fill="#189418"/>
<rect x="291.05" y="567.27" width="1.3" height="12.75" fill="#189418"/>
<rect x="300.95" y="567.27" width="1.3" height="12.75" fill="#189418"/>
<rect x="310.85" y="567.27" width="1.3" height="12.75" fill="#189418"/>
<rect x="321.05" y="567.27" width="1.3" height="12.75" fill="#189418"/>
<rect x="330.95" y="567.27" width="1.3" height="12.75" fill="#189418"/>
<rect x="341.55" y="567.27" width="1.3" height="12.75" fill="#189418"/>
<rect x="351.85" y="567.27" width="1.3" height="12.75" fill="#189418"/>
<rect x="361.95" y="567.27" width="1.3" height="12.75" fill="#189418"/>
<rect x="371.95" y="567.27" width="1.3" height="12.75" fill="#189418"/>
<rect x="381.85" y="567.27" width="1.3" height="12.75" fill="#8a424c"/>
<rect x="392.05" y="567.27" width="1.3" height="12.75" fill="#8a424c"/>
<rect x="402.15" y="567.27" width="1.3" height="12.75" fill="#8a424c"/>
<rect x="412.85" y="567.27" width="1.3" height="12.75" fill="#8a424c"/>
<rect x="423.05" y="567.27" width="1.3" height="12.75" fill="#8a424c"/>
<rect x="432.95" y="567.27" width="1.3" height="12.75" fill="#8a424c"/>
<rect x="442.85" y="567.27" width="1.3" height="12.75" fill="#8a424c"/>
<rect x="453.05" y="567.27" width="1.3" height="12.75" fill="#8a424c"/>
<rect x="462.95" y="567.27" width="1.3" height="12.75" fill="#8a424c"/>
<rect x="474.05" y="567.27" width="1.3" height="12.75" fill="#189418"/>
<rect x="453.05" y="583.19" width="1.3" height="12.75" fill="#189418"/>
<rect x="462.95" y="583.19" width="1.3" height="12.75" fill="#189418"/>
<rect x="474.05" y="583.19" width="1.3" height="12.75" fill="#e4aa55"/>
<rect x="483.95" y="599.11" width="1.3" height="12.75" fill="#189418"/>
<rect x="493.85" y="599.11" width="1.3" height="12.75" fill="#e4aa55"/>
<rect x="503.75" y="599.11" width="1.3" height="12.75" fill="#e4aa55"/>
<rect x="513.85" y="599.11" width="1.3" height="12.75" fill="#189418"/>
<rect x="300.95" y="615.02" width="1.3" height="12.75" fill="#189418"/>
<rect x="696.85" y="615.02" width="1.3" height="12.75" fill="#e4aa55"/>
<rect x="707.05" y="615.02" width="1.3" height="12.75" fill="#e4aa55"/>
<rect x="716.95" y="615.02" width="1.3" height="12.75" fill="#e4aa55"/>
<rect x="727.15" y="615.02" width="1.3" height="12.75" fill="#e4aa55"/>
<rect x="737.85" y="615.02" width="1.3" height="12.75" fill="#e4aa55"/>
<rect x="747.85" y="615.02" width="1.3" height="12.75" fill="#e4aa55"/>
<rect x="757.75" y="615.02" width="1.3" height="12.75" fill="#189418"/>
<rect x="767.95" y="615.02" width="1.3" height="12.75" fill="#189418"/>
<rect x="777.85" y="615.02" width="1.3" height="12.75" fill="#189418"/>
<rect x="788.05" y="615.02" width="1.3" height="12.75" fill="#189418"/>
<rect x="798.45" y="615.02" width="1.3" height="12.75" fill="#189418"/>
<rect x="808.85" y="615.02" width="1.3" height="12.75" fill="#eeee20"/>
<rect x="828.75" y="615.02" width="1.3" height="12.75" fill="#189418"/>
<rect x="838.95" y="615.02" width="1.3" height="12.75" fill="#189418"/>
<rect x="848.95" y="615.02" width="1.3" height="12.75" fill="#8a424c"/>
<rect x="300.95" y="630.93" width="1.3" height="12.75" fill="#189418"/>
<rect x="310.85" y="630.93" width="1.3" height="12.75" fill="#189418"/>
<rect x="321.05" y="630.93" width="1.3" height="12.75" fill="#189418"/>
<rect x="330.95" y="630.93" width="1.3" height="12.75" fill="#189418"/>
<rect x="341.55" y="630.93" width="1.3" height="12.75" fill="#189418"/>
<rect x="351.85" y="630.93" width="1.3" height="12.75" fill="#8a424c"/>
<rect x="361.95" y="630.93" width="1.3" height="12.75" fill="#8a424c"/>
<rect x="371.95" y="630.93" width="1.3" height="12.75" fill="#8a424c"/>
<rect x="381.85" y="630.93" width="1.3" height="12.75" fill="#8a424c"/>
<rect x="392.05" y="630.93" width="1.3" height="12.75" fill="#8a424c"/>
<rect x="402.15" y="630.93" width="1.3" height="12.75" fill="#8a424c"/>
<rect x="412.85" y="630.93" width="1.3" height="12.75" fill="#8a424c"/>
<rect x="423.05" y="630.93" width="1.3" height="12.75" fill="#8a424c"/>
<rect x="432.95" y="630.93" width="1.3" height="12.75" fill="#8a424c"/>
<rect x="442.85" y="630.93" width="1.3" height="12.75" fill="#8a424c"/>
<rect x="453.05" y="630.93" width="1.3" height="12.75" fill="#0c0870"/>
<rect x="462.95" y="630.93" width="1.3" height="12.75" fill="#0c0870"/>
<rect x="474.05" y="630.93" width="1.3" height="12.75" fill="#0c0870"/>
<rect x="483.95" y="630.93" width="1.3" height="12.75" fill="#0c0870"/>
<rect x="493.85" y="630.93" width="1.3" height="12.75" fill="#8a424c"/>
<rect x="503.75" y="630.93" width="1.3" height="12.75" fill="#0c0870"/>
<rect x="513.85" y="630.93" width="1.3" height="12.75" fill="#8a424c"/>
<rect x="523.95" y="630.93" width="1.3" height="12.75" fill="#8a424c"/>
<rect x="534.95" y="630.93" width="1.3" height="12.75" fill="#0c0870"/>
<rect x="544.85" y="630.93" width="1.3" height="12.75" fill="#0c0870"/>
<rect x="554.75" y="630.93" width="1.3" height="12.75" fill="#8a424c"/>
<rect x="564.95" y="630.93" width="1.3" height="12.75" fill="#189418"/>
<rect x="575.05" y="630.93" width="1.3" height="12.75" fill="#189418"/>
<rect x="584.95" y="630.93" width="1.3" height="12.75" fill="#189418"/>
<rect x="595.15" y="630.93" width="1.3" height="12.75" fill="#189418"/>
<rect x="605.45" y="630.93" width="1.3" height="12.75" fill="#189418"/>
<rect x="615.65" y="630.93" width="1.3" height="12.75" fill="#189418"/>
<rect x="625.85" y="630.93" width="1.3" height="12.75" fill="#189418"/>
<rect x="635.85" y="630.93" width="1.3" height="12.75" fill="#8a424c"/>
<rect x="646.15" y="630.93" width="1.3" height="12.75" fill="#8a424c"/>
<rect x="656.05" y="630.93" width="1.3" height="12.75" fill="#189418"/>
<rect x="666.65" y="630.93" width="1.3" height="12.75" fill="#189418"/>
<rect x="676.85" y="630.93" width="1.3" height="12.75" fill="#189418"/>
<rect x="686.95" y="630.93" width="1.3" height="12.75" fill="#8a424c"/>
<rect x="696.85" y="630.93" width="1.3" height="12.75" fill="#8a424c"/>
<rect x="707.05" y="630.93" width="1.3" height="12.75" fill="#8a424c"/>
<rect x="716.95" y="630.93" width="1.3" height="12.75" fill="#0c0870"/>
<rect x="727.15" y="630.93" width="1.3" height="12.75" fill="#0c0870"/>
<rect x="737.85" y="630.93" width="1.3" height="12.75" fill="#0c0870"/>
<rect x="747.85" y="630.93" width="1.3" height="12.75" fill="#0c0870"/>
<rect x="757.75" y="630.93" width="1.3" height="12.75" fill="#0c0870"/>
<rect x="767.95" y="630.93" width="1.3" height="12.75" fill="#0c0870"/>
<rect x="777.85" y="630.93" width="1.3" height="12.75" fill="#0c0870"/>
<rect x="788.05" y="630.93" width="1.3" height="12.75" fill="#0c0870"/>
<rect x="798.45" y="630.93" width="1.3" height="12.75" fill="#0c0870"/>
<rect x="808.85" y="630.93" width="1.3" height="12.75" fill="#0c0870"/>
<rect x="828.75" y="630.93" width="1.3" height="12.75" fill="#0c0870"/>
<rect x="838.95" y="630.93" width="1.3" height="12.75" fill="#0c0870"/>
<rect x="848.95" y="630.93" width="1.3" height="12.75" fill="#0c0870"/>
<rect x="310.85" y="646.85" width="1.3" height="12.75" fill="#189418"/>
<rect x="321.05" y="646.85" width="1.3" height="12.75" fill="#189418"/>
<rect x="310.85" y="662.76" width="1.3" height="12.75" fill="#8a424c"/>
<rect x="321.05" y="662.76" width="1.3" height="12.75" fill="#0c0870"/>
<rect x="330.95" y="662.76" width="1.3" height="12.75" fill="#0c0870"/>
<rect x="310.85" y="678.68" width="1.3" height="12.75" fill="#189418"/>
<rect x="321.05" y="678.68" width="1.3" height="12.75" fill="#189418"/>
<rect x="330.95" y="678.68" width="1.3" height="12.75" fill="#189418"/>
<rect x="341.55" y="678.68" width="1.3" height="12.75" fill="#189418"/>
<rect x="351.85" y="678.68" width="1.3" height="12.75" fill="#189418"/>
<rect x="361.95" y="678.68" width="1.3" height="12.75" fill="#189418"/>
<rect x="371.95" y="678.68" width="1.3" height="12.75" fill="#189418"/>
<rect x="381.85" y="678.68" width="1.3" height="12.75" fill="#189418"/>
<rect x="392.05" y="678.68" width="1.3" height="12.75" fill="#189418"/>
<rect x="402.15" y="678.68" width="1.3" height="12.75" fill="#189418"/>
<rect x="412.85" y="678.68" width="1.3" height="12.75" fill="#189418"/>
<rect x="423.05" y="678.68" width="1.3" height="12.75" fill="#189418"/>
<rect x="432.95" y="678.68" width="1.3" height="12.75" fill="#189418"/>
<rect x="442.85" y="678.68" width="1.3" height="12.75" fill="#189418"/>
<rect x="453.05" y="678.68" width="1.3" height="12.75" fill="#189418"/>
<rect x="462.95" y="678.68" width="1.3" height="12.75" fill="#8a424c"/>
<rect x="474.05" y="678.68" width="1.3" height="12.75" fill="#8a424c"/>
<rect x="483.95" y="678.68" width="1.3" height="12.75" fill="#8a424c"/>
<rect x="493.85" y="678.68" width="1.3" height="12.75" fill="#8a424c"/>
<rect x="503.75" y="678.68" width="1.3" height="12.75" fill="#8a424c"/>
<rect x="513.85" y="678.68" width="1.3" height="12.75" fill="#8a424c"/>
<rect x="523.95" y="678.68" width="1.3" height="12.75" fill="#189418"/>
<rect x="534.95" y="678.68" width="1.3" height="12.75" fill="#189418"/>
<rect x="544.85" y="678.68" width="1.3" height="12.75" fill="#189418"/>
<rect x="554.75" y="678.68" width="1.3" height="12.75" fill="#189418"/>
<rect x="564.95" y="678.68" width="1.3" height="12.75" fill="#189418"/>
<rect x="575.05" y="678.68" width="1.3" height="12.75" fill="#189418"/>
<rect x="584.95" y="678.68" width="1.3" height="12.75" fill="#189418"/>
<rect x="595.15" y="678.68" width="1.3" height="12.75" fill="#189418"/>
<rect x="605.45" y="678.68" width="1.3" height="12.75" fill="#e4aa55"/>
<rect x="615.65" y="678.68" width="1.3" height="12.75" fill="#e4aa55"/>
<rect x="625.85" y="678.68" width="1.3" height="12.75" fill="#e4aa55"/>
<rect x="635.85" y="678.68" width="1.3" height="12.75" fill="#e4aa55"/>
<rect x="646.15" y="678.68" width="1.3" height="12.75" fill="#e4aa55"/>
<rect x="656.05" y="678.68" width="1.3" height="12.75" fill="#e4aa55"/>
<rect x="666.65" y="678.68" width="1.3" height="12.75" fill="#e4aa55"/>
<rect x="676.85" y="678.68" width="1.3" height="12.75" fill="#e4aa55"/>
<rect x="686.95" y="678.68" width="1.3" height="12.75" fill="#e4aa55"/>
<rect x="696.85" y="678.68" width="1.3" height="12.75" fill="#e4aa55"/>
<rect x="707.05" y="678.68" width="1.3" height="12.75" fill="#e4aa55"/>
<rect x="716.95" y="678.68" width="1.3" height="12.75" fill="#e4aa55"/>
<rect x="727.15" y="678.68" width="1.3" height="12.75" fill="#e4aa55"/>
<rect x="737.85" y="678.68" width="1.3" height="12.75" fill="#e4aa55"/>
<rect x="747.85" y="678.68" width="1.3" height="12.75" fill="#e4aa55"/>
<rect x="757.75" y="678.68" width="1.3" height="12.75" fill="#e4aa55"/>
<rect x="767.95" y="678.68" width="1.3" height="12.75" fill="#e4aa55"/>
<rect x="777.85" y="678.68" width="1.3" height="12.75" fill="#e4aa55"/>
<rect x="788.05" y="678.68" width="1.3" height="12.75" fill="#e4aa55"/>
<rect x="798.45" y="678.68" width="1.3" height="12.75" fill="#e4aa55"/>
<rect x="808.85" y="678.68" width="1.3" height="12.75" fill="#e4aa55"/>
<rect x="828.75" y="678.68" width="1.3" height="12.75" fill="#e4aa55"/>
<rect x="838.95" y="678.68" width="1.3" height="12.75" fill="#e4aa55"/>
<rect x="848.95" y="678.68" width="1.3" height="12.75" fill="#e4aa55"/>
<rect x="381.85" y="694.59" width="1.3" height="12.75" fill="#189418"/>
<rect x="392.05" y="694.59" width="1.3" height="12.75" fill="#189418"/>
<rect x="402.15" y="694.59" width="1.3" height="12.75" fill="#189418"/>
<rect x="412.85" y="694.59" width="1.3" height="12.75" fill="#189418"/>
<rect x="423.05" y="694.59" width="1.3" height="12.75" fill="#189418"/>
<rect x="432.95" y="694.59" width="1.3" height="12.75" fill="#189418"/>
<rect x="442.85" y="694.59" width="1.3" height="12.75" fill="#189418"/>
<rect x="453.05" y="694.59" width="1.3" height="12.75" fill="#189418"/>
<rect x="462.95" y="694.59" width="1.3" height="12.75" fill="#189418"/>
<rect x="474.05" y="694.59" width="1.3" height="12.75" fill="#e4aa55"/>
<rect x="483.95" y="694.59" width="1.3" height="12.75" fill="#e4aa55"/>
<rect x="493.85" y="694.59" width="1.3" height="12.75" fill="#189418"/>
<rect x="503.75" y="694.59" width="1.3" height="12.75" fill="#189418"/>
<rect x="513.85" y="694.59" width="1.3" height="12.75" fill="#e4aa55"/>
<rect x="523.95" y="694.59" width="1.3" height="12.75" fill="#e4aa55"/>
<rect x="534.95" y="694.59" width="1.3" height="12.75" fill="#e4aa55"/>
<rect x="544.85" y="694.59" width="1.3" height="12.75" fill="#e4aa55"/>
<rect x="554.75" y="694.59" width="1.3" height="12.75" fill="#e4aa55"/>
<rect x="564.95" y="694.59" width="1.3" height="12.75" fill="#e4aa55"/>
<rect x="575.05" y="694.59" width="1.3" height="12.75" fill="#e4aa55"/>
<rect x="584.95" y="694.59" width="1.3" height="12.75" fill="#e4aa55"/>
<rect x="595.15" y="694.59" width="1.3" height="12.75" fill="#189418"/>
<rect x="605.45" y="694.59" width="1.3" height="12.75" fill="#189418"/>
<rect x="625.85" y="694.59" width="1.3" height="12.75" fill="#e4aa55"/>
<rect x="423.05" y="710.51" width="1.3" height="12.75" fill="#189418"/>
<rect x="432.95" y="710.51" width="1.3" height="12.75" fill="#189418"/>
<rect x="442.85" y="710.51" width="1.3" height="12.75" fill="#189418"/>
<rect x="453.05" y="710.51" width="1.3" height="12.75" fill="#189418"/>
<rect x="462.95" y="710.51" width="1.3" height="12.75" fill="#189418"/>
<rect x="474.05" y="710.51" width="1.3" height="12.75" fill="#189418"/>
<rect x="483.95" y="710.51" width="1.3" height="12.75" fill="#189418"/>
<rect x="493.85" y="710.51" width="1.3" height="12.75" fill="#189418"/>
<rect x="503.75" y="710.51" width="1.3" height="12.75" fill="#189418"/>
<rect x="513.85" y="710.51" width="1.3" height="12.75" fill="#189418"/>
<rect x="523.95" y="710.51" width="1.3" height="12.75" fill="#189418"/>
<rect x="534.95" y="710.51" width="1.3" height="12.75" fill="#189418"/>
<rect x="544.85" y="710.51" width="1.3" height="12.75" fill="#189418"/>
<rect x="554.75" y="710.51" width="1.3" height="12.75" fill="#e4aa55"/>
<rect x="564.95" y="710.51" width="1.3" height="12.75" fill="#e4aa55"/>
<rect x="575.05" y="710.51" width="1.3" height="12.75" fill="#189418"/>
<rect x="584.95" y="710.51" width="1.3" height="12.75" fill="#e4aa55"/>
<rect x="595.15" y="710.51" width="1.3" height="12.75" fill="#e4aa55"/>
<rect x="605.45" y="710.51" width="1.3" height="12.75" fill="#e4aa55"/>
<rect x="615.65" y="710.51" width="1.3" height="12.75" fill="#e4aa55"/>
<rect x="625.85" y="710.51" width="1.3" height="12.75" fill="#e4aa55"/>
<rect x="635.85" y="710.51" width="1.3" height="12.75" fill="#e4aa55"/>
<rect x="646.15" y="710.51" width="1.3" height="12.75" fill="#e4aa55"/>
<rect x="656.05" y="710.51" width="1.3" height="12.75" fill="#e4aa55"/>
<rect x="666.65" y="710.51" width="1.3" height="12.75" fill="#e4aa55"/>
<rect x="676.85" y="710.51" width="1.3" height="12.75" fill="#e4aa55"/>
<rect x="686.95" y="710.51" width="1.3" height="12.75" fill="#e4aa55"/>
<rect x="696.85" y="710.51" width="1.3" height="12.75" fill="#e4aa55"/>
<rect x="707.05" y="710.51" width="1.3" height="12.75" fill="#e4aa55"/>
<rect x="716.95" y="710.51" width="1.3" height="12.75" fill="#e4aa55"/>
<rect x="727.15" y="710.51" width="1.3" height="12.75" fill="#e4aa55"/>
<rect x="737.85" y="710.51" width="1.3" height="12.75" fill="#e4aa55"/>
<rect x="747.85" y="710.51" width="1.3" height="12.75" fill="#e4aa55"/>
<rect x="757.75" y="710.51" width="1.3" height="12.75" fill="#e4aa55"/>
<rect x="767.95" y="710.51" width="1.3" height="12.75" fill="#e4aa55"/>
<rect x="777.85" y="710.51" width="1.3" height="12.75" fill="#e4aa55"/>
<rect x="788.05" y="710.51" width="1.3" height="12.75" fill="#e4aa55"/>
<rect x="798.45" y="710.51" width="1.3" height="12.75" fill="#e4aa55"/>
<rect x="808.85" y="710.51" width="1.3" height="12.75" fill="#e4aa55"/>
<rect x="828.75" y="710.51" width="1.3" height="12.75" fill="#eeee20"/>
<rect x="838.95" y="710.51" width="1.3" height="12.75" fill="#eeee20"/>
<rect x="848.95" y="710.51" width="1.3" height="12.75" fill="#eeee20"/>
<rect x="432.95" y="726.42" width="1.3" height="12.75" fill="#189418"/>
<rect x="442.85" y="726.42" width="1.3" height="12.75" fill="#189418"/>
<rect x="453.05" y="726.42" width="1.3" height="12.75" fill="#189418"/>
<rect x="462.95" y="726.42" width="1.3" height="12.75" fill="#189418"/>
<rect x="474.05" y="726.42" width="1.3" height="12.75" fill="#189418"/>
<rect x="483.95" y="726.42" width="1.3" height="12.75" fill="#189418"/>
<rect x="493.85" y="726.42" width="1.3" height="12.75" fill="#189418"/>
<rect x="503.75" y="726.42" width="1.3" height="12.75" fill="#189418"/>
<rect x="513.85" y="726.42" width="1.3" height="12.75" fill="#189418"/>
<rect x="523.95" y="726.42" width="1.3" height="12.75" fill="#e4aa55"/>
<rect x="534.95" y="726.42" width="1.3" height="12.75" fill="#e4aa55"/>
<rect x="544.85" y="726.42" width="1.3" height="12.75" fill="#e4aa55"/>
<rect x="554.75" y="726.42" width="1.3" height="12.75" fill="#189418"/>
<rect x="564.95" y="726.42" width="1.3" height="12.75" fill="#189418"/>
<rect x="575.05" y="726.42" width="1.3" height="12.75" fill="#189418"/>
<rect x="584.95" y="726.42" width="1.3" height="12.75" fill="#189418"/>
<rect x="595.15" y="726.42" width="1.3" height="12.75" fill="#189418"/>
<rect x="605.45" y="726.42" width="1.3" height="12.75" fill="#189418"/>
<rect x="615.65" y="726.42" width="1.3" height="12.75" fill="#189418"/>
<rect x="625.85" y="726.42" width="1.3" height="12.75" fill="#189418"/>
<rect x="635.85" y="726.42" width="1.3" height="12.75" fill="#189418"/>
<rect x="646.15" y="726.42" width="1.3" height="12.75" fill="#189418"/>
<rect x="656.05" y="726.42" width="1.3" height="12.75" fill="#189418"/>
<rect x="666.65" y="726.42" width="1.3" height="12.75" fill="#189418"/>
<rect x="676.85" y="726.42" width="1.3" height="12.75" fill="#189418"/>
<rect x="686.95" y="726.42" width="1.3" height="12.75" fill="#189418"/>
<rect x="696.85" y="726.42" width="1.3" height="12.75" fill="#8a424c"/>
<rect x="707.05" y="726.42" width="1.3" height="12.75" fill="#8a424c"/>
<rect x="716.95" y="726.42" width="1.3" height="12.75" fill="#8a424c"/>
<rect x="727.15" y="726.42" width="1.3" height="12.75" fill="#8a424c"/>
<rect x="737.85" y="726.42" width="1.3" height="12.75" fill="#8a424c"/>
<rect x="747.85" y="726.42" width="1.3" height="12.75" fill="#8a424c"/>
<rect x="757.75" y="726.42" width="1.3" height="12.75" fill="#8a424c"/>
<rect x="767.95" y="726.42" width="1.3" height="12.75" fill="#8a424c"/>
<rect x="777.85" y="726.42" width="1.3" height="12.75" fill="#8a424c"/>
<rect x="788.05" y="726.42" width="1.3" height="12.75" fill="#8a424c"/>
<rect x="798.45" y="726.42" width="1.3" height="12.75" fill="#8a424c"/>
<rect x="808.85" y="726.42" width="1.3" height="12.75" fill="#8a424c"/>
<rect x="828.75" y="726.42" width="1.3" height="12.75" fill="#0c0870"/>
<rect x="838.95" y="726.42" width="1.3" height="12.75" fill="#0c0870"/>
<rect x="848.95" y="726.42" width="1.3" height="12.75" fill="#0c0870"/>
<rect x="462.95" y="742.34" width="1.3" height="12.75" fill="#8a424c"/>
<rect x="474.05" y="742.34" width="1.3" height="12.75" fill="#8a424c"/>
<rect x="483.95" y="742.34" width="1.3" height="12.75" fill="#8a424c"/>
<rect x="493.85" y="742.34" width="1.3" height="12.75" fill="#8a424c"/>
<rect x="503.75" y="742.34" width="1.3" height="12.75" fill="#8a424c"/>
<rect x="513.85" y="742.34" width="1.3" height="12.75" fill="#8a424c"/>
<rect x="523.95" y="742.34" width="1.3" height="12.75" fill="#8a424c"/>
<rect x="534.95" y="742.34" width="1.3" height="12.75" fill="#8a424c"/>
<rect x="544.85" y="742.34" width="1.3" height="12.75" fill="#8a424c"/>
<rect x="554.75" y="742.34" width="1.3" height="12.75" fill="#0c0870"/>
<rect x="564.95" y="742.34" width="1.3" height="12.75" fill="#0c0870"/>
<rect x="575.05" y="742.34" width="1.3" height="12.75" fill="#0c0870"/>
<rect x="584.95" y="742.34" width="1.3" height="12.75" fill="#0c0870"/>
<rect x="595.15" y="742.34" width="1.3" height="12.75" fill="#0c0870"/>
<rect x="474.05" y="758.25" width="1.3" height="12.75" fill="#e4aa55"/>
<rect x="483.95" y="758.25" width="1.3" height="12.75" fill="#e4aa55"/>
<rect x="493.85" y="758.25" width="1.3" height="12.75" fill="#e4aa55"/>
<rect x="503.75" y="758.25" width="1.3" height="12.75" fill="#e4aa55"/>
<rect x="513.85" y="758.25" width="1.3" height="12.75" fill="#e4aa55"/>
<rect x="503.75" y="774.17" width="1.3" height="12.75" fill="#e4aa55"/>
<rect x="513.85" y="774.17" width="1.3" height="12.75" fill="#e4aa55"/>
<rect x="523.95" y="774.17" width="1.3" height="12.75" fill="#e4aa55"/>
<rect x="534.95" y="774.17" width="1.3" height="12.75" fill="#189418"/>
<rect x="544.85" y="774.17" width="1.3" height="12.75" fill="#189418"/>
<rect x="554.75" y="774.17" width="1.3" height="12.75" fill="#189418"/>
<rect x="564.95" y="774.17" width="1.3" height="12.75" fill="#189418"/>
<rect x="575.05" y="774.17" width="1.3" height="12.75" fill="#189418"/>
<rect x="584.95" y="774.17" width="1.3" height="12.75" fill="#189418"/>
<rect x="595.15" y="774.17" width="1.3" height="12.75" fill="#189418"/>
<rect x="605.45" y="774.17" width="1.3" height="12.75" fill="#189418"/>
<rect x="615.65" y="774.17" width="1.3" height="12.75" fill="#189418"/>
<rect x="625.85" y="774.17" width="1.3" height="12.75" fill="#8a424c"/>
<rect x="635.85" y="774.17" width="1.3" height="12.75" fill="#8a424c"/>
<rect x="646.15" y="774.17" width="1.3" height="12.75" fill="#8a424c"/>
<rect x="656.05" y="774.17" width="1.3" height="12.75" fill="#8a424c"/>
<rect x="666.65" y="774.17" width="1.3" height="12.75" fill="#8a424c"/>
<rect x="676.85" y="774.17" width="1.3" height="12.75" fill="#8a424c"/>
<rect x="686.95" y="774.17" width="1.3" height="12.75" fill="#8a424c"/>
<rect x="696.85" y="774.17" width="1.3" height="12.75" fill="#0c0870"/>
<rect x="707.05" y="774.17" width="1.3" height="12.75" fill="#0c0870"/>
<rect x="716.95" y="774.17" width="1.3" height="12.75" fill="#0c0870"/>
<rect x="727.15" y="774.17" width="1.3" height="12.75" fill="#0c0870"/>
<rect x="737.85" y="774.17" width="1.3" height="12.75" fill="#0c0870"/>
<rect x="747.85" y="774.17" width="1.3" height="12.75" fill="#0c0870"/>
<rect x="757.75" y="774.17" width="1.3" height="12.75" fill="#0c0870"/>
<rect x="767.95" y="774.17" width="1.3" height="12.75" fill="#0c0870"/>
<rect x="777.85" y="774.17" width="1.3" height="12.75" fill="#0c0870"/>
<rect x="788.05" y="774.17" width="1.3" height="12.75" fill="#8a424c"/>
<rect x="798.45" y="774.17" width="1.3" height="12.75" fill="#0c0870"/>
<rect x="808.85" y="774.17" width="1.3" height="12.75" fill="#8a424c"/>
<rect x="828.75" y="774.17" width="1.3" height="12.75" fill="#189418"/>
<rect x="838.95" y="774.17" width="1.3" height="12.75" fill="#189418"/>
<rect x="848.95" y="774.17" width="1.3" height="12.75" fill="#189418"/>
<rect x="503.75" y="790.08" width="1.3" height="12.75" fill="#e4aa55"/>
<rect x="513.85" y="790.08" width="1.3" height="12.75" fill="#e4aa55"/>
<rect x="523.95" y="790.08" width="1.3" height="12.75" fill="#e4aa55"/>
<rect x="534.95" y="790.08" width="1.3" height="12.75" fill="#e4aa55"/>
<rect x="544.85" y="790.08" width="1.3" height="12.75" fill="#e4aa55"/>
<rect x="554.75" y="790.08" width="1.3" height="12.75" fill="#e4aa55"/>
<rect x="564.95" y="790.08" width="1.3" height="12.75" fill="#e4aa55"/>
<rect x="575.05" y="790.08" width="1.3" height="12.75" fill="#e4aa55"/>
<rect x="523.95" y="806.00" width="1.3" height="12.75" fill="#189418"/>
<rect x="534.95" y="806.00" width="1.3" height="12.75" fill="#189418"/>
<rect x="544.85" y="806.00" width="1.3" height="12.75" fill="#189418"/>
<rect x="554.75" y="806.00" width="1.3" height="12.75" fill="#189418"/>
<rect x="564.95" y="806.00" width="1.3" height="12.75" fill="#189418"/>
<rect x="575.05" y="806.00" width="1.3" height="12.75" fill="#189418"/>
<rect x="584.95" y="806.00" width="1.3" height="12.75" fill="#189418"/>
<rect x="595.15" y="806.00" width="1.3" height="12.75" fill="#8a424c"/>
<rect x="605.45" y="806.00" width="1.3" height="12.75" fill="#189418"/>
<rect x="615.65" y="806.00" width="1.3" height="12.75" fill="#189418"/>
<rect x="625.85" y="806.00" width="1.3" height="12.75" fill="#189418"/>
<rect x="635.85" y="806.00" width="1.3" height="12.75" fill="#189418"/>
<rect x="646.15" y="806.00" width="1.3" height="12.75" fill="#189418"/>
<rect x="656.05" y="806.00" width="1.3" height="12.75" fill="#189418"/>
<rect x="666.65" y="806.00" width="1.3" height="12.75" fill="#189418"/>
<rect x="676.85" y="806.00" width="1.3" height="12.75" fill="#189418"/>
<rect x="686.95" y="806.00" width="1.3" height="12.75" fill="#189418"/>
<rect x="696.85" y="806.00" width="1.3" height="12.75" fill="#189418"/>
<rect x="707.05" y="806.00" width="1.3" height="12.75" fill="#e4aa55"/>
<rect x="716.95" y="806.00" width="1.3" height="12.75" fill="#e4aa55"/>
<rect x="727.15" y="806.00" width="1.3" height="12.75" fill="#189418"/>
<rect x="737.85" y="806.00" width="1.3" height="12.75" fill="#189418"/>
<rect x="747.85" y="806.00" width="1.3" height="12.75" fill="#189418"/>
<rect x="757.75" y="806.00" width="1.3" height="12.75" fill="#189418"/>
<rect x="767.95" y="806.00" width="1.3" height="12.75" fill="#189418"/>
<rect x="777.85" y="806.00" width="1.3" height="12.75" fill="#189418"/>
<rect x="788.05" y="806.00" width="1.3" height="12.75" fill="#189418"/>
<rect x="798.45" y="806.00" width="1.3" height="12.75" fill="#189418"/>
<rect x="808.85" y="806.00" width="1.3" height="12.75" fill="#189418"/>
<rect x="828.75" y="806.00" width="1.3" height="12.75" fill="#189418"/>
<rect x="838.95" y="806.00" width="1.3" height="12.75" fill="#189418"/>
<rect x="848.95" y="806.00" width="1.3" height="12.75" fill="#189418"/>
<rect x="523.95" y="821.91" width="1.3" height="12.75" fill="#e4aa55"/>
<rect x="534.95" y="821.91" width="1.3" height="12.75" fill="#e4aa55"/>
<rect x="544.85" y="821.91" width="1.3" height="12.75" fill="#e4aa55"/>
<rect x="554.75" y="821.91" width="1.3" height="12.75" fill="#e4aa55"/>
<rect x="564.95" y="821.91" width="1.3" height="12.75" fill="#e4aa55"/>
<rect x="575.05" y="821.91" width="1.3" height="12.75" fill="#e4aa55"/>
<rect x="584.95" y="821.91" width="1.3" height="12.75" fill="#e4aa55"/>
<rect x="595.15" y="821.91" width="1.3" height="12.75" fill="#e4aa55"/>
<rect x="605.45" y="837.83" width="1.3" height="12.75" fill="#e4aa55"/>
<rect x="615.65" y="837.83" width="1.3" height="12.75" fill="#e4aa55"/>
<rect x="625.85" y="837.83" width="1.3" height="12.75" fill="#189418"/>
<rect x="635.85" y="837.83" width="1.3" height="12.75" fill="#189418"/>
<rect x="646.15" y="837.83" width="1.3" height="12.75" fill="#189418"/>
<rect x="656.05" y="837.83" width="1.3" height="12.75" fill="#189418"/>
<rect x="666.65" y="837.83" width="1.3" height="12.75" fill="#e4aa55"/>
<rect x="676.85" y="837.83" width="1.3" height="12.75" fill="#189418"/>
<rect x="686.95" y="837.83" width="1.3" height="12.75" fill="#189418"/>
<rect x="696.85" y="837.83" width="1.3" height="12.75" fill="#189418"/>
<rect x="707.05" y="837.83" width="1.3" height="12.75" fill="#8a424c"/>
<rect x="716.95" y="837.83" width="1.3" height="12.75" fill="#8a424c"/>
<rect x="727.15" y="837.83" width="1.3" height="12.75" fill="#8a424c"/>
<rect x="737.85" y="837.83" width="1.3" height="12.75" fill="#8a424c"/>
<rect x="747.85" y="837.83" width="1.3" height="12.75" fill="#8a424c"/>
<rect x="757.75" y="837.83" width="1.3" height="12.75" fill="#8a424c"/>
<rect x="767.95" y="837.83" width="1.3" height="12.75" fill="#8a424c"/>
<rect x="777.85" y="837.83" width="1.3" height="12.75" fill="#8a424c"/>
<rect x="788.05" y="837.83" width="1.3" height="12.75" fill="#8a424c"/>
<rect x="798.45" y="837.83" width="1.3" height="12.75" fill="#189418"/>
<rect x="808.85" y="837.83" width="1.3" height="12.75" fill="#eeee20"/>
<rect x="828.75" y="837.83" width="1.3" height="12.75" fill="#eeee20"/>
<rect x="838.95" y="837.83" width="1.3" height="12.75" fill="#eeee20"/>
<rect x="848.95" y="837.83" width="1.3" height="12.75" fill="#189418"/>
<rect x="534.95" y="853.75" width="1.3" height="12.75" fill="#189418"/>
<rect x="544.85" y="853.75" width="1.3" height="12.75" fill="#8a424c"/>
<rect x="554.75" y="853.75" width="1.3" height="12.75" fill="#8a424c"/>
<rect x="564.95" y="853.75" width="1.3" height="12.75" fill="#0c0870"/>
<rect x="575.05" y="853.75" width="1.3" height="12.75" fill="#0c0870"/>
<rect x="584.95" y="853.75" width="1.3" height="12.75" fill="#0c0870"/>
<rect x="595.15" y="853.75" width="1.3" height="12.75" fill="#0c0870"/>
<rect x="605.45" y="853.75" width="1.3" height="12.75" fill="#0c0870"/>
<rect x="615.65" y="853.75" width="1.3" height="12.75" fill="#0c0870"/>
<rect x="625.85" y="853.75" width="1.3" height="12.75" fill="#8a424c"/>
<rect x="635.85" y="853.75" width="1.3" height="12.75" fill="#0c0870"/>
<rect x="646.15" y="853.75" width="1.3" height="12.75" fill="#0c0870"/>
<rect x="656.05" y="853.75" width="1.3" height="12.75" fill="#0c0870"/>
<rect x="666.65" y="853.75" width="1.3" height="12.75" fill="#0c0870"/>
<rect x="676.85" y="853.75" width="1.3" height="12.75" fill="#0c0870"/>
<rect x="686.95" y="853.75" width="1.3" height="12.75" fill="#0c0870"/>
<rect x="696.85" y="853.75" width="1.3" height="12.75" fill="#0c0870"/>
<rect x="707.05" y="853.75" width="1.3" height="12.75" fill="#8a424c"/>
<rect x="716.95" y="853.75" width="1.3" height="12.75" fill="#8a424c"/>
<rect x="727.15" y="853.75" width="1.3" height="12.75" fill="#8a424c"/>
<rect x="737.85" y="853.75" width="1.3" height="12.75" fill="#8a424c"/>
<rect x="747.85" y="853.75" width="1.3" height="12.75" fill="#8a424c"/>
<rect x="767.95" y="853.75" width="1.3" height="12.75" fill="#e4aa55"/>
<rect x="777.85" y="853.75" width="1.3" height="12.75" fill="#e4aa55"/>
<rect x="788.05" y="853.75" width="1.3" height="12.75" fill="#e4aa55"/>
<rect x="798.45" y="853.75" width="1.3" height="12.75" fill="#189418"/>
<rect x="808.85" y="853.75" width="1.3" height="12.75" fill="#eeee20"/>
<rect x="828.75" y="853.75" width="1.3" height="12.75" fill="#eeee20"/>
<rect x="838.95" y="853.75" width="1.3" height="12.75" fill="#eeee20"/>
<rect x="848.95" y="853.75" width="1.3" height="12.75" fill="#eeee20"/>
<rect x="575.05" y="869.66" width="1.3" height="12.75" fill="#e4aa55"/>
<rect x="595.15" y="885.57" width="1.3" height="12.75" fill="#189418"/>
<rect x="605.45" y="885.57" width="1.3" height="12.75" fill="#e4aa55"/>
<rect x="615.65" y="885.57" width="1.3" height="12.75" fill="#e4aa55"/>
<rect x="625.85" y="885.57" width="1.3" height="12.75" fill="#e4aa55"/>
<rect x="635.85" y="885.57" width="1.3" height="12.75" fill="#e4aa55"/>
<rect x="646.15" y="885.57" width="1.3" height="12.75" fill="#e4aa55"/>
<rect x="656.05" y="885.57" width="1.3" height="12.75" fill="#e4aa55"/>
<rect x="666.65" y="885.57" width="1.3" height="12.75" fill="#e4aa55"/>
<rect x="676.85" y="885.57" width="1.3" height="12.75" fill="#e4aa55"/>
<rect x="686.95" y="885.57" width="1.3" height="12.75" fill="#e4aa55"/>
<rect x="696.85" y="885.57" width="1.3" height="12.75" fill="#189418"/>
<rect x="707.05" y="885.57" width="1.3" height="12.75" fill="#189418"/>
<rect x="716.95" y="885.57" width="1.3" height="12.75" fill="#189418"/>
<rect x="727.15" y="885.57" width="1.3" height="12.75" fill="#189418"/>
<rect x="737.85" y="885.57" width="1.3" height="12.75" fill="#189418"/>
<rect x="747.85" y="885.57" width="1.3" height="12.75" fill="#189418"/>
<rect x="757.75" y="885.57" width="1.3" height="12.75" fill="#189418"/>
<rect x="767.95" y="885.57" width="1.3" height="12.75" fill="#189418"/>
<rect x="777.85" y="885.57" width="1.3" height="12.75" fill="#e4aa55"/>
<rect x="788.05" y="885.57" width="1.3" height="12.75" fill="#e4aa55"/>
<rect x="798.45" y="885.57" width="1.3" height="12.75" fill="#e4aa55"/>
<rect x="808.85" y="885.57" width="1.3" height="12.75" fill="#eeee20"/>
<rect x="828.75" y="885.57" width="1.3" height="12.75" fill="#eeee20"/>
<rect x="838.95" y="885.57" width="1.3" height="12.75" fill="#eeee20"/>
<rect x="848.95" y="885.57" width="1.3" height="12.75" fill="#eeee20"/>
<rect x="615.65" y="901.49" width="1.3" height="12.75" fill="#e4aa55"/>
<rect x="625.85" y="901.49" width="1.3" height="12.75" fill="#e4aa55"/>
<rect x="635.85" y="901.49" width="1.3" height="12.75" fill="#e4aa55"/>
<rect x="646.15" y="901.49" width="1.3" height="12.75" fill="#e4aa55"/>
<rect x="656.05" y="901.49" width="1.3" height="12.75" fill="#e4aa55"/>
<rect x="666.65" y="901.49" width="1.3" height="12.75" fill="#e4aa55"/>
<rect x="676.85" y="901.49" width="1.3" height="12.75" fill="#e4aa55"/>
<rect x="686.95" y="901.49" width="1.3" height="12.75" fill="#e4aa55"/>
<rect x="696.85" y="901.49" width="1.3" height="12.75" fill="#e4aa55"/>
<rect x="707.05" y="901.49" width="1.3" height="12.75" fill="#e4aa55"/>
<rect x="716.95" y="901.49" width="1.3" height="12.75" fill="#189418"/>
<rect x="727.15" y="901.49" width="1.3" height="12.75" fill="#189418"/>
<rect x="737.85" y="901.49" width="1.3" height="12.75" fill="#189418"/>
<rect x="747.85" y="901.49" width="1.3" height="12.75" fill="#189418"/>
<rect x="757.75" y="901.49" width="1.3" height="12.75" fill="#189418"/>
<rect x="767.95" y="901.49" width="1.3" height="12.75" fill="#189418"/>
<rect x="777.85" y="901.49" width="1.3" height="12.75" fill="#189418"/>
<rect x="788.05" y="901.49" width="1.3" height="12.75" fill="#189418"/>
<rect x="798.45" y="901.49" width="1.3" height="12.75" fill="#189418"/>
<rect x="808.85" y="901.49" width="1.3" height="12.75" fill="#eeee20"/>
<rect x="828.75" y="901.49" width="1.3" height="12.75" fill="#e4aa55"/>
<rect x="838.95" y="901.49" width="1.3" height="12.75" fill="#e4aa55"/>
<rect x="848.95" y="901.49" width="1.3" height="12.75" fill="#e4aa55"/>
<rect x="615.65" y="917.40" width="1.3" height="12.75" fill="#0c0870"/>
<rect x="625.85" y="917.40" width="1.3" height="12.75" fill="#0c0870"/>
<rect x="635.85" y="917.40" width="1.3" height="12.75" fill="#0c0870"/>
<rect x="646.15" y="917.40" width="1.3" height="12.75" fill="#0c0870"/>
<rect x="656.05" y="917.40" width="1.3" height="12.75" fill="#0c0870"/>
<rect x="666.65" y="917.40" width="1.3" height="12.75" fill="#0c0870"/>
<rect x="676.85" y="917.40" width="1.3" height="12.75" fill="#0c0870"/>
<rect x="686.95" y="917.40" width="1.3" height="12.75" fill="#0c0870"/>
<rect x="696.85" y="917.40" width="1.3" height="12.75" fill="#0c0870"/>
<rect x="707.05" y="917.40" width="1.3" height="12.75" fill="#0c0870"/>
<rect x="716.95" y="917.40" width="1.3" height="12.75" fill="#0c0870"/>
<rect x="727.15" y="917.40" width="1.3" height="12.75" fill="#0c0870"/>
<rect x="737.85" y="917.40" width="1.3" height="12.75" fill="#0c0870"/>
<rect x="747.85" y="917.40" width="1.3" height="12.75" fill="#0c0870"/>
<rect x="757.75" y="917.40" width="1.3" height="12.75" fill="#0c0870"/>
<rect x="767.95" y="917.40" width="1.3" height="12.75" fill="#0c0870"/>
<rect x="777.85" y="917.40" width="1.3" height="12.75" fill="#0c0870"/>
<rect x="788.05" y="917.40" width="1.3" height="12.75" fill="#0c0870"/>
<rect x="798.45" y="917.40" width="1.3" height="12.75" fill="#0c0870"/>
<rect x="808.85" y="917.40" width="1.3" height="12.75" fill="#0c0870"/>
<rect x="828.75" y="917.40" width="1.3" height="12.75" fill="#0c0870"/>
<rect x="838.95" y="917.40" width="1.3" height="12.75" fill="#0c0870"/>
<rect x="848.95" y="917.40" width="1.3" height="12.75" fill="#0c0870"/>
<rect x="666.65" y="933.32" width="1.3" height="12.75" fill="#e4aa55"/>
<rect x="676.85" y="933.32" width="1.3" height="12.75" fill="#e4aa55"/>
<rect x="686.95" y="933.32" width="1.3" height="12.75" fill="#e4aa55"/>
<rect x="696.85" y="933.32" width="1.3" height="12.75" fill="#e4aa55"/>
<rect x="707.05" y="933.32" width="1.3" height="12.75" fill="#e4aa55"/>
<rect x="716.95" y="933.32" width="1.3" height="12.75" fill="#e4aa55"/>
<rect x="727.15" y="933.32" width="1.3" height="12.75" fill="#e4aa55"/>
<rect x="737.85" y="933.32" width="1.3" height="12.75" fill="#189418"/>
<rect x="747.85" y="933.32" width="1.3" height="12.75" fill="#189418"/>
<rect x="757.75" y="933.32" width="1.3" height="12.75" fill="#189418"/>
<rect x="767.95" y="933.32" width="1.3" height="12.75" fill="#e4aa55"/>
<rect x="777.85" y="933.32" width="1.3" height="12.75" fill="#e4aa55"/>
<rect x="788.05" y="933.32" width="1.3" height="12.75" fill="#e4aa55"/>
<rect x="798.45" y="933.32" width="1.3" height="12.75" fill="#e4aa55"/>
<rect x="808.85" y="933.32" width="1.3" height="12.75" fill="#eeee20"/>
<rect x="828.75" y="933.32" width="1.3" height="12.75" fill="#eeee20"/>
<rect x="838.95" y="933.32" width="1.3" height="12.75" fill="#eeee20"/>
<rect x="686.95" y="949.23" width="1.3" height="12.75" fill="#0c0870"/>
<rect x="696.85" y="949.23" width="1.3" height="12.75" fill="#0c0870"/>
<rect x="707.05" y="949.23" width="1.3" height="12.75" fill="#0c0870"/>
<rect x="716.95" y="949.23" width="1.3" height="12.75" fill="#0c0870"/>
<rect x="727.15" y="949.23" width="1.3" height="12.75" fill="#0c0870"/>
<rect x="737.85" y="949.23" width="1.3" height="12.75" fill="#0c0870"/>
<rect x="747.85" y="949.23" width="1.3" height="12.75" fill="#0c0870"/>
<rect x="757.75" y="949.23" width="1.3" height="12.75" fill="#0c0870"/>
<rect x="767.95" y="949.23" width="1.3" height="12.75" fill="#0c0870"/>
<rect x="777.85" y="949.23" width="1.3" height="12.75" fill="#0c0870"/>
<rect x="788.05" y="949.23" width="1.3" height="12.75" fill="#0c0870"/>
<rect x="798.45" y="949.23" width="1.3" height="12.75" fill="#0c0870"/>
<rect x="808.85" y="949.23" width="1.3" height="12.75" fill="#0c0870"/>
<rect x="828.75" y="949.23" width="1.3" height="12.75" fill="#0c0870"/>
<rect x="838.95" y="949.23" width="1.3" height="12.75" fill="#0c0870"/>
<rect x="848.95" y="949.23" width="1.3" height="12.75" fill="#0c0870"/>
<rect x="707.05" y="965.15" width="1.3" height="12.75" fill="#e4aa55"/>
<rect x="716.95" y="965.15" width="1.3" height="12.75" fill="#e4aa55"/>
<rect x="727.15" y="965.15" width="1.3" height="12.75" fill="#e4aa55"/>
<rect x="737.85" y="965.15" width="1.3" height="12.75" fill="#e4aa55"/>
<rect x="747.85" y="965.15" width="1.3" height="12.75" fill="#e4aa55"/>
<rect x="737.85" y="981.06" width="1.3" height="12.75" fill="#e4aa55"/>
<rect x="747.85" y="981.06" width="1.3" height="12.75" fill="#e4aa55"/>
<rect x="757.75" y="981.06" width="1.3" height="12.75" fill="#e4aa55"/>
<rect x="767.95" y="981.06" width="1.3" height="12.75" fill="#189418"/>
<rect x="777.85" y="981.06" width="1.3" height="12.75" fill="#189418"/>
<rect x="788.05" y="981.06" width="1.3" height="12.75" fill="#189418"/>
<rect x="798.45" y="981.06" width="1.3" height="12.75" fill="#8a424c"/>
<rect x="808.85" y="981.06" width="1.3" height="12.75" fill="#8a424c"/>
<rect x="828.75" y="981.06" width="1.3" height="12.75" fill="#8a424c"/>
<rect x="838.95" y="981.06" width="1.3" height="12.75" fill="#0c0870"/>
<rect x="848.95" y="981.06" width="1.3" height="12.75" fill="#0c0870"/>
<rect x="808.85" y="996.98" width="1.3" height="12.75" fill="#e4aa55"/>
<rect x="828.75" y="996.98" width="1.3" height="12.75" fill="#e4aa55"/>
<rect x="838.95" y="996.98" width="1.3" height="12.75" fill="#e4aa55"/>
<rect x="848.95" y="996.98" width="1.3" height="12.75" fill="#e4aa55"/>
<rect x="828.75" y="1012.89" width="1.3" height="12.75" fill="#0c0870"/>
<rect x="838.95" y="1012.89" width="1.3" height="12.75" fill="#0c0870"/>
<rect x="848.95" y="1012.89" width="1.3" height="12.75" fill="#0c0870"/>
<rect x="838.95" y="1028.81" width="1.3" height="12.75" fill="#8a424c"/>
<rect x="848.95" y="1028.81" width="1.3" height="12.75" fill="#8a424c"/>
<rect x="838.95" y="1044.72" width="1.3" height="12.75" fill="#189418"/>
<rect x="848.95" y="1044.72" width="1.3" height="12.75" fill="#eeee20"/>
<rect x="554.80" y="328.55" width="1.15" height="12.75" fill="#000"/>
<rect x="484.00" y="567.27" width="1.15" height="12.75" fill="#000"/>
<rect x="484.00" y="583.19" width="1.15" height="12.75" fill="#000"/>
<rect x="605.50" y="821.91" width="1.15" height="12.75" fill="#000"/>
<g font-size="10" fill="#111" stroke="#111" stroke-width="0.15" word-spacing="1.2">
<text x="201.4" y="20.6" text-anchor="end">Bayswater</text>
<text x="201.4" y="36.5" text-anchor="end">Bayswater Reserves</text>
<text x="201.4" y="52.4" text-anchor="end">Blackburn</text>
<text x="201.4" y="68.3" text-anchor="end">Boronia</text>
<text x="201.4" y="84.2" text-anchor="end">Coldstream</text>
<text x="201.4" y="100.1" text-anchor="end">Croydon</text>
<text x="201.4" y="116.0" text-anchor="end">Doncaster</text>
<text x="201.4" y="131.9" text-anchor="end">East Burwood</text>
<text x="201.4" y="147.8" text-anchor="end">East Ringwood</text>
<text x="201.4" y="163.7" text-anchor="end">Heathmont</text>
<text x="201.4" y="179.6" text-anchor="end">Kilsyth</text>
<text x="201.4" y="195.5" text-anchor="end">Mitcham</text>
<text x="201.4" y="211.4" text-anchor="end">Mt Evelyn</text>
<text x="201.4" y="227.3" text-anchor="end">Mulgrave</text>
<text x="201.4" y="243.2" text-anchor="end">Nunawading</text>
<text x="201.4" y="259.1" text-anchor="end">Nth Ringwood (Ringwood Catholic Rovers)</text>
<text x="201.4" y="275.0" text-anchor="end">Norwood</text>
<text x="201.4" y="290.9" text-anchor="end">Ringwood</text>
<text x="201.4" y="306.8" text-anchor="end">Scoresby</text>
<text x="201.4" y="322.7" text-anchor="end">Silvan</text>
<text x="201.4" y="338.6" text-anchor="end">Surrey Hills</text>
<text x="201.4" y="354.5" text-anchor="end">Surrey Park</text>
<text x="201.4" y="370.4" text-anchor="end">The Basin</text>
<text x="201.4" y="386.3" text-anchor="end">Vermont</text>
<text x="201.4" y="402.2" text-anchor="end">Wandin</text>
<text x="201.4" y="418.1" text-anchor="end">Warrandyte</text>
<text x="201.4" y="434.0" text-anchor="end">Yarra Glen</text>
<text x="201.4" y="449.9" text-anchor="end">Ferntree Gully</text>
<text x="201.4" y="465.8" text-anchor="end">Lilydale</text>
<text x="201.4" y="481.7" text-anchor="end">Montrose</text>
<text x="201.4" y="497.6" text-anchor="end">Olinda-Ferny Creek</text>
<text x="201.4" y="513.5" text-anchor="end">Rowville</text>
<text x="201.4" y="529.4" text-anchor="end">Wantirna South</text>
<text x="201.4" y="545.3" text-anchor="end">Mooroolbark</text>
<text x="201.4" y="561.2" text-anchor="end">Upper Ferntree Gully</text>
<text x="201.4" y="577.1" text-anchor="end">Bennettswood</text>
<text x="201.4" y="593.0" text-anchor="end">Blackburn South</text>
<text x="201.4" y="608.9" text-anchor="end">Bennettswood Blackburn South</text>
<text x="201.4" y="624.8" text-anchor="end">South Belgrave</text>
<text x="201.4" y="640.7" text-anchor="end">South Croydon</text>
<text x="201.4" y="656.6" text-anchor="end">Doncaster 3rds</text>
<text x="201.4" y="672.5" text-anchor="end">East Hawthorn</text>
<text x="201.4" y="688.4" text-anchor="end">Forest Hill</text>
<text x="201.4" y="704.3" text-anchor="end">Southern Cobras (Sandown-SWS)</text>
<text x="201.4" y="720.2" text-anchor="end">Fairpark (Eastern Lions)</text>
<text x="201.4" y="736.1" text-anchor="end">Doncaster East (Beverley Hills)</text>
<text x="201.4" y="752.0" text-anchor="end">Clayton</text>
<text x="201.4" y="767.9" text-anchor="end">North Croydon (Wonga Park)</text>
<text x="201.4" y="783.8" text-anchor="end">Knox</text>
<text x="201.4" y="799.7" text-anchor="end">Noble Park Bears</text>
<text x="201.4" y="815.6" text-anchor="end">Templestowe</text>
<text x="201.4" y="831.5" text-anchor="end">Waverley</text>
<text x="201.4" y="847.4" text-anchor="end">Waverley Blues</text>
<text x="201.4" y="863.3" text-anchor="end">Donvale</text>
<text x="201.4" y="879.2" text-anchor="end">Balwyn Combined</text>
<text x="201.4" y="895.1" text-anchor="end">Whitehorse Pioneers</text>
<text x="201.4" y="911.0" text-anchor="end">Chirnside Park</text>
<text x="201.4" y="926.9" text-anchor="end">Noble Park</text>
<text x="201.4" y="942.8" text-anchor="end">Glen Waverley</text>
<text x="201.4" y="958.7" text-anchor="end">Balwyn</text>
<text x="201.4" y="974.6" text-anchor="end">Canterbury</text>
<text x="201.4" y="990.5" text-anchor="end">Park Orchards</text>
<text x="201.4" y="1006.4" text-anchor="end">Croydon North MLOC</text>
<text x="201.4" y="1022.3" text-anchor="end">Berwick</text>
<text x="201.4" y="1038.2" text-anchor="end">Beaconsfield</text>
<text x="201.4" y="1054.1" text-anchor="end">Oakleigh District</text>
</g>
<line x1="210.6" y1="10" x2="210.6" y2="1066" stroke="#000" stroke-width="1.2"/>
<line x1="210" y1="1060.5" x2="861" y2="1060.5" stroke="#000" stroke-width="1.2"/>
<line x1="230.4" y1="1060.5" x2="230.4" y2="1063.0" stroke="#000" stroke-width="1.1"/>
<line x1="240.5" y1="1060.5" x2="240.5" y2="1063.0" stroke="#000" stroke-width="1.1"/>
<line x1="250.4" y1="1060.5" x2="250.4" y2="1063.0" stroke="#000" stroke-width="1.1"/>
<line x1="260.6" y1="1060.5" x2="260.6" y2="1063.0" stroke="#000" stroke-width="1.1"/>
<line x1="270.5" y1="1060.5" x2="270.5" y2="1063.0" stroke="#000" stroke-width="1.1"/>
<line x1="281.2" y1="1060.5" x2="281.2" y2="1063.0" stroke="#000" stroke-width="1.1"/>
<line x1="291.6" y1="1060.5" x2="291.6" y2="1063.0" stroke="#000" stroke-width="1.1"/>
<line x1="301.5" y1="1060.5" x2="301.5" y2="1063.0" stroke="#000" stroke-width="1.1"/>
<line x1="311.4" y1="1060.5" x2="311.4" y2="1066.0" stroke="#000" stroke-width="1.1"/>
<line x1="321.6" y1="1060.5" x2="321.6" y2="1063.0" stroke="#000" stroke-width="1.1"/>
<line x1="331.5" y1="1060.5" x2="331.5" y2="1063.0" stroke="#000" stroke-width="1.1"/>
<line x1="342.1" y1="1060.5" x2="342.1" y2="1063.0" stroke="#000" stroke-width="1.1"/>
<line x1="352.4" y1="1060.5" x2="352.4" y2="1063.0" stroke="#000" stroke-width="1.1"/>
<line x1="362.5" y1="1060.5" x2="362.5" y2="1063.0" stroke="#000" stroke-width="1.1"/>
<line x1="372.5" y1="1060.5" x2="372.5" y2="1063.0" stroke="#000" stroke-width="1.1"/>
<line x1="382.4" y1="1060.5" x2="382.4" y2="1063.0" stroke="#000" stroke-width="1.1"/>
<line x1="392.6" y1="1060.5" x2="392.6" y2="1063.0" stroke="#000" stroke-width="1.1"/>
<line x1="402.7" y1="1060.5" x2="402.7" y2="1063.0" stroke="#000" stroke-width="1.1"/>
<line x1="413.4" y1="1060.5" x2="413.4" y2="1066.0" stroke="#000" stroke-width="1.1"/>
<line x1="423.6" y1="1060.5" x2="423.6" y2="1063.0" stroke="#000" stroke-width="1.1"/>
<line x1="433.5" y1="1060.5" x2="433.5" y2="1063.0" stroke="#000" stroke-width="1.1"/>
<line x1="443.4" y1="1060.5" x2="443.4" y2="1063.0" stroke="#000" stroke-width="1.1"/>
<line x1="453.6" y1="1060.5" x2="453.6" y2="1063.0" stroke="#000" stroke-width="1.1"/>
<line x1="463.5" y1="1060.5" x2="463.5" y2="1063.0" stroke="#000" stroke-width="1.1"/>
<line x1="474.6" y1="1060.5" x2="474.6" y2="1063.0" stroke="#000" stroke-width="1.1"/>
<line x1="484.5" y1="1060.5" x2="484.5" y2="1063.0" stroke="#000" stroke-width="1.1"/>
<line x1="494.4" y1="1060.5" x2="494.4" y2="1063.0" stroke="#000" stroke-width="1.1"/>
<line x1="504.3" y1="1060.5" x2="504.3" y2="1063.0" stroke="#000" stroke-width="1.1"/>
<line x1="514.4" y1="1060.5" x2="514.4" y2="1066.0" stroke="#000" stroke-width="1.1"/>
<line x1="524.5" y1="1060.5" x2="524.5" y2="1063.0" stroke="#000" stroke-width="1.1"/>
<line x1="535.5" y1="1060.5" x2="535.5" y2="1063.0" stroke="#000" stroke-width="1.1"/>
<line x1="545.4" y1="1060.5" x2="545.4" y2="1063.0" stroke="#000" stroke-width="1.1"/>
<line x1="555.3" y1="1060.5" x2="555.3" y2="1063.0" stroke="#000" stroke-width="1.1"/>
<line x1="565.5" y1="1060.5" x2="565.5" y2="1063.0" stroke="#000" stroke-width="1.1"/>
<line x1="575.6" y1="1060.5" x2="575.6" y2="1063.0" stroke="#000" stroke-width="1.1"/>
<line x1="585.5" y1="1060.5" x2="585.5" y2="1063.0" stroke="#000" stroke-width="1.1"/>
<line x1="595.7" y1="1060.5" x2="595.7" y2="1063.0" stroke="#000" stroke-width="1.1"/>
<line x1="606.0" y1="1060.5" x2="606.0" y2="1063.0" stroke="#000" stroke-width="1.1"/>
<line x1="616.2" y1="1060.5" x2="616.2" y2="1066.0" stroke="#000" stroke-width="1.1"/>
<line x1="626.4" y1="1060.5" x2="626.4" y2="1063.0" stroke="#000" stroke-width="1.1"/>
<line x1="636.4" y1="1060.5" x2="636.4" y2="1063.0" stroke="#000" stroke-width="1.1"/>
<line x1="646.7" y1="1060.5" x2="646.7" y2="1063.0" stroke="#000" stroke-width="1.1"/>
<line x1="656.6" y1="1060.5" x2="656.6" y2="1063.0" stroke="#000" stroke-width="1.1"/>
<line x1="667.2" y1="1060.5" x2="667.2" y2="1063.0" stroke="#000" stroke-width="1.1"/>
<line x1="677.4" y1="1060.5" x2="677.4" y2="1063.0" stroke="#000" stroke-width="1.1"/>
<line x1="687.5" y1="1060.5" x2="687.5" y2="1063.0" stroke="#000" stroke-width="1.1"/>
<line x1="697.4" y1="1060.5" x2="697.4" y2="1063.0" stroke="#000" stroke-width="1.1"/>
<line x1="707.6" y1="1060.5" x2="707.6" y2="1063.0" stroke="#000" stroke-width="1.1"/>
<line x1="717.5" y1="1060.5" x2="717.5" y2="1066.0" stroke="#000" stroke-width="1.1"/>
<line x1="727.7" y1="1060.5" x2="727.7" y2="1063.0" stroke="#000" stroke-width="1.1"/>
<line x1="738.4" y1="1060.5" x2="738.4" y2="1063.0" stroke="#000" stroke-width="1.1"/>
<line x1="748.4" y1="1060.5" x2="748.4" y2="1063.0" stroke="#000" stroke-width="1.1"/>
<line x1="758.3" y1="1060.5" x2="758.3" y2="1063.0" stroke="#000" stroke-width="1.1"/>
<line x1="768.5" y1="1060.5" x2="768.5" y2="1063.0" stroke="#000" stroke-width="1.1"/>
<line x1="778.4" y1="1060.5" x2="778.4" y2="1063.0" stroke="#000" stroke-width="1.1"/>
<line x1="788.6" y1="1060.5" x2="788.6" y2="1063.0" stroke="#000" stroke-width="1.1"/>
<line x1="799.0" y1="1060.5" x2="799.0" y2="1063.0" stroke="#000" stroke-width="1.1"/>
<line x1="809.4" y1="1060.5" x2="809.4" y2="1063.0" stroke="#000" stroke-width="1.1"/>
<line x1="819.3" y1="1060.5" x2="819.3" y2="1066.0" stroke="#000" stroke-width="1.1"/>
<line x1="829.3" y1="1060.5" x2="829.3" y2="1063.0" stroke="#000" stroke-width="1.1"/>
<line x1="839.5" y1="1060.5" x2="839.5" y2="1063.0" stroke="#000" stroke-width="1.1"/>
<line x1="849.5" y1="1060.5" x2="849.5" y2="1063.0" stroke="#000" stroke-width="1.1"/>
<line x1="860.5" y1="1060.5" x2="860.5" y2="1063.0" stroke="#000" stroke-width="1.1"/>
<g font-size="10" fill="#111" stroke="#111" stroke-width="0.15" text-anchor="middle">
<text x="210.0" y="1078.9">1960</text>
<text x="311.0" y="1078.9">1970</text>
<text x="412.7" y="1078.9">1980</text>
<text x="513.9" y="1078.9">1990</text>
<text x="614.7" y="1078.9">2000</text>
<text x="715.3" y="1078.9">2010</text>
<text x="817.6" y="1078.9">2020</text>
</g>
<g font-size="10" fill="#111" stroke="#111" stroke-width="0.15" word-spacing="1.2">
<text x="558" y="339.6" word-spacing="0.8">Merged with East Cambwell to form Surrey Park</text>
<text x="487.6" y="585.2">Two Clubs Merged</text>
<text x="610" y="832.6" word-spacing="0.85">Merged with Mount Waverley Burwood to form Waverley Blues</text>
</g>
<text x="787.6" y="589.9" font-size="18.1" fill="#000">Covid-19</text>
<rect x="48" y="1091.9" width="12.9" height="12.9" fill="#0000ee"/>
<text x="70.5" y="1103.9" font-size="10" fill="#111" stroke="#111" stroke-width="0.15" word-spacing="0.5">Premier (Div 1)</text>
<rect x="188" y="1091.9" width="12.9" height="12.9" fill="#b34a57"/>
<text x="210.5" y="1103.9" font-size="10" fill="#111" stroke="#111" stroke-width="0.15" word-spacing="0.5">Division 1 (Div 2)</text>
<rect x="345" y="1091.9" width="12.9" height="12.9" fill="#0cae0c"/>
<text x="367.5" y="1103.9" font-size="10" fill="#111" stroke="#111" stroke-width="0.15" word-spacing="0.5">Division 2 (Div 3)</text>
<rect x="502" y="1091.9" width="12.9" height="12.9" fill="#ffff00"/>
<text x="524.5" y="1103.9" font-size="10" fill="#111" stroke="#111" stroke-width="0.15" word-spacing="0.5">Division 3 (2019-)</text>
<rect x="659" y="1091.9" width="12.9" height="12.9" fill="#ff9c22"/>
<text x="681.5" y="1103.9" font-size="10" fill="#111" stroke="#111" stroke-width="0.15" word-spacing="0.5">Division 4 (1986-)</text>
</svg></body></html>
